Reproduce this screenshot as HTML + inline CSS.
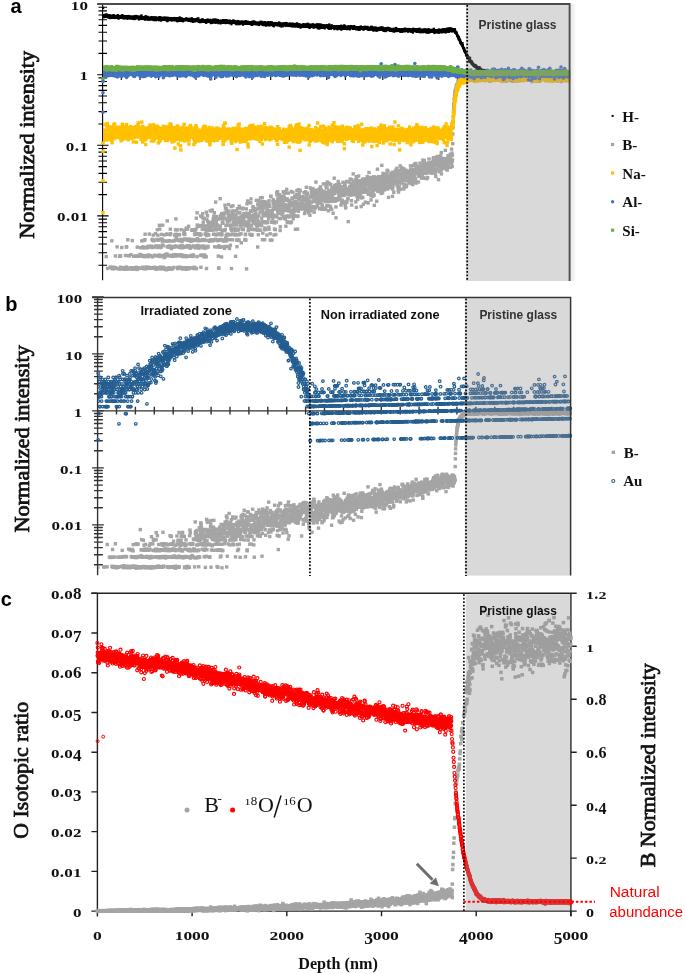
<!DOCTYPE html><html><head><meta charset="utf-8"><style>html,body{margin:0;padding:0;background:#fff}svg{display:block}</style></head><body>
<svg width="685" height="974" viewBox="0 0 685 974" font-family="Liberation Serif" style="will-change:transform">
<defs>
<marker id="mB" markerWidth="3.4" markerHeight="3.4" refX="1.7" refY="1.7" markerUnits="userSpaceOnUse" overflow="visible"><rect width="3.4" height="3.4" fill="#a5a5a5"/></marker>
<marker id="mNa" markerWidth="3.4" markerHeight="3.4" refX="1.7" refY="1.7" markerUnits="userSpaceOnUse" overflow="visible"><rect width="3.4" height="3.4" fill="#ffc000"/></marker>
<marker id="mAl" markerWidth="3.6" markerHeight="3.6" refX="1.8" refY="1.8" markerUnits="userSpaceOnUse" overflow="visible"><circle cx="1.8" cy="1.8" r="1.8" fill="#4472c4"/></marker>
<marker id="mSi" markerWidth="3.4" markerHeight="3.4" refX="1.7" refY="1.7" markerUnits="userSpaceOnUse" overflow="visible"><rect width="3.4" height="3.4" fill="#70ad47"/></marker>
<marker id="mH" markerWidth="2.2" markerHeight="2.2" refX="1.1" refY="1.1" markerUnits="userSpaceOnUse" overflow="visible"><rect width="2.2" height="2.2" fill="#000"/></marker>
<marker id="mAu" markerWidth="3.8" markerHeight="3.8" refX="1.9" refY="1.9" markerUnits="userSpaceOnUse" overflow="visible"><circle cx="1.9" cy="1.9" r="1.2999999999999998" fill="none" stroke="#255e91" stroke-width="1.2"/></marker>
<marker id="mR" markerWidth="4.2" markerHeight="4.2" refX="2.1" refY="2.1" markerUnits="userSpaceOnUse" overflow="visible"><circle cx="2.1" cy="2.1" r="1.5250000000000001" fill="none" stroke="#ff0000" stroke-width="1.15"/></marker>
<marker id="mBc" markerWidth="3.5" markerHeight="3.5" refX="1.75" refY="1.75" markerUnits="userSpaceOnUse" overflow="visible"><rect width="3.5" height="3.5" fill="#a5a5a5"/></marker>
<clipPath id="cA"><rect x="103" y="0" width="470" height="281"/></clipPath>
<clipPath id="cB"><rect x="98" y="298" width="474" height="280"/></clipPath>
<linearGradient id="sh" x1="0" x2="1" y1="0" y2="0"><stop offset="0" stop-color="#e6e6e6"/><stop offset="1" stop-color="#fff"/></linearGradient>
</defs>
<g stroke="#000" stroke-width="1.1" fill="none">
<line x1="102.6" y1="4" x2="102.6" y2="280.3"/>
<path d="M97.2 4.1H108.6 M97.2 74.7H108.6 M98.5 53.4H107 M98.5 41.0H107 M98.5 32.2H107 M98.5 25.4H107 M98.5 19.8H107 M98.5 15.0H107 M98.5 10.9H107 M98.5 7.3H107 M97.2 145.3H108.6 M98.5 124.0H107 M98.5 111.6H107 M98.5 102.8H107 M98.5 96.0H107 M98.5 90.4H107 M98.5 85.6H107 M98.5 81.5H107 M98.5 77.9H107 M97.2 215.9H108.6 M98.5 194.6H107 M98.5 182.2H107 M98.5 173.4H107 M98.5 166.6H107 M98.5 161.0H107 M98.5 156.2H107 M98.5 152.1H107 M98.5 148.5H107 M98.5 265.2H107 M98.5 252.8H107 M98.5 244.0H107 M98.5 237.2H107 M98.5 231.6H107 M98.5 226.8H107 M98.5 222.7H107 M98.5 219.1H107"/>
<line x1="102.6" y1="74.7" x2="569.6" y2="74.7"/>
<path d="M121.3 74.7V79.9 M140.0 74.7V79.9 M158.6 74.7V79.9 M177.3 74.7V79.9 M196.0 74.7V79.9 M214.7 74.7V79.9 M233.4 74.7V79.9 M252.0 74.7V79.9 M270.7 74.7V79.9 M289.4 74.7V79.9 M308.1 74.7V79.9 M326.8 74.7V79.9 M345.4 74.7V79.9 M364.1 74.7V79.9 M382.8 74.7V79.9 M401.5 74.7V79.9 M420.2 74.7V79.9 M438.8 74.7V79.9 M457.5 74.7V79.9 M476.2 74.7V79.9 M494.9 74.7V79.9 M513.6 74.7V79.9 M532.2 74.7V79.9 M550.9 74.7V79.9 M569.6 74.7V79.9"/>
</g>
<path fill="none" stroke="none" marker-start="url(#mB)" marker-mid="url(#mB)" marker-end="url(#mB)" clip-path="url(#cA)" d="M102.6 289.8l.2-.7.1-.9.2 0 .1.5.2.1.1 2.1.2-1.2.1-.5.2.2.2-.5.1-.2.2.3.1 1 .2-.3.1.3.2-1.3.1.4.2-.5.2.7.1.7.2-.5.1.5.2-33.4.1 33.8.2-1.6.1.8.2.5.2-.3.1-.4.2.1.1.1.2-21.1.1 20.4.2.7.2-1.3.1 1.6.2 1.2.1-1.2.2-.8.1.1.2-.2.1-.1.2-.6.2 1.4.1-1 .2.6.1.2.2-1.1.1-21.2.2 23.1.1-22.8.2 21.3.2 1.3.1-.3.2-.3.1 0 .2-.8.1-.1.2-47.8.1 50.2.2-22.4.2 20.5.1.1.2-21.9.1 21.3.2 0 .1-19.8.2 19.7.1 1.4.2-1.6.2-20.8.1 21.5.2-.1.1.1.2.4.1.8.2-1.4.1.2.2 0 .2.5.1-22 .2-11.5.1 34.2.2-1.5.1-20.4.2.2.1 21.1.2-1.2.2.7.1.5.2.4.1-.1.2-43 .1 43.4.2-.7.1 0 .2.5.2-.5.1.3.2-.6.1-.9.2-.2.1-19.5.2 20.8.2-.5.1.6.2-20.6.1 20.8.2-33.5.1 33.8.2-.8.1.1.2-33.2.2 11 .1-11.4.2 32.5.1 1.3.2-.4.1-20.8.2 21.1.1.5.2.2.2-42.7.1 41.5.2-.1.1 0 .2-20 .1 19.6.2.6.1.9.2-.4.2-.1.1-21.5.2 22.6.1-.3.2-22.5.1 21.3.2-20.4.1-.5.2-.6.2 21.8.1-21.1.2.9.1 20.9.2-1 .1-21 .2-12.6.1 34.6.2.8.2-22.4.1 21.2.2-42.6.1 20.2.2 0 .1-20.6.2 42.7.1-.2.2.3.2-.8.1-19.6.2 19.8.1-49.1.2 49.8.1.8.2-1.2.1.9.2 0 .2-34.3.1 33.7.2-33.8.1 34.2.2-.4.1-1.1.2-20.2.2 21.8.1-21.3.2-.1.1 19.9.2.6.1-.6.2-20.6.1-13.2.2 35.8.2-.1.1-22.4.2-.1.1 22.2.2-21.7.1.1.2 20.5.1-48.4.2 28.2.2-.3.1.2.2 20.7.1.1.2-.6.1-20.4.2 21.2.1-33.4.2 31.8.2-19.5.1 20.4.2-21.2.1 22.2.2-1.1.1-21 .2.7.1 21.8.2-.7.2-33.7.1 34 .2-33.7.1 32.8.2-20.4.1 21.4.2-22 .1-.8.2 22.8.2-21.2.1 19.7.2-19.2.1-22.3.2 41.5.1.9.2.3.1-.4.2-.4.2-32.8.1 12 .2 21.5.1-.6.2.1.1.6.2-21.6.1-12.6.2 33.1.2-20.5.1 21.7.2-.5.1-34.9.2.4.1 33.7.2-40.9.2 40.5.1-32.8.2 33.8.1-33.5.2-.3.1 35.2.2-1.8.1-47.9.2 47.5.2.8.1-33.1.2-8.6.1 20.8.2-1.1.1 22.2.2-42.6.1 9.4.2 32.2.2 1.2.1-21 .2-13.1.1-15.1.2 27.9.1-20.4.2 8.8.1 32.4.2-20.4.2-29 .1-5.5.2 33.5.1.1.2-.3.1 22 .2-33.6.1 11.6.2 22.6.2-21.4.1-12.2.2-9.1.1 20 .2-.1.1-11.3.2-8.2.1 42.1.2-34.3.2 32.8.1-41.4.2 20.6.1-21.2.2 10.2.1-1.6.2 33.6.1-42.1.2 43 .2-22.1.1-33.3.2 33.9.1-.1.2 20.6.1 1.5.2-21.7.1 21.4.2-43 .2 42.6.1-20.9.2-12.8.1 12.6.2-22.1.1 42.6.2.7.2-21.3.1.2.2-20.9.1-7.6.2 49 .1-31.9.2-9.4.1-8.1.2 49.1.2-47.9.1-5.5.2 55.2.1-1.5.2-20.8.1-21 .2-6.4.1 27.1.2 22 .2-22.4.1 22.2.2-34.3.1 12.6.2 21.5.1-33.4.2 32.4.1-54.6.2 35 .2-22.8.1 23 .2 20.1.1-21.3.2-20.8.1 21.9.2-.1.1-29.2.2 29.1.2-38.9.1 10.2.2 49.9.1-42.3.2-12.3.1 5.1.2 48.5.1-33 .2.1.2 32.4.1-42.3.2 21.6.1 21.5.2-63.8.1 29.8.2.4.1-26.4.2 17.6.2-7.3.1 17.1.2 12.3.1-1.6.2 21.4.1-20 .2-21.1.2-1.3.1 22.1.2-33.9.1 4.8.2 28.6.1-12.1.2-16.5.1 1.9.2 27.4.2-23.5.1-19.8.2 42 .1 1.4.2-22.9.1 44.5.2-1.2.1-33.5.2-14.9.2 27.2.1-10.2.2-2.4.1.5.2-20.8.1 34.1.2 21.2.1-21.3.2-12.5.2-.7.1.9.2 12 .1-27.4.2 13.3.1.9.2 14.4.1-14.5.2-1.2.2-19.8.1-.1.2 12.4.1-25.7.2 33.5.1 1.1.2-14.2.1 48.2.2-20.3.2-.2.1 19.8.2-41.8.1.1.2 20.7.1 21.1.2-48.3.1 5.4.2 22.7.2-22.2.1 21.8.2-12.5.1-21.1.2 11.6.1-17.1.2 26.5.1-22 .2 56.5.2-43.6.1 22.4.2-20.4.1-7.5.2 14.1.1-8.2.2 21.1.2-11.8.1-9 .2 21.6.1-13.1.2 33.5.1-42.4.2 0 .1 9 .2 33.4.2-34 .1.9.2-.8.1 12.1.2-26.6.1 49 .2-42.8.1-12 .2 5.3.2 49.4.1-35.1.2 34.5.1-43.3.2-16.1.1 4.7.2 55 .1-70.6.2 19.5.2 16.5.1-20.5.2 1.3.1 20.3.2 32.8.1-48.9.2-10 .1 37.7.2-20.9.2 21.9.1-13 .2-.4.1 0 .2-15.1.1.3.2 6.5.1-.4.2 21.5.2-.6.1-32.7.2 5.4.1-5.5.2 12 .1-5.9.2 26.6.1-27.1.2 5.8.2 8.8.1-7.1.2-1 .1 8.7.2-25.7.1 59.3.2-32.8.1-16.8.2 28.6.2.3.1-26.7.2 13.6.1 13.8.2-23 .1.2.2 1.5.2 8.9.1 11.3.2 20.7.1-48.7.2 49.3.1-33.6.2-22.2.1.7.2-3.6.2 8.7.1-5.4.2 13.1.1-12.4.2 4.6.1 28.6.2-11.9.1 32.8.2-32.7.2 12.3.1 1 .2-22.1.1-19 .2 28.6.1 12.2.2-39.8.1 27.1.2-9.9.2-.5.1 22.5.2-27.9.1-11.4.2 38.8.1-28.7.2 29.1.1-.4.2-27.4.2-14.1.1 42.5.2-12.5.1-10.4.2.4.1 21.8.2-21.2.1 42.6.2-50.2.2 7.6.1 1 .2-.9.1 1 .2 41.7.1-33.5.2-15 .1-.1.2 14.6.2 12.1.1-12.4.2.9.1-26 .2 9.7.1-.5.2 6.8.1-16.6.2.6.2 25 .1-8.6.2-6.3.1 16 .2 12.1.1-13.5.2-8.9.2 22.2.1-21.5.2 20.4.1 23.1.2-49.9.1-5.8.2-.4.1-3.4.2 9 .2 8 .1-1.5.2.7.1-6.6.2-11.2.1 5.2.2 34.3.1-50.5.2 50.1.2-21.6.1-13 .2 22.9.1-43.8.2 12.3.1 13.6.2-11.9.1 19.6.2-.9.2-5.7.1-14.2.2 14.7.1 7.7.2 40.6.1-47.8.2 7.2.1-1.6.2-12.6.2.1.1.1.2-7.8.1 8.3.2.2.1.3.2 20.5.1 34.6.2-74.1.2 51.3.1-32.8.2 5.7.1 6.2.2-29.7.1 8.8.2 29.5.1-8.5.2-6 .2-11.3.1-3.3.2 13.7.1-25.8.2 33.8.1-29.7.2 71.6.1-67.3.2 25.5.2 8.4.1-10.1.2-16.6.1-10.6.2 38.1.1-17.3.2 49.6.2-34.2.1-29.1.2 8.2.1 6.3.2-13.8.1 21.5.2-14.1.1 13.1.2-17.3.2 27 .1-44.6.2 56.3.1-32.9.2-5 .1-11.4.2 10 .1 5 .2-18.6.2 31.8.1-25.8.2 4.1.1 20.6.2-16 .1 10.2.2-5.5.1-.1.2-12.3.2 6.9.1-7.2.2 4.4.1 3.4.2 10.4.1.7.2-11.5.1-4.1.2-14.8.2 14 .1 1.8.2-1.3.1 14.6.2-17.2.1 2.2.2 1.5.1-15.7.2 29 .2-9.7.1-3.9.2-1 .1-15 .2 20 .1-5.2.2 15 .1.9.2-19.2.2-2.7.1 3.4.2 12 .1-8.9.2-9 .1 24 .2-.7.2-26.9.1 8.2.2 4.7.1 21.1.2-30.4.1 12.1.2 5.8.1-8.9.2 13.9.2-37.2.1 32.8.2-5 .1-.9.2-7.2.1-2.7.2 6.7.1-.8.2-8.4.2 30.4.1-18 .2-4 .1 15.7.2-21.8.1 20.9.2-5.5.1.3.2 21.5.2-37.1.1 49.1.2 0 .1-22.2.2-27.3.1 15.4.2-4.6.1 17.7.2-17.9.2 18 .1-18.1.2-30.4.1 27.3.2 13.5.1.8.2-24.9.1 1.1.2 30.3.2-13.2.1 1.2.2 22.1.1-43.2.2 4.8.1 16 .2-3.8.1-8.3.2 18 .2-17.1.1-1 .2-3.4.1 21.5.2-26.9.1 4.5.2 23 .1-10.9.2-14.9.2 31.6.1-16.2.2 9.2.1 8.6.2-1.2.1-28.7.2-13.3.2 7.6.1 16.9.2-21.2.1 30 .2 7.9.1-20.8.2 9.9.1 5.5.2-32.2.2 1.9.1 14.6.2 9.8.1-16 .2 15.1.1-14.4.2 2.3.1 17.4.2-4.8.2-21.6.1 21.3.2-18.8.1 31 .2-42.1.1 14.6.2-8.1.1 4.5.2.9.2-1.3.1 33.4.2-8.8.1-18.7.2 4.6.1-.3.2-6.7.1 26.6.2-27 .2 10.6.1 6 .2-19 .1-9.2.2 9.5.1 52.4.2-49.8.1 11.6.2-5.2.2-12 .1 20.9.2-22.8.1 28.6.2-22.5.1-11.5.2 23.5.1-14 .2 9.5.2-6.9.1 4.4.2-11.3.1 10.8.2 7 .1-10.6.2-2.1.1 2.3.2 11 .2 5.3.1.1.2-4 .1-11.1.2 36.6.1-41.5.2.9.2 9.3.1-3.2.2-11 .1 13.8.2 15.5.1-10.9.2 17.5.1-11.9.2-12.5.2 17.4.1-31 .2 9.3.1 11.9.2-17.1.1 9.2.2 7.8.1-.4.2 10.8.2-5.4.1 5.6.2-34.2.1 12.5.2 2.6.1 12.9.2-21.5.1 8.7.2 4.3.2-7.6.1 4.2.2-5.3.1-8.8.2 10.7.1 14.9.2-7.9.1 16.9.2-18 .2-3.6.1-1.9.2-3.7.1 13.3.2-9.7.1-10.3.2 9.7.1-.3.2-2.4.2 13.6.1-21.2.2 21.2.1-11 .2 4.1.1-2.6.2-6.5.1.2.2 9.6.2 1.5.1-2.3.2 17 .1-23.1.2 23.5.1-24.2.2 18.6.1.3.2-8.8.2 14.3.1-16.2.2.9.1-15.9.2 4.4.1 55.6.2-44.3.2-20.7.1 18.2.2-5.5.1-.1.2-15.5.1 12.5.2 12.4.1-3.7.2 8.3.2-28.1.1 19.7.2 7.2.1-2.8.2-8.2.1 10.8.2.4.1-15.8.2 5.6.2 6.4.1 8.6.2-9 .1-9.5.2 4 .1-8.9.2 5 .1-13 .2-4 .2 19.2.1 17.1.2-9.9.1-14 .2 23.7.1-.4.2-13.7.1-2.4.2.4.2 10.1.1-13.2.2 13.7.1-22.5.2 0 .1 12.7.2-9.5.1 12.7.2-7.9.2 7.9.1-14.4.2 7.3.1 3.7.2-5 .1 7.9.2-12.6.1 11.4.2-11.9.2 20.4.1-18.8.2 7.2.1-2.4.2-1.9.1 10.5.2-24 .1 8.7.2 15.9.2-9.5.1 9.5.2 1.5.1-7.7.2 11.5.1-4.4.2 21.2.2-42.9.1.9.2 16.4.1 13.3.2-34.2.1 8.1.2 7.1.1-11.8.2 18.4.2 2.8.1 4.9.2-21.8.1.4.2 13.9.1-10.3.2 18 .1-23.4.2-8.9.2 3.9.1 5.2.2 18.3.1-20.5.2 17.8.1-14.4.2 10.1.1 7.3.2-19.3.2-.3.1-8.4.2 13.6.1 28.5.2-17.8.1 11.3.2-31.6.1 13.1.2-6.6.2 13.7.1-6 .2-13.1.1 2.2.2-.7.1 11.2.2 14.1.1-27.8.2 38 .2-11.7.1-5.9.2.6.1-19.1.2 3.4.1 22.6.2-16.6.1.5.2 9.1.2-18.4.1 7.2.2 10.4.1-19.6.2 32.9.1-27.1.2 3.5.2 4.2.1 6.8.2-19.2.1 10.2.2-7.2.1 4 .2-4.3.1 10.4.2 2.5.2 8.3.1 2 .2-28.4.1 3.7.2 11.5.1-4.1.2-5.7.1 6.9.2-2.3.2 23 .1 6.3.2-23.9.1-1 .2-19 .1.4.2 17.9.1-3.5.2 11.3.2-5.8.1-3.6.2-1.1.1 28.3.2-29.4.1 10.7.2.6.1-6 .2 2.2.2-16.5.1 6.6.2-8.7.1 4.5.2 5.1.1 5.9.2 6.8.1 13.1.2-27.7.2 15.6.1 6.2.2-13 .1-9.4.2.6.1.2.2 22.1.1-20.5.2-3.4.2 28.8.1-32.2.2-.9.1 15.5.2 5.1.1-15.4.2-13.8.1 23.2.2-21 .2 9.9.1-2.2.2 6.7.1-17.8.2 20.9.1-13.7.2 9.4.2-1.9.1 7.1.2-14.8.1 5.3.2 8.8.1-1.7.2 7.5.1-23.8.2 6.4.2 6.7.1-10.9.2 14 .1 19.6.2-3.7.1-28.4.2 11.9.1 8.3.2-20.3.2 8.1.1 1.7.2-10.8.1 13 .2-6.2.1 8 .2 1.7.1 1 .2-12.3.2-5.2.1 3 .2-4.2.1 16.5.2-11.2.1-9.5.2 8.4.1 9.9.2 6.5.2-19.3.1-5.6.2 5.4.1 8.2.2 13 .1-10.1.2-2 .1-13.1.2 23.5.2 2.2.1-14 .2-12.1.1 17.3.2 16.1.1-21.2.2-4.9.1 7.7.2 2.1.2-20.6.1 26.8.2-15.6.1-1.7.2 23.2.1-.1.2-12.4.1-3.2.2 16 .2-11.4.1 5 .2.8.1-23.6.2 7.3.1 5.3.2 11.1.2-6.9.1-8.2.2 2.2.1 4 .2-6.5.1 1.3.2 19.8.1-11.3.2 0 .2-7.7.1 19.2.2-6.5.1 0 .2-3.4.1-21.3.2 30.5.1-16.5.2-1.5.2 6.9.1-12.2.2 12.4.1-13.1.2 6.4.1-2.1.2-10 .1 24 .2 2.4.2-13.7.1 3.8.2 5.2.1-11.4.2 7.8.1.6.2-7.4.1-1 .2 5.4.2-11.8.1 19.7.2-14.4.1 5.5.2 22.3.1-27.5.2-4.1.1-.7.2-.8.2 14 .1.4.2-7.9.1 0 .2-8.1.1-3.9.2 12.9.1 12.8.2-9.5.2 22.2.1-23.1.2-1.3.1 11.3.2-5.6.1-20.7.2 21.5.1-16.7.2 4.2.2 1 .1-4.8.2 9.1.1 3.5.2-1 .1-15.1.2 5.2.2-6.3.1 9 .2-.6.1 6.3.2 0 .1-6.4.2 5.2.1-1.5.2 6.7.2-9.8.1 7.3.2-8.5.1 3.8.2 2.8.1-4 .2-3.4.1 8.4.2-8.6.2 2.8.1-3 .2 3 .1 9 .2-1.5.1-2.7.2-4.3.1-1.2.2-6.5.2 0 .1 8.3.2 12.6.1-13.5.2-7.2.1 7.3.2 7.6.1 3.2.2-6.1.2-13 .1 14.9.2-1.9.1-6.7.2-10.8.1 21.4.2-12.9.1 6.4.2-6.9.2 3.6.1.1.2 9.2.1-15 .2 9.1.1 6.5.2 1.9.1-7.4.2-1.4.2 2.4.1 8.6.2-11.3.1 7.5.2-2.4.1 3 .2-3.9.1.2.2-5.2.2 14.4.1-7.7.2-19.6.1 19.9.2-10.7.1 5.5.2-.3.2.2.1-6.2.2-1.3.1-4.9.2 1.9.1 18.9.2-20.7.1 5.4.2-4.9.2 2.8.1 3 .2 10.1.1-18 .2 18.8.1-10 .2-1.9.1-5 .2 3.5.2-1.4.1 9 .2-1.5.1 12.1.2-12 .1-1.4.2-4.4.1 14.4.2-9.4.2-1.7.1-1.4.2 10.7.1-13.6.2 2.6.1-13.9.2 17.7.1-9.5.2.1.2 16.4.1-5.3.2-2.8.1 2 .2-4.1.1 9 .2-13.4.1 11.7.2-.8.2-10.7.1 3.4.2-4.8.1 8.7.2-5.1.1-3.3.2 7.6.1-3.1.2 5.3.2-12 .1 19.7.2-18.2.1 10.9.2-12.9.1 8.1.2 11.5.2-21.3.1 16.1.2-12.6.1 5.8.2-1.3.1-4.6.2 2 .1 5.2.2 11.6.2-12.5.1-1.3.2 9.2.1 2 .2-5.9.1-8.1.2 2.5.1 2.3.2-6.1.2-7.3.1 11.5.2 13.9.1-17.1.2 15.9.1-12.9.2-2.4.1-1.1.2 7.5.2.4.1-3.3.2.5.1-2.4.2-1.9.1.2.2 16.5.1-7.6.2-2.8.2-12 .1 12.8.2-4.5.1-11.2.2 22 .1-18.4.2.5.1 9.5.2-15.4.2 23.3.1-21.6.2 9.2.1.2.2 12.6.1-11.6.2 16.6.1-9.6.2-10.1.2 1.2.1 5.5.2-5.7.1-8.8.2 18.2.1-4.3.2-6.5.1 3.6.2 5.6.2-5.2.1 11.6.2 2.6.1-24.3.2 12.7.1-.4.2 2.9.2.1.1-3.3.2 12.6.1-20.2.2 6.8.1-8.4.2 10.5.1-3.6.2 6.9.2-7.6.1-2.1.2 21.7.1-25.3.2 4.2.1.3.2.7.1-3.8.2 9.3.2-20.4.1 12.1.2 1.1.1 2.2.2-8.2.1 15.4.2.3.1-13.9.2.5.2 10.9.1-7.1.2 15.4.1 10.9.2-17.9.1-15.1.2 6.1.1-3.1.2 12.4.2-10.7.1-.2.2-1.2.1 11.9.2-11.7.1 2.2.2-4 .1 5.1.2-10.1.2 11.5.1 5.9.2-15 .1 4.5.2 9.2.1-3 .2 2.6.1-3.7.2-8.7.2 7.4.1-4.2.2 11.5.1-4.8.2-4.2.1 2.2.2 2 .1-1.7.2 12 .2-13 .1 3.8.2-7.5.1 14.7.2-15.9.1 2.7.2 3.1.2 8.4.1-1 .2-7.7.1-5.3.2 15.2.1-20.2.2 7.1.1 1.1.2 0 .2-3.9.1 15.9.2-10.2.1 3.2.2-6.9.1 2.7.2.1.1-6.6.2-1.4.2 3.7.1 18.4.2-18.4.1 15.5.2 5.3.1-13.7.2 7.9.1-10.1.2-2.4.2 11.8.1-19.9.2 20.8.1-12.5.2 2.7.1-2.8.2 0 .1-.5.2 9.9.2-10 .1 9.1.2 23.4.1-31.9.2 2.5.1-2 .2 2.2.1 2 .2-12.3.2 6.7.1 1.7.2-3.4.1 6.2.2-4.5.1-2.2.2-7.5.1 15.8.2-1.7.2 1.5.1-7.8.2 2.4.1-5.6.2 10.5.1 6.5.2-21 .1 25.3.2-15.8.2-2 .1 5.7.2-7.3.1.3.2 3.6.1-.2.2 5.5.2-20.9.1 17.4.2-9.2.1 4.8.2 1.1.1-5.8.2 11.7.1.3.2-6.6.2 5.3.1-7 .2-.4.1-4.4.2 11.6.1-1.8.2-.6.1 1.1.2 10.5.2-22.1.1 13.3.2-15.3.1 29.5.2-25.1.1-5.5.2 12.4.1 7.2.2-12 .2 8.1.1-11.8.2 18.9.1-7.7.2-4.5.1 6.8.2-13.3.1.3.2-5 .2 20.6.1-3.6.2-5.4.1 4 .2-9.1.1 1.9.2 10.9.1-12.5.2 4.5.2-2.5.1 5.8.2 2.6.1-12.6.2 7.6.1-.4.2 9 .1 9.7.2-8.7.2-9.6.1-1.5.2-3.2.1 8.8.2-4.2.1 3.3.2-7.5.2-4.8.1 18.3.2-8.7.1-1.6.2 17.1.1-20.3.2 1.6.1-4.6.2 3.1.2 6.2.1-.3.2-11 .1 12.4.2-8.1.1 3.2.2 5.6.1-1.2.2 11.3.2-10.3.1-3.3.2-3.9.1 3.4.2-5.2.1-.5.2-2.3.1.8.2.6.2-.4.1-2 .2 13 .1-15.5.2 7.3.1-3.8.2 22.5.1.2.2-10.5.2 2 .1-3.4.2-8.6.1-1.8.2 4.6.1-12.6.2 16 .1-7.6.2.9.2 11.4.1-4.9.2-10.8.1 8.7.2-7.9.1 10.7.2-9.2.1 3 .2 13 .2 4.1.1-15.3.2 8.8.1-9.7.2 4.7.1-5.9.2-4.7.1 1.1.2 11.9.2-5.9.1 7.5.2-8 .1 11.8.2-5.1.1-11.9.2 7.7.2 0 .1-10 .2 7.1.1 6 .2 5 .1 10.3.2-26.1.1-2.2.2 9.2.2.2.1-3.7.2.4.1 2.8.2-3.2.1-2 .2 4.5.1 2.2.2-6.7.2 8.8.1-3.3.2 15 .1-17.5.2-5.3.1 3.8.2 3.6.1-16.6.2 19.2.2-10.6.1 13.1.2.6.1-1.7.2.6.1-7.2.2-6.1.1-.4.2 8.8.2-3.6.1 6.4.2-6.8.1 9.8.2-6.1.1-2.3.2-4.9.1-1.3.2 9.2.2-5.7.1 3.9.2 3.6.1-8.5.2 14.2.1-10.4.2 2 .1 3.2.2-22.9.2 17.9.1 7.5.2-4.8.1-5.5.2 12.3.1-15.2.2 12.3.1-16.4.2 9.6.2-6.9.1-.3.2 8.9.1-6.4.2-3 .1 9.8.2 3.4.2 1.3.1-6.3.2 2.5.1-8.4.2-3.6.1 7.2.2-4.1.1 2.2.2-4.8.2 12.2.1-4.8.2.1.1-.1.2 4 .1-10.4.2 3.9.1-4.9.2 8.5.2-12.7.1.4.2 15.9.1 2.4.2-12.4.1-5 .2 5.4.1 4.3.2 16.1.2-20.3.1 7.6.2-.5.1-3.5.2.7.1.4.2.1.1-4.7.2-.8.2-.1.1 11.1.2-11 .1 3.6.2 7.7.1-12.3.2-1.3.1 8.3.2-6.4.2 4.2.1 7 .2-2.9.1-9.8.2 5.3.1-7.5.2 10.6.1 13.4.2-7.2.2-2.8.1-9.6.2-4 .1 10.6.2-10.8.1 5.6.2 14.2.1-8.8.2-1.2.2-6.4.1 7.2.2-2.4.1-4.9.2-.2.1 3.2.2 1.8.2-9.4.1 7.6.2 3.8.1-10.4.2 8 .1-10.3.2 8.6.1-5.5.2 5.1.2.3.1-10.1.2 13.8.1 3.4.2-10.7.1 9.8.2-8.9.1 6.6.2 4.8.2 2.8.1-18.8.2 21 .1-21.3.2-.1.1 4.4.2 6.4.1-5.7.2 10.4.2-12.2.1-.9.2 7 .1 2 .2-16.2.1 23.5.2-10 .1-6 .2 5.6.2-1.2.1 5.1.2-14.8.1 1.2.2 5.4.1 3.6.2-3.8.1 8.5.2-14.7.2.2.1 11.3.2.4.1-3.1.2-4.7.1 6.8.2.1.1-.8.2.8.2 9.6.1-20 .2 6 .1 11.3.2.8.1-6.5.2 3.8.1-6.6.2-5.9.2 2 .1 3.9.2-7.1.1 2.4.2 4.4.1-1.1.2-6 .2 16.3.1-6 .2 4.8.1-9.6.2-3.3.1 3.8.2 3.7.1-.5.2-8.3.2 6.3.1-3.1.2 2.3.1-1.5.2 4.5.1-.9.2-1.1.1 3 .2 2.3.2-11.4.1 3.2.2-3.2.1.9.2 8.6.1-3.8.2.7.1 1.7.2-2.1.2-11.7.1 3.4.2 6.5.1 5.1.2 2.6.1-9.4.2 2.3.1-3.1.2 1 .2-5 .1 10.1.2-7.8.1 6.7.2-5 .1 8.5.2 2.8.1-7.9.2-.5.2-6.9.1 1.4.2-5.4.1 11.6.2 2.1.1-6.7.2 2.7.1 2.8.2-5.8.2-7.9.1 6.5.2 2.1.1-1.5.2-1.7.1 12.2.2-3.4.2-6.4.1-8.4.2 19.6.1-13.7.2-2.6.1 1.1.2 2.8.1-2.5.2 0 .2 4.9.1-6.1.2 4.6.1-1.2.2-3.6.1.4.2 6.3.1.8.2 7.7.2-7.4.1-8.5.2 8.9.1-3.1.2 4.5.1-1.8.2-7.1.1 4.5.2-3.7.2 3.4.1-8.6.2 9 .1-4.6.2-1.1.1 8.3.2 1.5.1-4.1.2 3 .2 3 .1-11 .2 8 .1-2.3.2-6.1.1 3.3.2 5.4.1 1.1.2-11.9.2-4.4.1 4.4.2 4.3.1 9 .2-13 .1 2.9.2 3.9.1-10.6.2 11.8.2-11.3.1-1.2.2 10.4.1-3.3.2-1.9.1 12.6.2-14.5.1 0 .2 2.4.2 3.4.1-2.4.2 5.7.1-7.8.2 8.4.1-3.1.2-4.4.2-2.4.1 15.2.2-11 .1-2.7.2-.6.1 1.6.2 11.6.1-12.4.2 3.7.2-3.8.1 2.6.2-1.9.1 1.5.2-4 .1-.2.2-4.1.1 12.9.2-6.2.2-1.2.1 5.5.2 2.7.1-8.2.2 4.5.1 3.6.2-9.8.1-.1.2 7.5.2-5.9.1 7.3.2-3.4.1-4.5.2 6.1.1-4.6.2 2.9.1-5.2.2 10.2.2-9.2.1.3.2-2.2.1 10.1.2-2 .1-.3.2 2.7.1-13.4.2-1.4.2.8.1 7.2.2 2 .1-7.1.2 11.4.1-9 .2 8.3.1-1.2.2 1.5.2-1.6.1 3.5.2-8.7.1-7.2.2 2.6.1 16.3.2-16.8.1 3.6.2 2.5.2-.3.1-2.1.2-.7.1-3 .2-2.8.1 7.8.2-3.4.2-4.8.1 3.9.2 9 .1-7.3.2 4.3.1-4.1.2 17.3.1-18.1.2-2.9.2 13.1.1-10.2.2 3.9.1-5.6.2 4.9.1-1.3.2-3.7.1 3.5.2 0 .2-2.3.1-5.1.2 11 .1-4.5.2.9.1 7 .2-17.6.1 21.3.2-13.4.2-2.2.1 3.4.2 6.7.1-2.6.2 2.3.1-5.5.2 1.7.1 3.9.2-6.8.2 6.6.1-2.4.2-.4.1-3 .2 6.3.1-4.5.2-5.4.1 3.1.2.4.2-1.4.1 5.1.2-4.1.1-2.2.2.1.1-9.3.2 9.1.1 8.4.2-6.8.2 5.1.1.1.2.1.1.3.2-6.4.1.5.2 8.9.1-10.9.2 11.3.2-3.3.1-2.8.2-5.8.1 4 .2-.5.1-5.9.2 3.5.2-3 .1 3.5.2 1.7.1-5.2.2 10.8.1-8.9.2 1.1.1 2.8.2-3.1.2 2 .1-3.6.2-3 .1 1.3.2 4.8.1 6.9.2-10.3.1 5.8.2.5.2-1.3.1 1.2.2-14.1.1 12.3.2-8.3.1 8 .2 5.2.1-11.2.2 4.9.2-16.3.1-9.7.2-6.5.1-5.5.2-5.3.1-4.8.2-2.4.1-2.6.2-3.1.2-.2.1-4 .2.1.1-2.8.2.2.1-3.2.2 1.4.1-4.7.2 1.9.2-.9.1-.4.2-.4.1-1.7.2.9.1-3.7.2.8.1 1.9.2-3.1.2-1 .1-.1.2.6.1-.9.2 2.6.1-1.8.2.7.1-1.3.2-2.7.2-1 .1-.5.2 2.3.1-1.5.2.7.1-1 .2 0 .2 1.1.1-2.6.2 1.8.1.1.2-.6.1.4.2 1.1.1-2 .2-.8.2-.5.1 1.2.2-2.5.1 2.7.2-.2.1 2.1.2-4.9.1.5.2-.3.2 3.5.1-2.9.2 2.9.1-3.6.2 1.6.1.3.2-.6.1.3.2-2.3.2.5.1 3.2.2-2.9.1 4 .2-5.3.1 2.9.2-.3.1-.3.2-2.9.2 1.9.1.9.2-.8.1 1.1.2-1.6.1 1.9.2-.3.1-.1.2-1.8.2 1.2.1.5.2 1.5.1-3 .2 1.6.1-.8.2.6.1-.7.2.1.2 2.3.1.1.2-1.8.1 1.7.2-2.9.1.8.2-1.3.2.5.1.1.2 1.5.1-1.1.2-.8.1-.1.2.9.1.4.2.7.2-.4.1.2.2-2 .1-.1.2 1.7.1.5.2-1.7.1-.6.2.8.2 2.2.1.5.2-3.9.1.8.2 1.7.1-.5.2.1.1-.2.2 1.2.2-2.3.1 1.9.2.6.1-2.8.2 1.3.1-1.3.2 1 .1-.7.2-.9.2 1.7.1-1 .2 2 .1-1.2.2 3.4.1-2.7.2.8.1 1.1.2-2.9.2.8.1-.5.2 2.2.1-2 .2-2.3.1 1.8.2 2.4.1-2.4.2.6.2 1 .1.2.2-1.2.1 2.8.2-3.9.1.4.2.3.1-.3.2-.6.2 3.2.1-1.9.2-.5.1-.2.2 1.4.1-.4.2-1 .2.1.1-1.4.2 4.3.1-2.2.2.4.1-.7.2.3.1.9.2-1.1.2 1.9.1-.3.2-.1.1-1.5.2-.7.1-.5.2 3.1.1-1.3.2-1.7.2 1.4.1-1.7.2-.1.1 2.4.2-.1.1-.6.2 1 .1-.9.2.3.2-2.5.1 2.2.2.7.1-.7.2-.3.1 2.9.2-1.3.1.4.2-1.5.2-.8.1 1.7.2.8.1-2.7.2 1.4.1-.5.2-.7.1-.5.2 1.7.2.6.1.2.2-.3.1-1.3.2-3.1.1 2.7.2 1.3.1-.5.2.2.2 1.3.1-1.7.2-.4.1.2.2 1.1.1-.9.2.8.1-.4.2 1.8.2-3.1.1 1.3.2 2.8.1-2.9.2-1.1.1-2.8.2 4.7.2-3 .1 3.1.2-2.4.1.3.2 1.1.1 1.1.2-.1.1-2.5.2-.5.2 2.1.1-.1.2.6.1-.9.2.7.1-1.9.2.2.1.5.2 1.8.2.5.1-1.1.2-2.3.1.7.2 1.1.1-1.2.2.4.1 1.7.2-2.9.2.5.1 2.8.2-1.1.1-1.4.2-1 .1.5.2 2.7.1-.5.2-2.2.2 2.4.1-1.2.2.8.1-1.2.2 2.4.1-.1.2-.4.1-3.6.2.1.2.1.1 3 .2.4.1-1.6.2.8.1 1 .2-2 .1 1.9.2-2.6.2 1 .1.8.2 1.2.1-1.6.2 0 .1-.8.2.6.1.2.2 1.6.2-.9.1-.8.2-.5.1.9.2 1.5.1-.5.2-.7.2-1.3.1 1.1.2.9.1-1.2.2.1.1-1.9.2 1.7.1.7.2-.7.2-.6.1 2.9.2-1.8.1.8.2-.5.1-.3.2-2.2.1.8.2.5.2 1.7.1-1.7.2-.3.1 2.6.2.2.1-3.7.2.3.1 1.2.2-1.2.2.2.1-1.8.2 6.2.1-3.7.2-1 .1 1 .2 1.2.1.8.2-3.2.2-.9.1 4.9.2-1.1.1-2.1.2-.2.1 1.7.2 1 .1-3.1.2-.3.2 4 .1-2.4.2-.5.1.7.2-1.8.1 1.3.2-.3.1.4.2 2 .2-4.5.1 3.5.2-.7.1-1.6.2.7.1 1.1.2 2.4.1-2.7.2-1.3.2 1.6.1 1.6.2-3.3.1-1.2.2 1.4.1-.1.2 3.5.2-1.4.1 2.1.2-4.1.1.6.2 3.8.1-3.9.2-.5.1 2.3.2-.7.2-2.2.1 3.6.2-2.3.1-.7.2.9.1.8.2-.7.1-.3.2-.4.2-1.1.1 3.9.2-1.8.1.1.2-2.1.1 3.4.2-3.6.1 3.2.2-.1.2.7.1-1.4.2.3.1-.7.2.4.1-1.1.2.3.1 3.6.2-4.5.2 1.4.1.1.2.6.1-1.8.2 1.6.1-1.8.2 2.8.1-3.4.2.4.2 3.1.1-2.5.2 1.6.1.9.2-.9.1-.8.2 1 .1-1.5.2-.8.2 3.2.1.7.2-2.3.1-.4.2.2.1-.8.2.2.2 3.1.1-2.4.2 1 .1-.8.2 1.5.1-2.3.2.8.1.6.2 1 .2-3.8.1.9.2.3.1 1.7.2.2.1-2.9.2 2.4.1-1.6.2-1.5.2 4.5.1-.4.2-2.1.1 2.5.2-1.6.1.2.2-1.7.1 2.7.2-1.8.2-.6.1 2.2.2-.2.1-2.4.2.2.1 2.9.2-.1.1-3.9.2 1.9.2.9.1-.8.2.2.1-.7.2-1.4.1.2.2 2.6.1-.2.2-.2.2-2.5.1.7.2 3.7.1-1.8.2.1.1-2.1.2 0 .1 2.1.2.6.2-1.4.1-.5.2.4.1 1.7.2-1.1.1-1 .2.2.1-.3.2 1.8.2-.5.1-.7.2 3.8.1-3.3.2-1 .1.1.2 1.1.2-.3.1-1.1.2 1 .1 1.7.2-2.4.1 2.6.2-1 .1-3.6.2 2.2.2-.7.1.3.2-.2.1.8.2-.8.1.8.2 1.2.1-1.5.2.3.2-1 .1-.3.2-.3.1 2.8.2-1.5.1-1.7.2 2.8.1.2.2-.3.2.1.1.3.2-2.9.1 2.6.2-.8.1 1.4.2-3.9.1 3.9.2.3.2-2.7.1 1.9.2-.9.1-1.8.2 3.4.1-3.6.2 2.8.1 2.7.2-3.5.2.8.1 1 .2-4.7.1 3.6.2 1.7.1-2.2.2-1.3.1.2.2 1.3.2.3.1-.2.2 1.1.1-2 .2.1.1-1.3.2 3 .1-3.3.2.6.2.3.1 1.4.2-1.1.1 1.2.2-1.6.1 1.3.2.9.2-.7.1.9.2-2.1.1 1.2.2.8.1-4.1.2 3 .1-1.6.2 2.4.2-1.3.1 1.2.2-1.5.1.4.2-2.4.1 5.6.2-2.9.1-1.9.2 4.3.2-3.4.1 1 .2-.4.1 1.3.2-.2.1 1.7.2-1.7.1-.2.2.6.2-2.9.1 1.8.2-1.4.1 1.1.2 1.7.1-1.1.2 0 .1.4.2-1.7.2.3.1 1.2.2-1 .1 1.7.2-.5.1-2.2.2.3.1.2.2-.8.2 1.9.1.3.2-.6.1-.9.2-.5.1 1.7.2.1.1-1.5.2.7.2.4.1 1.2.2-.7.1-.4.2-.1.1.3.2-1.3.1 1.1.2.5.2.1.1-.8.2-.3.1 0 .2 0 .1 1.3.2-2.1.2 2.8.1 1.3.2-3.5.1.1.2 1.7.1-.3.2-1.7.1-.1.2 1.9.2.1.1-1.5.2-.9.1-1 .2 2.5.1-.4.2 1.6.1-.8.2 2.8.2-.7.1-3.8.2 1 .1 1.3.2-2.2.1 1.5.2.5.1.3.2-.8.2-2.1.1 2.5.2-3 .1 1.6.2-.6.1 1.4.2 1.6.1-2.8.2 2.5.2-2.6.1.2.2 1.3.1.8.2-.1.1-1.6.2 1.8.1 2.5.2-1.8.2-3 .1.7.2 1.6.1-.6.2 0 .1-3.4.2 4.4.1-.3.2-1.1.2-.6.1 1.1.2-1.6.1 1 .2.8.1 0 .2-.5.1-.1.2-.6.2-1.1.1 1.8.2-1.2.1-.1.2 1.7.1 2 .2-2.8.2-.2.1-1.2.2 4.1.1-3.3.2 1 .1-.7.2-1 .1 1 .2-.3.2.3.1 1.8.2-1.7.1.8.2-.9.1 2.6.2-3.1.1.6.2.5.2.3.1-1.7.2.8.1-.5.2.3.1 1.2.2-1 .1-.6.2 1.6"/>
<path fill="none" stroke="none" marker-start="url(#mNa)" marker-mid="url(#mNa)" marker-end="url(#mNa)" clip-path="url(#cA)" d="M102.6 129.7l.2 3.4.1-.1.2 3 .1-2 .2-.2.1-9.2.2 15.5.1-8 .2 3 .2-4.4.1.7.2.8.1 5.5.2-.2.1-3.3.2 5.1.1-8.8.2 3.4.2-3.6.1 6.4.2-4.6.1 3.5.2 2.7.1-13.9.2 15.6.1-6.8.2-2.4.2-5.8.1 5.9.2-7.3.1 8.8.2-1 .1 7.3.2-7.9.2 5.2.1.3.2 3.3.1-8.4.2 3.7.1-8.4.2 1.5.1 3.1.2.9.2-4.4.1 3 .2 4.1.1-4.3.2 1.1.1-2.7.2 8.4.1 1.5.2-5.8.2-1.2.1 6.6.2-4.4.1-4.2.2-2.5.1 2.8.2 10.2.1-10.2.2 12.8.2-10.7.1-.7.2 5.6.1-5.7.2 2.3.1-5.3.2 10.4.1-9.2.2 3.5.2-3.3.1-4.8.2 9.1.1-2.4.2-.4.1-1.3.2-6 .1 14.2.2-7.7.2 3.8.1 3.2.2-1 .1-3.4.2-.7.1 1.1.2 2.2.1-1.2.2-3.8.2 3.3.1-.3.2 1.2.1-1.8.2 4.3.1-4.3.2 2.5.1-3.1.2-2.2.2-1.4.1 2.9.2 2.6.1 2.7.2-5 .1-1.6.2 0 .2 6.7.1-4.4.2-2.2.1 4.5.2-7.6.1 5.3.2-.5.1-.4.2-3.7.2 7.9.1 2.5.2-11.1.1 5.4.2 1.9.1 6 .2-9.9.1-2 .2 3.5.2 7.5.1-7.2.2.7.1 5.6.2-14.4.1-.1.2 11.3.1-.5.2-7.9.2 7 .1-1.8.2.7.1-3.8.2 1.3.1-1.5.2 3.4.1-1.1.2 7.1.2-3.9.1-8.1.2 7.3.1 3.8.2-4.2.1 2.9.2-4.1.1 2.7.2-6 .2 6.3.1-8 .2 9.9.1-10.3.2-2.3.1 9.8.2-2.6.1 1.1.2 1.1.2-1.6.1-3.2.2 4 .1.5.2.6.1 5.5.2-10 .1 2.9.2 1.8.2-3.7.1-2.7.2 2.3.1 6 .2-4.9.1 3.3.2-5 .2 4.4.1-4.2.2-.6.1 3.5.2-.2.1 5.3.2-11.5.1 7.9.2 4.1.2-.9.1-6.5.2-1.1.1.7.2 3 .1-.5.2.6.1 1 .2-6.2.2-.2.1-.4.2-.4.1 4.6.2 1.5.1 8.2.2-7.4.1-1.9.2 5.2.2-7.9.1 3.9.2 2.4.1-.7.2-1.4.1-2.8.2-3.3.1 4 .2-1.6.2 4.8.1-3.1.2 2.6.1-8 .2 9.5.1-6.7.2-2.6.1 15.3.2-11.9.2 6.5.1-1.5.2-7 .1 4.7.2-.7.1-5.4.2 2.1.1-3.9.2 4.3.2-6.5.1 6.8.2-.5.1.5.2-.1.1 7.3.2-5.5.1 2.2.2 1.9.2.5.1-.8.2-4.6.1-2 .2 1.2.1 1.2.2 1.7.2-.3.1 4.3.2-4.4.1 7 .2-2.8.1-5.6.2 5 .1-13.8.2 15.7.2-3.6.1 0 .2-7.7.1 15.5.2-10.2.1.4.2 4.7.1-4.9.2-2.4.2 5.6.1-6.2.2 6.5.1-2.2.2 3.6.1-8.6.2 9.1.1-3.5.2 6.1.2-9.6.1 9.2.2-4.2.1.3.2 8.8.1-9.6.2.4.1-5.6.2-1.2.2 1.5.1 8.2.2-4.8.1 2.9.2-2.4.1-.6.2.3.1-2.3.2 6 .2-3.8.1.2.2-6 .1 6.3.2-3.6.1.6.2 5.7.1-7.9.2 3.3.2 3.1.1 1.9.2-6.1.1 3 .2-.1.1-5.2.2-3.7.1.8.2 9.3.2-1.8.1-5.3.2 2.5.1.9.2.2.1 1.2.2 8.2.2-11 .1 3.4.2-3.3.1.5.2-.9.1 2.4.2-1.2.1 3.3.2-.5.2-4.1.1 10.4.2-11.4.1 5.6.2 6.7.1-10.6.2 7.5.1.4.2-4 .2-8 .1 12 .2-4.9.1-2.3.2 6.7.1-7.4.2 6.6.1-5.9.2 3.9.2-5.9.1 2.5.2-1.9.1.8.2 3.3.1-1.3.2 1.3.1 4 .2-5.1.2-6.4.1 5.8.2 1.3.1 3.5.2 0 .1-.3.2-4.3.1 10.7.2-15.2.2 10.1.1-3.2.2.3.1-3.3.2 1.6.1 8.4.2-6.5.1-6.9.2 8.4.2-1.5.1 5.4.2-7.6.1-.2.2 1.1.1-.6.2-.5.2-3.7.1 0 .2 2 .1 1 .2-3.3.1.1.2 3.3.1 3.7.2-3.4.2 3.2.1 1.1.2-.8.1-4.3.2 0 .1-5.3.2 4.3.1 4.2.2-5.7.2 9 .1.3.2-6.6.1 4.7.2-8.6.1 1.4.2 2.5.1 1.4.2-.7.2-2.5.1 10.4.2-6.2.1 0 .2 1.5.1-1.9.2-1.5.1-1.2.2-3.9.2 11.5.1-8.9.2-2.7.1 3.1.2-2.9.1 13.2.2-6 .1 3.9.2.2.2-3.3.1 0 .2-4.7.1 2.3.2-1.9.1 2.4.2-2.7.1 7.2.2-1.9.2-3.2.1-5.7.2 8.7.1.7.2-3.5.1-4.4.2 6.2.1 2.3.2-10.9.2 9.1.1-8.7.2 7 .1 6.1.2-6.1.1 1.4.2-2.9.2 1.2.1 8.6.2-3.7.1-6.1.2-.2.1 1.5.2 8 .1-7.3.2 3.3.2-5.4.1-3.4.2 9.6.1-5.2.2-2.6.1.4.2.1.1.2.2-3.4.2 20.4.1-13.4.2 2.2.1-4.8.2 2.5.1-.6.2 3.7.1-1.4.2-1.6.2-3.7.1-2 .2 1.4.1.6.2.4.1-2.6.2 10.7.1-5.1.2-8.4.2 3.4.1-.9.2 5.8.1 3 .2 6.7.1-8.3.2-3.3.1 5.2.2.8.2-3.8.1 1.4.2-2.6.1-1.3.2-2.9.1 5.4.2-1.4.1-1.2.2 1.2.2 12.6.1-16.2.2 1.9.1 18.4.2-17.3.1 6 .2-9.4.1-.7.2 5.4.2 2.4.1-5.2.2 4.7.1 1.1.2.5.1-4.3.2.2.2-5.8.1 6.1.2.9.1 4.1.2-9.7.1 1.5.2-.5.1 6.9.2-12.5.2 5.3.1 11.4.2-5.1.1-7.2.2 4.6.1 3.3.2-1.1.1-2.8.2-2.1.2 6 .1-3.1.2 3 .1-1.5.2-3.2.1 7 .2-7.1.1 3.4.2-3.8.2 1.4.1 0 .2-1.5.1 3.2.2 3.9.1 2 .2-1.5.1-5.8.2 5.9.2-3.8.1 5 .2 3.9.1-5 .2-7.6.1 6.4.2-5.9.1 5 .2-4.3.2-5.8.1 3.3.2 2.6.1 1 .2-8.2.1 3.8.2 1.7.1 1.9.2 1.5.2-3.7.1-2.6.2 6.6.1-2.3.2 4.5.1-5.2.2 4.3.1-5.6.2 4.2.2-.6.1 1.3.2-5 .1 2.9.2-2.6.1 2.5.2 2.8.2 8.6.1-10.7.2 2.5.1-2.2.2 3.7.1-2.4.2 2.1.1-2.5.2 7.4.2-3.7.1-11.1.2 7.2.1-.8.2-8.3.1 4.9.2 1.5.1-1 .2 3.1.2-6.9.1 9.2.2.1.1-1.6.2-2.4.1 1.2.2-1.7.1 5.8.2-2.3.2 5.4.1-8.5.2 6.5.1-7.3.2 1.5.1-3.2.2 5.7.1-2.1.2 2.5.2 3.1.1-5.6.2 1.6.1 1.9.2-3.5.1-1.8.2 3.3.1.5.2 1 .2.2.1-5.4.2 4 .1 2.9.2-6.1.1 2.9.2-3.5.1 2.8.2 5.7.2-5.6.1-4.1.2 4.7.1-.5.2 3.3.1-9 .2 1.6.1 3.1.2-5.4.2 9.8.1-11.5.2 4.4.1-2.4.2 3 .1 5.2.2-.7.2 1.2.1-1.2.2-9.5.1 8.4.2-7.7.1 4.8.2.4.1-.5.2 3.7.2-4.7.1 9.2.2-4.1.1 2.1.2-1.5.1.5.2-3.4.1 7.3.2-10.9.2 5.4.1-1.6.2-.8.1 1.9.2-3.8.1 5.8.2-.3.1-2.5.2 2.3.2-6.4.1-2.7.2 4.4.1 1.2.2 9.9.1-9.8.2 11.6.1-7.8.2 4.6.2-7.2.1 2 .2-3.1.1-2.4.2-.5.1.8.2 8 .1-4.2.2-1.6.2.7.1-2.1.2 1.9.1 0 .2 2.5.1.9.2-9.2.1 6.7.2 4.2.2-8.7.1 10 .2-5.7.1 3.4.2-1.8.1-3 .2 2.6.2 2 .1-2.4.2 5.3.1-5.2.2-5.3.1 1 .2 2.3.1-.2.2 3 .2-1 .1 4.9.2-3.2.1 2.4.2-8.1.1 1.2.2 4 .1-2.1.2 1.9.2-1.3.1-3.2.2 8.4.1-2 .2-9.7.1 3.3.2 2.3.1 2.4.2-2.7.2-4.6.1 7.9.2-3.8.1 5.1.2-3.2.1 2.5.2-.6.1.2.2-5 .2 5.5.1-3 .2-5.2.1 3.1.2.2.1 2.9.2.8.1-6.5.2 6.6.2-2.8.1-3.6.2 6.8.1-5.7.2-1.6.1 7 .2.5.1-5.6.2 6.2.2-.2.1-5.4.2 9 .1-7.4.2 1 .1-9.3.2 10.8.1-4.5.2 3.8.2-7.7.1 10.3.2 1.1.1 1.5.2-17.4.1 12.8.2-.9.2-12.1.1 8.2.2 2.4.1 5.4.2-8.1.1 3.7.2-.9.1 1.5.2-2.7.2 4.6.1.3.2-8.4.1 8.9.2-6.7.1 1.7.2 5 .1-3.6.2 1.7.2.7.1-.6.2-4.1.1-1.5.2 5.9.1.3.2-1.5.1-1.9.2 3.7.2-3.2.1-4.8.2 6 .1.8.2.9.1-5.9.2.5.1 3.9.2-2.8.2 1.3.1 3.6.2-1.9.1 5.1.2-5.5.1 5.1.2-2.3.1 5.3.2-9 .2-.4.1 5 .2-6.5.1.2.2 2.5.1.5.2-6.4.1 6 .2-2 .2 1 .1.7.2-1.3.1 4.5.2-2.1.1-2.4.2 1 .1 3.4.2-.9.2 1.8.1-5.1.2 1 .1 6.7.2-7.3.1 6.2.2-3 .2-4.6.1-3.4.2 7.2.1-4.7.2-.1.1-3.6.2 21.3.1-14.7.2-.3.2 1.3.1-.5.2-.6.1 1.5.2-2.8.1-8.2.2 11.8.1-1.1.2-1.4.2 5.6.1-10.7.2-5.3.1 15.6.2-3.8.1-7.4.2 4.5.1 3.6.2-6.5.2 6.3.1 5.6.2-2.6.1-5.1.2 1.3.1-4.6.2 3.9.1-1.7.2-2.3.2-1.3.1 11.7.2-6.6.1-3.9.2 2.1.1 6.8.2.5.1-8 .2 2.9.2 2.5.1-4.4.2-3 .1.7.2 3.6.1-2.8.2-1.9.1 3.8.2 4.2.2-.9.1-3.3.2 7.7.1-9.7.2 2.6.1-4.6.2 7.6.1-3.2.2-5.6.2 3.1.1 9.4.2-3.9.1-2.2.2 2.7.1-8.8.2 2.8.2-1.8.1 1.8.2 1.6.1 3.2.2 1.7.1-.1.2 6.1.1-11.3.2 14.2.2-10.6.1-4.8.2 1.9.1 2.5.2-4.6.1 4.8.2 2.7.1-8.3.2-4.2.2 8.4.1-4 .2 4.4.1-2.3.2 2.7.1 3 .2-1.1.1-4.2.2-2.9.2-4.7.1 1.1.2 4.9.1 3.2.2-2.8.1.3.2-3.6.1-.2.2-.3.2 8.4.1-9.3.2 9.5.1-5.7.2 5.1.1-1 .2 1.8.1 1.5.2-7 .2-.7.1 1.9.2-1.2.1 5.1.2-2.8.1.4.2 1.5.1-3.2.2 5.6.2-10.5.1 7.4.2 1 .1-4.6.2.3.1 5.7.2-4.4.1-5.7.2 2 .2 8.5.1-6.8.2 7.8.1.3.2-5.7.1 2.7.2-4.9.2 1.5.1-1 .2 4.6.1-6.7.2 4.1.1.6.2 1.7.1-9.5.2 1.2.2 3.3.1 2.3.2 1.3.1.2.2 6.6.1-4.9.2-.3.1-3.8.2 4.5.2-.3.1-.1.2-2.8.1 2.7.2 3.2.1-8.3.2-4.9.1 10.7.2-.3.2-3.5.1-.8.2 11.5.1-11.5.2-2.7.1 2.6.2 3.5.1-4 .2.8.2 2.5.1-2.6.2 2 .1-.6.2-3.7.1 4.1.2-4.4.1 7.5.2-6.7.2 2.5.1-5.7.2 4.9.1-2.8.2 9.8.1-5.8.2 2.3.1-8.1.2 1.8.2 3.8.1-4.2.2 8.9.1-5.5.2 2 .1.5.2-1.6.2 3.3.1-5.2.2 3.7.1 3 .2-3.5.1-.3.2-1.7.1 1.4.2 2.2.2-3.2.1-5.2.2 6.6.1-1.1.2 2.2.1-1.5.2 5.4.1-9.8.2.8.2 5.7.1-5.9.2 4.8.1-1.2.2-6.9.1 9.3.2 2.5.1-4.1.2-5.7.2 7.7.1-6.5.2 3.3.1 1.9.2-4.2.1-3.3.2 5.5.1.4.2-2.9.2.3.1 5.4.2-3 .1-1.3.2-.5.1 2.7.2-.2.1-1 .2-4.3.2 3.6.1-.9.2 2.5.1 3.8.2-.7.1-1.1.2-1.9.1-1.5.2 2.3.2-2.8.1.4.2-1.7.1 2.7.2 0 .1 6.7.2-4.5.1-3.3.2 4.1.2-4.4.1 5.2.2-.8.1 7.4.2-14 .1 3.6.2-.2.2 1.5.1 1.4.2-5.9.1.9.2 3.6.1 2.3.2-7.3.1-1.5.2 9.4.2-1 .1.8.2-7.1.1 2.7.2 1.4.1.8.2-2 .1.3.2 3.7.2-5 .1-.4.2.4.1-.3.2 2.2.1-1.2.2-.8.1 6.5.2-3.9.2-2.2.1 5.6.2-6.3.1 1.9.2-.3.1-1.7.2.6.1 1.7.2-5.3.2 3.6.1 2.2.2.1.1.1.2 7.1.1-5.8.2-2.8.1.1.2.4.2 1.5.1-2.5.2 6.2.1-9 .2 6 .1-.5.2-5.6.1 6.1.2-.3.2-4.1.1 10.1.2-5.5.1-3.5.2-.5.1-1 .2 3.5.1-.7.2-5 .2 1.2.1 1.1.2 1.1.1.2.2-1.1.1 4.5.2 1.1.2 9.6.1-20.4.2 7 .1 2.4.2-2.2.1 1.2.2-.5.1-5.5.2-3.6.2 10.8.1-3.9.2 3.2.1-2.4.2.4.1 5.3.2-8.8.1 4.1.2-3.7.2 4 .1 1.3.2.6.1-1.7.2-5.2.1 5.6.2 2.2.1.3.2 3.9.2-5.4.1-5.4.2 1.7.1 2.1.2 3.3.1-7.5.2 7 .1-.8.2-5.2.2 5 .1-4.7.2 2.6.1-1 .2 1.8.1-4.8.2 5.8.1-9.2.2 6 .2-.5.1 7.3.2-3.5.1-3.5.2-1.4.1 3.2.2-2.3.1 9.8.2-17.1.2 9.7.1-8.6.2 11.9.1-6.3.2 8.2.1-7.3.2 5.6.1-3.1.2 3.4.2-4 .1-10.2.2 7.7.1-2.9.2 8.6.1-1.4.2-1.8.2 16.1.1-15.5.2-2.6.1 8.6.2-5.8.1-1.5.2-4.3.1 2.8.2 2.2.2-.6.1-1.1.2 1.5.1-3.7.2 3.9.1-5.3.2 2.3.1.4.2 5.5.2-1.3.1-1.4.2-4.2.1 2.6.2 4.1.1 1.6.2-9.4.1 3.6.2 1.8.2.9.1-1.2.2 2.3.1-7.3.2 10.3.1-9.2.2 4.1.1 1.6.2 2.2.2-.9.1-.1.2 1.4.1-4.9.2 3.1.1 2.7.2-7.9.1-2.2.2 1.4.2 8.2.1-.5.2-5.5.1 2 .2.8.1 2 .2-10 .1 4.5.2 1 .2 2 .1-.8.2-1.4.1 2.1.2-9.8.1 19.4.2-7.7.1.2.2-5.3.2 3.7.1 5.6.2-.8.1-6 .2-4.5.1 4.8.2-1.6.2 4 .1-7.3.2 3.7.1 1.6.2-2.6.1 5.3.2-7.6.1-.3.2 3 .2 4.1.1-3.9.2-1 .1 4.8.2-2 .1-2.6.2 2.3.1-1.3.2 3 .2-1.6.1-3.3.2 1.1.1.2.2 2.7.1.1.2-4.2.1 2.2.2 1.7.2 2.7.1-2.9.2 5.9.1-6.7.2 2.5.1-3.7.2-2.3.1 3.8.2 1.3.2-.5.1-.6.2-1.7.1-1.7.2 1.8.1 2.7.2 1.7.1-14.7.2 13.5.2 1.6.1.6.2-3 .1 1 .2-3.9.1 1.3.2 2.1.1-5.6.2 1 .2 3.4.1-5.2.2 4.7.1-5.3.2 5.8.1-.5.2-2.1.2-1.3.1 1.5.2-6 .1 6.4.2 1.8.1 3.7.2-5.9.1 1.2.2 5.4.2 1.2.1-7.7.2 5.3.1.4.2-2.3.1-5.1.2.1.1 5.3.2 6 .2-8.7.1 6.1.2 1.1.1-10.8.2 2.2.1 7.3.2-1.9.1-1.4.2-2 .2 2.2.1 3.4.2 3.1.1-12.6.2-2.2.1 6.7.2 4.5.1-6.7.2 1.5.2-3.4.1 3.3.2-3.2.1 0 .2-1.6.1 3.2.2 8.3.1-6.6.2.8.2 7.1.1-9.9.2-1.3.1 5.3.2-6.1.1 5.4.2 2.9.1-7.8.2 2 .2 7.6.1-9.5.2 1.3.1 3.2.2-1.9.1-1.9.2 8.5.1-7.5.2 3.1.2-2.5.1.6.2-4 .1 8 .2-4.7.1 5.9.2-8.5.2 2.4.1 3.3.2-1.2.1-2.7.2 1.8.1-4 .2 4.7.1-9.4.2 9.8.2 4.1.1-1.6.2-.2.1-4.4.2 3.2.1-3.1.2 1.1.1-.1.2-11.3.2 14.9.1-1.6.2 1.3.1-6.2.2 5.7.1-.8.2-9.4.1 1.7.2 6.3.2-2.5.1 2.2.2-2.1.1 7.4.2-11.8.1 1.9.2 1.3.1-1.4.2 2.8.2 1.9.1-4.6.2 5.9.1 3.3.2-.7.1 3.1.2-3 .1-4 .2 6.3.2-3.8.1 4.1.2-7.2.1-6.6.2 3.3.1 4.6.2 1.3.1-2.6.2 4.2.2-7.5.1 1.6.2 5.8.1-3.2.2.2.1 4.5.2-1.1.1-6.5.2 3.4.2-6.6.1 5.9.2 1.4.1-7.4.2 11.4.1 1.6.2-5.2.2 1.4.1 2 .2-5.8.1 4.3.2-2.3.1-6.7.2 2.2.1 1.2.2 5.7.2-3.4.1 3.1.2-5.1.1-2.8.2 18.7.1-4.8.2-8.1.1-2 .2 4.8.2-8 .1 3.1.2-4.2.1 6.6.2-.8.1-2.2.2-.9.1-3 .2 2.4.2 7.1.1-5.4.2 5.5.1-7.3.2 2.7.1-1.3.2.7.1 3.5.2-9.7.2 9.6.1-.1.2-2.4.1.2.2-1 .1 3.2.2-2.2.1-3.2.2 3.5.2 2.8.1-2 .2-1.2.1.6.2-2.4.1.1.2-4.9.1 5.8.2 4.1.2-4.8.1-1.8.2 6.3.1-2.6.2 0 .1 1.1.2.8.1-2.6.2-2.7.2 8.9.1-5.8.2-2.9.1 3.3.2 3.5.1-9 .2 9.4.2-5 .1 7.4.2-4.6.1-2.7.2 4.7.1.1.2-5.6.1 2 .2-2.6.2 5 .1-8.1.2 4.3.1-6.7.2 9.3.1-9.7.2 4.1.1 4.5.2-2.1.2-.3.1-1.8.2 1.7.1-4.4.2 7.1.1 1.7.2-.2.1-2.7.2 4.3.2-2.6.1 1.7.2-2 .1-1.2.2-2.7.1-6.4.2 11.2.1-2.6.2 7.2.2-13.6.1 9.7.2-6.2.1 3.3.2-3 .1 4.2.2-1.3.1 3.1.2-2.5.2 1.1.1 2.8.2-2.6.1-2.3.2 4.8.1-4.7.2 1.8.1-2.5.2-1.2.2-8 .1 12.7.2-6.3.1 6.4.2 3.7.1-10.7.2 7.5.2-3.3.1 1.9.2-5.7.1 4.2.2.5.1 4.3.2 2.5.1-6.3.2-2.3.2 8.8.1-7.9.2.1.1.6.2 1.2.1.9.2-4.4.1 1.6.2 6.8.2-1 .1-3.9.2-.6.1-1.8.2 4.4.1-5.3.2 2.2.1-2 .2-.6.2 2.3.1-.1.2-2 .1 1.7.2.5.1-1.9.2-.6.1 1.8.2 2.9.2 1.3.1-3.1.2-1.6.1.9.2 6.6.1-3.4.2-6.4.1 3.1.2-1.7.2.6.1-4.5.2 5.9.1-4.8.2 2.6.1 7.3.2-1.8.1-6.4.2-.6.2.4.1-3.3.2 3.1.1 2.4.2-2.6.1 15.6.2-12.2.1-1.7.2 7.9.2-3.6.1-2.2.2 6.1.1-1.8.2-6.9.1 3.5.2-2.6.2-3.5.1 11.5.2-1.4.1-9.5.2 6.1.1-7.4.2 9.4.1-3.9.2-.8.2 5.3.1-4.3.2-.9.1 4 .2-4.2.1 4.1.2-3 .1 2.8.2-.7.2.6.1-6.2.2 10 .1-7.1.2 6.6.1 4.9.2-11.9.1.1.2 4.9.2-5.5.1 2.9.2-6.8.1 3.7.2 2.5.1-1.2.2-6.1.1 8.2.2-5.1.2 10.1.1-7.4.2 8.5.1-5.5.2-.7.1-3.3.2 1.3.1 2 .2-8.4.2 10.2.1-7.5.2 3.2.1-8.6.2 11.1.1 1 .2-1.6.1.1.2-2.4.2 1.8.1 3.7.2-5.7.1 3.2.2.8.1-3.3.2 1.6.1-.1.2-2.4.2 10.1.1-9.9.2 7.4.1-2.2.2-10.8.1 8 .2 2.7.2-.8.1-6 .2 4.1.1-5.1.2.6.1 2.8.2 1.4.1 5 .2-4.4.2 2.5.1-7.9.2.2.1 2.3.2 7.8.1-10.8.2-.8.1 5.2.2 4.4.2-9.8.1 4.8.2-3.9.1 9.8.2-2.6.1-1.5.2-1.1.1-.6.2 1.3.2-2.8.1-.8.2-.8.1 3.9.2-2.8.1 5.8.2-10.4.1 9.4.2-.2.2 2.4.1-5.1.2-4.4.1 2 .2 7.2.1-5 .2-.4.1-.6.2 1.8.2-.5.1-4.7.2 3.4.1 5.6.2 1.5.1-5.5.2-1.3.1 6.5.2-5.3.2-3.6.1 3.7.2 2.9.1 3 .2-7.1.1 3.6.2-3.1.1 5.2.2 5.9.2-9 .1-4.4.2 2.4.1-.1.2-11.4.1 15.6.2-3.1.2-.7.1-.5.2 1.4.1.7.2-5.4.1 5 .2 0 .1-.3.2-5.3.2 4.7.1-4 .2 5.7.1 3.4.2-1.6.1-4.2.2-.7.1-.1.2 3.2.2-3.6.1.5.2-6.9.1 5.8.2.2.1.9.2 6.1.1-9 .2.1.2 20 .1-18.8.2 2.9.1 1.2.2-.6.1-2.8.2 6 .1 2 .2-8.7.2 2.5.1 4.3.2-4.1.1-2.7.2 2 .1 4.4.2-6.4.1 4.4.2.4.2-3.6.1 4.2.2.4.1 1.2.2-.3.1-8.4.2 8.3.1-1.1.2 1.4.2-6.4.1 6.1.2-1.8.1-5.4.2 8.5.1-7.2.2-.8.1 5 .2-3.5.2 3.3.1-2.1.2 1.9.1 1.8.2-2.9.1 3.1.2-.1.2-5.8.1 5.9.2-.9.1-1.6.2 3.4.1 1.9.2-3.2.1-7.7.2 6.6.2-2 .1-.4.2 2.1.1-2.3.2 6.8.1-4.7.2-.9.1 2.6.2.1.2 1.3.1-1.9.2-2.3.1.6.2-8 .1 2.4.2 8.7.1-4.7.2 7.4.2 0 .1-10.7.2 5.5.1 9 .2-12.8.1 4.1.2-2.2.1 0 .2-.2.2 1 .1 2.7.2-5.5.1 4.6.2-4.2.1 4.2.2-.7.1-3.8.2 3.2.2-3 .1-.4.2 7 .1-10.4.2 8.3.1.5.2-4.5.1 5.8.2-.6.2-7.7.1 6.4.2-.2.1-4.2.2 4.5.1.6.2-5.1.2-4.4.1 8.3.2-4 .1-3.4.2 4.7.1-7 .2 7.1.1 6.5.2-15.2.2 11.5.1-4.8.2 1.8.1-1.8.2 5.5.1-2.3.2-2.7.1-1.8.2 3 .2 5.6.1-8.3.2 5.7.1-.3.2-8.2.1 10.9.2-4 .1 7.9.2-1.7.2-6.9.1.3.2-3 .1-1.3.2 7.6.1-3.6.2-.6.1.8.2 3 .2.9.1-3.3.2-.6.1 1 .2 6.9.1-14.6.2 3.3.1 5.7.2-1.1.2 3.8.1.3.2 2.3.1-9.8.2 5 .1-3 .2 4.3.1-2.8.2 2.5.2-5.8.1 3.2.2-2.4.1.9.2-.6.1-2.1.2 7.6.1-2.9.2 2.8.2-7.3.1-3.4.2 4.6.1 1.7.2 3.4.1.9.2.6.2 1.1.1-2.9.2-2.1.1-3.1.2 5.1.1-4.2.2-1.1.1 4.9.2-1.3.2 2.3.1-5.6.2 6.7.1-2.9.2-1.8.1-2.1.2-1.1.1-1 .2 9.7.2-9.9.1 7.2.2-3.1.1-1.2.2.4.1 1.3.2 3.6.1-1.2.2-2 .2-4.9.1-1.4.2 12.9.1-10.2.2-2 .1 9.5.2 2.2.1-3.5.2.7.2-2.4.1 2.5.2-8.3.1.6.2 3.6.1.7.2-.3.1 1.9.2-4.2.2-5 .1 9 .2-2.2.1 3.7.2 4.4.1-7 .2 1.7.1-5.2.2 6.4.2-2 .1-.3.2 2.3.1-7.2.2 6 .1-.4.2 4 .1-12 .2 6.1.2 8 .1-9.2.2-.1.1 7.9.2 2.5.1-8.4.2-3 .2.5.1.7.2-1.6.1.1.2 3.5.1-.5.2 1.6.1-1.6.2-4.4.2 6.9.1-1.8.2-2.9.1 1.1.2 2.1.1-.9.2-.7.1 3.2.2 1 .2-4.9.1 1 .2-3.9.1 3.3.2 2.3.1 1.3.2-2.5.1-.9.2-2.2.2 3.2.1-4.6.2 4.3.1-.4.2-3.3.1 4.3.2-1.9.1 2.8.2-3.8.2 3.4.1 3.7.2-4.9.1 2.2.2-5.1.1 1 .2-5.5.1 15 .2-12.3.2 4.3.1-7.7.2 4.2.1 3.3.2 1.1.1-7.3.2 4.4.1 10.5.2-6.3.2-2.3.1-10.3.2 6.5.1 5 .2-1 .1.8.2 1.7.1 8.5.2-8.9.2-9.4.1 15.1.2-9.9.1-1.2.2 7.5.1-3.1.2 1.2.2-5.6.1 3.1.2 1.5.1-6.5.2 3.2.1-.1.2-.2.1-1.5.2-2 .2 5.9.1-.6.2 3.2.1-4.4.2-2.1.1-2.8.2 5.4.1-1.4.2 7.6.2.1.1-3.3.2-9.6.1-2.6.2 3.3.1-1.4.2 2.6.1-2.8.2-1.6.2-.2.1 1 .2-4.1.1.6.2-4.4.1-.1.2-2.3.1-.3.2-2 .2-.2.1-2.4.2-3.6.1-2.8.2-1 .1-1.1.2-1.4.1-1.7.2 1.9.2-1 .1-2.6.2-1.1.1-.4.2-.6.1-.8.2-3.1.1.9.2-2.9.2 2 .1.1.2-3.3.1 1 .2-2 .1-.4.2 3.6.1-1.9.2-.8.2-1.6.1.9.2-1.1.1.7.2-2.3.1 1 .2-.8.2-1.7.1 4.2.2-1.5.1-2.6.2-1.3.1.8.2-.4.1.1.2-1.6.2.7.1 1.1.2.3.1-3.6.2 2.8.1-1.5.2-.1.1 1 .2-.6.2 1.9.1 0 .2-1.6.1-.6.2 3.6.1 0 .2-2.2.1-.9.2 1.6.2.6.1-3 .2 3.4.1-3 .2 1.8.1-2.4.2.8.1-.9.2.7.2 1.4.1-2.9.2.8.1 1.2.2-1.6.1 3.6.2-5.2.1 5.9.2-4.8.2 2.4.1 1 .2-1.7.1-2.8.2 1.5.1.6.2.7.1.7.2.2.2.5.1-3.6.2 2.8.1-4 .2 2.8.1-1.9.2-1 .2 4 .1-1.5.2 1.5.1-3.8.2.5.1 1.7.2-.9.1 1.1.2-1 .2.4.1-1.2.2 3.6.1-2.4.2-1.3.1 2.8.2-.3.1-.5.2 0 .2-.9.1.4.2-3.1.1.9.2.5.1 2.3.2 1.3.1-2 .2-.2.2 2.1.1-2.3.2 1.6.1-.4.2-2.6.1 2.4.2-.2.1-2 .2.2.2-.4.1 3.9.2 1.1.1-2.1.2 1.3.1-4.4.2 4.1.1.9.2-.6.2-3.8.1 3 .2-1.8.1 1.8.2-2.6.1 1 .2-.9.1 1.5.2-.8.2 1.8.1-.5.2-.6.1-.7.2-.4.1.5.2 1.1.1-1 .2.2.2-.5.1 0 .2-.9.1-1.8.2 3.6.1 0 .2-2.3.2 4.3.1-4.6.2 3.2.1-1.1.2.1.1 1.2.2-.3.1-1.4.2-1.6.2-.2.1 2.1.2 2.1.1-1.1.2-1.3.1.5.2.5.1 1.6.2-3.7.2 2.2.1-.7.2-1.5.1-.4.2 3.4.1-1.4.2-.8.1.5.2 1.3.2-1.4.1 2.3.2-2.8.1-.8.2 1 .1-1.2.2.9.1 2.3.2.8.2-1.6.1-.7.2-1.7.1-.1.2 2.1.1-.3.2-1.2.1.2.2 3 .2-.8.1-1.4.2.2.1 1.6.2-1.4.1-.1.2-2.7.1-.2.2-.4.2-.5.1 3.4.2.5.1-1.8.2 2 .1 0 .2-.8.1-2.1.2 4.4.2-.1.1-3 .2 3.8.1-2.8.2-1.3.1.6.2-2.2.2 2.3.1-1.9.2 4.1.1-1.2.2-2.6.1 3 .2-3.5.1 2.8.2.5.2-.6.1-1.8.2 1.5.1-.1.2.4.1 2.1.2.3.1-.1.2-3.3.2-.2.1 1.1.2.7.1-3.8.2 2.2.1 3.6.2-4.6.1.8.2 0 .2 1.8.1-.8.2-.4.1-1.8.2 3.2.1-.9.2-1 .1 1 .2 1.2.2-3.4.1-.1.2.8.1.2.2-3.3.1 3.7.2 2.6.1-2.2.2 2 .2-5.8.1 4.1.2 2.3.1.3.2-3.1.1-.5.2 1.8.1-2.4.2 1.3.2-2 .1 2.6.2-.1.1 2.4.2-1.9.1-1.5.2.9.1-1.8.2 2 .2-.4.1.9.2.8.1-4.4.2 3.5.1.6.2-2.9.2 4.7.1-4 .2 4.8.1-2.5.2.3.1-1.1.2 1.1.1-3.1.2.4.2-1.7.1 3.7.2-1.9.1 2.2.2-.2.1-2.9.2 3.1.1-.7.2-.1.2.4.1-.7.2 0 .1 1.6.2-3.1.1-.3.2.7.1 2.7.2-2.1.2 3.4.1-7.5.2 3.5.1.4.2 1.1.1 1.6.2-2.3.1-1.2.2 2.8.2 1 .1-6.1.2 4.7.1-.5.2-1.7.1.6.2 1.1.1-.4.2-.4.2-1.4.1 2.2.2-1.4.1 1.1.2-1 .1 1.2.2.8.1-.7.2.6.2-3.1.1 2.8.2-.3.1-1.3.2.7.1-4 .2 4.3.1-.7.2-2.8.2 4.2.1-1.8.2 1.4.1-.8.2 1.1.1-.6.2-.5.2 1.1.1.5.2-4.6.1 3.4.2-.9.1-.8.2 3.7.1-.6.2-3 .2-.1.1 2.9.2-2.1.1.4.2-2.5.1 2.8.2 1.9.1-2.4.2.5.2 2.8.1-1.3.2.8.1-1.2.2.9.1-4.3.2 1.3.1-1.3.2 5.8.2-3 .1-.5.2-.9.1-.4.2-2.7.1 7.6.2-3.5.1.2.2-2.2.2 2 .1.7.2-.7.1 1 .2-2.2.1 1.8.2.8.1-.5.2-.2.2-.8.1-1.3.2 2.3.1-1.4.2-.8.1 2.5.2-3.5.1 1.6.2 2 .2.2.1-2 .2.7.1.7.2-.9.1-1.1.2 1.8.2-.4.1-.1.2 1.6.1-1.3.2-1.1.1.9.2 2.7.1-4 .2.7.2-.8.1 1.7.2-2.4.1 2.6.2.4.1-2.3.2-.1.1-.9.2 2.3.2-1.8.1.7.2.4.1-.4.2 2.2.1 1.2.2-5.6.1 2 .2 1.6.2-2 .1.8.2 1.1.1 1.8.2-.3.1-2.2.2.6.1-.8.2.3.2-1.5.1-.9.2 2.1.1 2.1.2-.4.1-3.9.2 2.5.1-.7.2 1.4.2-2.1.1 3.1.2-1.7.1 1.2.2.4.1-4.2.2 2.6.1 2.6.2-2.3.2 1.6.1-1 .2-1.4.1 1.2.2 1.2.1.3.2.3.1-3.9.2 2.9.2-3.3.1 1.9.2-.1.1 1.2.2-.4.1 1.4.2-2.8.2 2.2.1-.7.2-.6.1-1.8.2 2.6.1-.3.2.7.1-1.3.2-.3.2 1 .1.1.2.3.1 1.8.2-3.7.1 3.9.2-7.4.1 5.8.2-2.6.2 4.2.1-4.3.2 2.9.1-3.1.2-.2.1 2.9.2.1.1-2.4.2 4.7.2-4.1.1 2.8.2-3.8.1.1.2 1.5.1-1.6.2 2.2.1-3.9.2 3.5.2-1.1.1-.6.2 1.7.1-.6.2-.4.1 1.9.2-.8.1.2.2 1.4.2-2.1.1 1.3.2-1.8.1 1.5.2-.1.1-1.6.2-1.5.1.4.2.5.2 2.2.1-1 .2-.2.1 1.1.2.4.1 1 .2-3 .1 1.7.2.3.2-2.5.1 1.6.2-1.6.1 1.1.2.9.1-3.1.2 1.2.2.1.1 1.3.2-1.2.1 1.7.2-1.9.1.5.2 1.7.1-.4.2-.3.2-.3.1 1.6.2.5.1-2.6.2-.5.1-.5.2 4.2.1-3.9.2-.7.2 2.4.1 1.2.2-3.4.1 1.6.2-1.9.1 1.1.2 3.4.1-2.2.2-.6.2.5.1.3.2-.6.1-1.6.2 0 .1 4.8.2-4.1.1 2.9.2-2.9.2 3 .1-.9.2-1.3.1 3.3.2-4.4.1 1 .2-.9.1.1.2.7.2-.9.1.9.2 2.9.1-5 .2.7.1.5.2.7.1 2.2.2-.4.2-.4.1-.4.2 3.3.1-5.3.2 0 .1 1.7.2.3.1-.7.2-.9.2-.7.1 1.6.2-.7.1.4.2-.9.1 3.6.2-1.3.2 2.1.1-3.6.2.9.1-.5.2.4.1-.4.2.2.1-2.7.2 2.5.2 1.4.1-3.9.2 2.4.1 1.4.2 1 .1-2 .2.8.1 1.9.2-.7.2-2.6.1-.2.2 2.4.1-1.2.2-1.1.1.5.2.8.1-.8.2-.1.2 0 .1-1.8.2 4.8.1-.8.2.5.1-2.5.2.4.1.7.2.3.2-3.9.1 3.2.2-2 .1 1.4.2-.9.1 3.5.2-1.7.1-.8.2 2.1.2-2.2.1-1 .2.8.1-.2.2.6.1 1.2.2-1.5.1.1.2 1.6.2-1.1.1 1 .2-1.2.1-2.1.2.2.1-.8.2 4.2.1-1.1.2-1.3.2-.8.1 2 .2-.7.1.7.2-1.8.1-.4.2 4 .2-3.7.1 1.4.2 2 .1-4.7.2 3.7.1-.9.2-.3.1.6.2-2.2.2-1.5.1 6.1.2-3.2.1 1.7.2.3.1-1.2.2.3.1.4.2 1.2.2-1.6.1 1.2.2-2.3.1-.2.2.7.1.5.2.2.1 2.1.2-1.7"/>
<path fill="none" stroke="none" marker-start="url(#mNa)" marker-mid="url(#mNa)" marker-end="url(#mNa)" clip-path="url(#cA)" d="M104.4 133.1l.1 1.8.9 2.4 1.7-3.7 0-6.6.1 7.4.4-.9.7-.8 0 4.8.9-4.4 0-2.1.2 2.8.1-7 1.2 8.6.5-3 .2 5.5.2-3.4.2-1 .2-.6.2-4.6.3 3.7.6 1.3.4 2.3.7-1.8.2.8 0 0 .3-4 .3 2.8.3-1.8 1.1-3.4.2-.9.4 7.8 1 2.1 1.8 0 .6-7.6.2 7.9.6.2.2-7.8.1 4.2.6 4.1.5-5.4.4 3.7.3-6.1.2 1 .1 4.1 1.3-3.5.1 1 .2-.1.1-3.8.8 8.5.1-5.5.6-.6.5-.4.4 1.7.2-3.3.1 6 .1-4 .2 3.8.2-5.6.3-.5.1.3.4 3.9.3-5.2.9 7.3 0-4 .3 4.1 0-4.2.2 4 .3-6.2.9-.2.6 5.7 1.8-3.8.5 5.4.3-5.9.4 4 .6-4.4 2.4-3.1 2.1 10.7 1.1-5.5.4 4 .5-2.7.1-6.3.2 7.1.8 2.3.3.7 2 1.2.1-4.2.2-1.6.5.6.5-4.2.5 6.4 0 0 .1-1.3.7-3.7.6 4.7.7-4 .2 6.1.4-6.3.7.3.1.7.1-2.4 1.1.5.9 2.1 0-7.3.3 14.9 1-5.4.4-.3.1-3.9.1 3.6.5-.7.3.4.5-5.3 0 4.6.7-6 .5 5.7 0-2.3.1.9.8 1 2.4 4 1.1 1.3.5-4 .3-3.7.3 8.6.1-9.7.2 2.8.2 1.2.4-1.8.4 7 .2-3.1.1 2.2.2-4.6.7 3.9.5-3.4.1 0 0 1.5 1 .4.4.6.2-2.7.1-4.3.1 4 1.5-8 .3 8.1.2-1.8.3 5.5 0-11.9 1.4 15.9.5-7.8.1-4.3.7 6.8.5.3.2-.2.2 5.9 1.8-10.1.5 3.8.8-.5 0-2.8.3 3.3.5 3.2.3-7.1.1 4.4.2 1.9.4-1.2.1-7.6.1 6.4.6-2.3 0 5.5 0-4.6.7 7.1.1-10.8 1.8 5.9 1-4.6 0 8.9.4-.7.1-8.4.5 5.7.4-2.7 1.8-5.3.7 2 0 3.8.1 1.4.5-3 .4 2.3.2.1.4-.1 1-5 .7 4.5 1.4 1.4.6-6.9.8 10.3.5-.3.4-4.3.2 6.5 0-9.8.1-.5 0 1.1 0-.3.1 8.6 0-6 .4-.4.2 1.5 0 4.1.3-4.8 0-1.8.1 2.2.6 3.3.7-4.9.7 5.4.7-3.7.9-1.6.4 2.3.4 5 .4-7.5.6 5.5.5-2.8.6-1.3.4-.4.1 2.6.4-.7.5-.8.1 1 1.1-5.2 0 .8 0-1.2.3 2.2.3.4 0-.5 1.6 3.1.1-5 .2 2.3.3 3.8.6 2.7 1.8-5.4.7 3.8.4.6 0-8 .3 4.2.9-4.3.4 2.2.2 2.7 1.1-5.6.6 6 .1-2.3.3-.3.1 2.6.6-4.5.5-3 .1 5.8.2-2.5 1 1.8.4-3.1.6.6.2-.3 1.3-.9 1.2 1.6.1.1 1.4 2.7.2 10.5.2-12.6 0-3.3 1.1 7.3.3-6.1.5 1.2.2 1.8.3 1.3 1.2.1 0 .6.4-1.3 0 4.1.2-.9 0-4.6.4 1.1 1.2-3.8.1 6.7.7-2.8 1.4 7 1.2-8.6.6 7.3.1-8.1 0-2.5.1 2.7.6 4 .2 2.3 0-6.4.2 6.2 0-5 .4.1 1 .7.4 6.5.8-4.9.2.4 0-6.1.5 5.6.5.4 0 4.5 1.5-8.3.5.5.9-.7.6.9.1 4.4 0-4.9 1.5 6.9.2-4.1 0-3.1.7.8.2-2.4.5-.2.3 8.6 1-.9.2-6.2.1 1.8 0 6.8.5-7.7.6 3.1.1 1 .7-2.4 0 .1.4-.5 1.6 1.5.2-5.6.4 5.4 1.6.4.2-5 0 5.9 0-4.6.2-5.6.5 2.3.5 6.7.9 1.6 0-3.3.5-3.4.4 4.3.3 3.6 1.1-3.2.5-4.8 1.1 6.5.2-2.2.1 0 .9.8.1 1.7.1-2.2 0-2.9 0 2.9.2.8.1 3.5.5-8 .1 3.6.2-2.5 2.4 3.8.6-2.7.2-8.4.3 13.4.1-5.4.2-1.4 2.4-1.4.8 1.5.6-.7.8 3.8.8 1 .5-.8 0 1.5.1-4 .7 4.8.1-2.4.3 1.9 1.6.5 2.1-3.2.3 5.3.1-1.4.1-4 .2 7.2.7-.3.3-10.7 0-2.3.2 5.4.1 3.6.4 1.5.2-.9.7-2.2 1.1 3.3.1-.9.3-3.8.5 2.1.6 2.9.6-5.6.1 0 .3-.7.1 7.6.1-2.6 0 .6.1-4 .2 1.1.6 4.1 0-4.9.3 4.8.1-4 .6 0 1 2 .7 1 2.6 3 .1-7 .1 6.7 1-8.1.2-.3.4-4.6.1 10.3.1 2.1.7-8.9.4 2.9.9.2.2-4.3.1 5.4.7.8.9-2.7.1-1.7.5 3.8.3 1.6.1-6.7 0 4.4.2 2.2.1-11.2.2 10.4 0 4.6.3-9.9.7 8.6.9-5.4.4 3 0-2.5.1-3.3 0-1.9.1 13.6.4-12.3.1 3.5.4 5.7.2-3.7.3-.5 0-7.2.1 4.6 1.9-2.4.5-1.5.4 7.2.1 1.5.4-5.3 0 .4 1 3.6.9 1.5.8-6.5.6 7.4.3-.7.1-3.1.9-3.7.2 5.5 1.8.5.4 3.5 1-7.8.2 7.2.3-6.4.4 2.9 0-2.1.1.6.1 4.7.5-7.2.7 5 .1-3.6.9.8.2-2.3.2 3 .1-7.3.5 5.8.4 4.2.2-.5.4-8.2.3 1.6.4 2.4.1 7.6.3-7.6.1 1.4.2-.8.2 1.8.5-4 .1 3.9.1.7 0 1.9 1.3-6.4.6 5.9.1 3.4 1.8-3.8.3-.3.1-10.5.4 12.7.2 1.9.2-2.3 2.1-2.4.1 1.1.5 7.3.3-12.5.1 1.1.6 5 .2-2.8.5-8.1.1 8 0 .4 1.2-4.3.6 4.4.1-.4.3-6.9.4 7.8.7 5.5.2-1.4.4-9.7.1-.6.1 4.6.1.8.2-5.5 1.5 2 .7 7.1.4-3.7.7 2.6.9-3.6.1 3.6.3-5.3.2.1.6-1.5.2-3.2.2 5.1.3-3.2 0 3 .2 2 0 .1.4.8.6-2.7.2 1.1.5 4.1 0-4.4.8.6.3-8.3 0 4.5 0 7.4.2-6.6.3-.7.7 6.9.5-7.4.8 7.5.3-3.7 1.2-1.8 0-4.8.4 11.4 0-10.6.1 1.9.3 6.9.3-6.9.5 5.9.4-1.8.6-.8.1-2.7.1 1.4.1 3.1 1.1-4.2.7 5.4 0-1.3.1 1 .6-1 .9 1.1 0-.6 3.4 1.5.3-1.5.1-.2.2-4.2.4-2.7.3 6 .6 3.1.2-6.4.5-2.3.2 3.6.4 3 .1 1.7.3-4 .1-2.9.3 3.8 0 2.5.7-2.5 0 3.6 1.2-5.1.1 4.7.2 2.6 0-9 .1.5.2 5.1.1 8.4.6-8.9.1-1.8 1.7 4.5.2-4.8.3-5 .1 2.2.6 7.8 0-10.3.7.9.2 7.6.9-2.3.5 3.6.6-7.7.2 1.1.4 1.4.3-3.1 1 3.4 2.2.3 0 3.5.8-3.3.4-1 .3 3 .7 2.1 0-.2.4-2.6 1.5-2.2.2-.4.3-2.8.2 4.7.1-.3.4 5.6.4-4.8.1 1.8.1 1.9 0-10.8 0 4.2.3 1.3 0 1.2.1-4.2.9 6.8.3.1.1-1.4.5.7.1-6.1.2 7.6.2-5.9.4-4.3.2 6.8.1 1 0-3.8.1-3.3 1 1.7.4 3.4.1-8.1.2 12.1 1.1-.1.2-4 .6 4.2.2-4.1.2-3.3.6 6 1.1-.2 0-5.1.6-1.6.5 1.4 0 7.3.4-5 .2 10.6.2-11.8 0 4.3.3-1 0-1.8.1 3.6.1-5.8.8 2.8 1.1-3.8.1-3.4.2 7.6.4-4.1.1-.6.4 6.4.2-2.5 1.5 1.9.4 4.5.3-5.2.3.9.1-5.6.2 6.9.3.1.2-6.5.9 5.8.1-1.1.7-1.9.1 1.1.1 7.9.1-10.4 1.4 1 .3 1.5.6-.9.1-5.6.1 8.4.3.9 1.2 2.8.1-7.8.1-2.4.7 6.5.4-5.7 0 3.5.3-1.4.4 2 .1-2.1.2 3.9 1-5.5.4 11.2.2-5.5.5-4.7.6-1.2.1 2.7.2-1 .1-1.2.3 7.5.8-1.4.3-7 .1 5.6.4-1.8.2 2.5.4-4.8 1.7 9.4.1-6.9.3 6.5.6-8.4.4 6.2.3-5 .5 6.1.3-6.3.2-3 .1 0 1 1.5.1 4.2.2-.8.2-.9 1.8 3.2.3 2 .5-9 1.4 6.9.4 4.4.2-10 .1.2.5 3.3 0-.6.2-2.6 0 1.6.3 5.7.2-2.3.1-5.9.1-3.1.5 2.1.3 4.4.2-3.3.4-.2 0 5.3.2-3.4.1-.3.2 2 .2 4.2 1.1-3.9.4 1.3.3-2.1.1 5 .1-9.4.3.4.6 2 .4 8.7.7-1.7.1-9 1.1 2.2 0 3.4 2-1.6.1 2.8.1-4.7.6-3.9.4 7.7.6 2.1.1-9.4 2.8-1.2.5 4.9.1-4.9.3 7.9.7-5.4.3 6.4.6-3.7.7 1.5.4 1.8.9-3.1.3-2.8.5 6.4.1-8.1.5 9.7.2-6.9.3.3.4 3 .2.1.3.2 1.2-6.9.2 2 0 4.1.5.1.7-1.7 1.5 4.4.3-5 1.2 3.6.4.4"/>
<path fill="none" stroke="none" marker-start="url(#mAl)" marker-mid="url(#mAl)" marker-end="url(#mAl)" clip-path="url(#cA)" d="M102.6 71.7l.2 2 .1 2.8.2-5.2.1 3 .2-.8.1-.2.2-.4.1.1.2 2.1.2-.7.1-2.4.2 3.8.1-4.2.2 2.9.1-.7.2 1.5.1-1.3.2 1.1.2-1.6.1 1.5.2-1 .1 2.7.2-4.2.1 2.8.2-1.1.1-.4.2-1.1.2 1.5.1-2.9.2.2.1 3.1.2-3.4.1 4.5.2-2.6.2.8.1-.3.2.5.1-1 .2-.1.1.3.2 1.8.1.1.2.2.2-1.3.1-.9.2-2.2.1 3.5.2.3.1-1.9.2 1.8.1.7.2-1.8.2 1.5.1-1.1.2-3.1.1 1.9.2.1.1 1.4.2-2.1.1.6.2-.7.2 1.3.1.2.2 1.4.1-.3.2-1 .1.2.2-.2.1 0 .2 2.1.2-6 .1 3.4.2.8.1 1.2.2-3.3.1 2.1.2.8.1-2 .2-2.2.2 2.4.1-1.3.2 2.8.1-2.3.2 4 .1-2.5.2-1.4.1.4.2-.8.2 2.2.1 1.6.2-2.5.1 1.7.2-2.8.1 1.9.2 3 .1-5.6.2 3.9.2 0 .1-4.6.2.6.1.7.2 2.9.1-2 .2.3.2 1.4.1-.9.2.1.1-.8.2 2.2.1-2.9.2 3.7.1-3 .2-.7.2 2.2.1-.3.2-3.7.1 3.3.2-2.3.1.7.2 2.5.1-2.5.2 1.8.2-1.1.1 3.5.2-3.1.1-1.6.2.1.1.3.2 1.6.1-.2.2 1.4.2-1.2.1 0 .2.3.1-.7.2.6.1.8.2-.1.1-1.9.2-1.9.2 1.5.1 1.6.2-4.2.1 3.1.2 1.3.1-1.5.2-.8.1 4.3.2-.6.2-2.4.1 2.3.2 0 .1-3.6.2 5.7.1-5.4.2 1 .1-1.3.2 1.8.2-2.1.1 1.9.2 1.7.1-1.3.2-.7.1 2.7.2-3.7.1 2.8.2-1.9.2.8.1-.3.2.1.1-.2.2-1.1.1.3.2 1.5.2-.8.1-1.6.2.7.1 0 .2 1 .1.3.2-.1.1-1.1.2 1 .2-2.1.1-2.3.2 4.2.1-2.4.2 1.1.1-.4.2 2.8.1-2.8.2 2.2.2-1.1.1-1.1.2-.6.1 3.1.2-.1.1.6.2 1.6.1-2.4.2 0 .2-.6.1.4.2-.7.1-.8.2 4.3.1-5.8.2 3.2.1.3.2-.5.2-1.7.1 1.2.2-.4.1-.9.2 1.5.1-.5.2-.3.1 1.9.2-2.6.2 2.2.1-1.6.2 1.6.1-.5.2.2.1-1.8.2.3.1-.1.2 1.5.2.9.1.5.2-2.4.1.9.2-2.6.1-.9.2 2.1.1.2.2-1.3.2-.3.1 3.4.2-2 .1-1.3.2 6 .1-3.2.2-.7.2 1.4.1-2.1.2 3.5.1-4.7.2.4.1 1.7.2-.9.1 3.2.2-4.5.2 1.3.1 1.5.2.5.1.6.2-1 .1 2.8.2-4 .1 1 .2 1 .2-1.8.1.1.2-.3.1-.3.2-.7.1.9.2-1.5.1 2.9.2-3 .2 5.5.1-.6.2-.9.1-1.9.2-.6.1 2.7.2-1.5.1.5.2-1.9.2 2.7.1-2.8.2 1.3.1-2.7.2 1.6.1 1.7.2-1.4.1 0 .2 1.9.2-1.3.1 1.9.2-5.4.1 4.4.2-.1.1-3 .2.3.1 3.3.2-2.9.2.6.1 1.9.2-1.4.1 1.2.2-2 .1 1.7.2 1.2.1-1.1.2-3.8.2 4.2.1-.8.2-1.5.1 3.4.2-4.6.1 5.4.2-3.8.2 3.3.1-2.4.2-1.9.1 2.1.2.4.1.3.2.7.1-2.9.2 2.1.2.4.1-1.5.2-1 .1-.1.2 2.6.1.1.2-2.5.1-.7.2 3.8.2-4.2.1 2.6.2-1.4.1-1.5.2 2.8.1-.4.2 2.4.1 1.2.2-3.6.2 1.8.1 0 .2-2.3.1-.5.2 3.7.1-3 .2.5.1-.4.2.3.2-.8.1 2.1.2.7.1-2.4.2-1.5.1 2.1.2-2.3.1 1.3.2 2.8.2 1.6.1-2.9.2-2.1.1 2.7.2-4.5.1 2.3.2 3.3.1-1.1.2-3.2.2-.4.1 3.7.2-1.3.1-.8.2 1.5.1-1.5.2-2 .2 4.1.1-2.2.2-.6.1-.4.2 2.3.1-1.6.2 2.2.1-1.4.2 2.1.2-2.2.1-.4.2-2 .1 1.3.2 2.7.1 3.5.2-6.4.1.3.2 2 .2.3.1-1.8.2 1.2.1-2.6.2 2 .1 1.8.2 1.1.1-2.7.2-.1.2 1 .1 1 .2-.9.1-1.9.2 1.7.1.9.2-2.5.1-1 .2 2.8.2-.2.1.9.2-1.3.1-1.1.2.3.1-.9.2.1.1.6.2.1.2 2.4.1-3.5.2 1.8.1-.8.2 3.1.1-1.9.2-.9.1 1.8.2-1.2.2-.8.1 3 .2-1.2.1 1.5.2-.8.1-.6.2-1 .1-1.8.2 2.7.2-.9.1.9.2-1.1.1-1 .2-.5.1 2.6.2.9.2-2.4.1 1.1.2 1.4.1-3.3.2.7.1-1.1.2 3.4.1-1.4.2-1 .2-1.8.1 2.2.2 1.7.1-1.9.2-.2.1 1.6.2-2.8.1 1.9.2.8.2-2 .1-.1.2 1.6.1-.5.2-.2.1.7.2 0 .1-1.7.2.4.2 1.6.1 1 .2.4.1-3.3.2 2.9.1-.5.2-1.2.1.8.2.5.2 1.4.1-4.2.2 2.5.1-1.1.2-.1.1 2 .2-.5.1-2.8.2 1.1.2.8.1-2.4.2 3.3.1-1.4.2.4.1.3.2 2.1.1-2.6.2-.6.2 3.1.1-3.3.2 0 .1-1.3.2 3.7.1-1.2.2.3.1-.5.2-.4.2-1 .1 0 .2 1.8.1-.5.2 2.3.1-3.6.2.4.2-.8.1 3.6.2-3.9.1 3 .2 1 .1-2.3.2 1.2.1-4.2.2 2.6.2-1.9.1 2.7.2-.2.1-1.2.2 2.6.1-.9.2-1.3.1 0 .2-1.4.2 1.9.1 3.4.2-4.2.1 1.7.2-1.5.1 2.1.2-.6.1-1 .2-2.3.2 1.9.1 2.5.2-2.1.1 1.3.2-1.7.1-2 .2 3.4.1-.2.2-1.3.2.3.1 1 .2-1.3.1 1.4.2-.8.1-3.2.2 3.2.1-.6.2-.4.2 1.9.1-1.4.2 1.6.1.8.2-1.4.1-2.5.2 1.2.1 2.4.2-1.7.2-.8.1 1 .2.9.1-.4.2.6.1-2.2.2.9.1 0 .2.3.2-3 .1 2.7.2-1.6.1 4 .2.3.1.2.2-1.3.2-2 .1 2.2.2-1.7.1 1.2.2-2.3.1.5.2 1.6.1 1.9.2-2.7.2 3.4.1.7.2-5.9.1 1.8.2-1.3.1 1.2.2-.6.1.7.2 1.5.2 0 .1-1.1.2-.3.1.1.2.1.1.6.2-.8.1.7.2-2.7.2 3.1.1 1.5.2-2.4.1-2.3.2 4.1.1-2.5.2-4 .1 4.1.2 1.3.2-.4.1 1.3.2-.9.1-.8.2-3.1.1 1.3.2 1.9.1.8.2-2.6.2.7.1 1.6.2-3.6.1 0 .2 2.5.1.7.2-1 .1-2.7.2 3.4.2-2 .1 2.9.2-1.1.1.6.2.5.1-1.7.2 2 .1.6.2-1.2.2 1.3.1-2.9.2 2.3.1-.9.2-1.9.1 1.3.2-.6.2-.1.1 1 .2 1.4.1-2 .2.6.1-2.3.2 2.3.1 1.6.2-.5.2-.5.1-1.5.2-.7.1 1.3.2-1.8.1.1.2 3.3.1-2.8.2 4 .2-4.8.1 2.8.2-2.4.1 2 .2-1.8.1 1.6.2-.3.1-.4.2 1.4.2 1.5.1-3.1.2 2.2.1-1.2.2-.2.1 3.3.2-6.5.1 2.2.2-1.6.2 2.2.1.1.2 6 .1-5.1.2 2.1.1-.7.2-2.6.1 1.4.2 1.7.2-2.2.1.1.2.4.1-3 .2 1 .1 1.8.2.3.1-2.2.2.9.2.3.1-.1.2 1.3.1-.9.2.1.1-2.4.2.6.2 2 .1-2.8.2 2.7.1-1.3.2-.3.1 2.2.2-2 .1-.2.2.2.2 1.1.1 4 .2-7.2.1 3.1.2-.3.1 1.8.2-2 .1-3.1.2 5.6.2-3.6.1 1.5.2-1.9.1.4.2.9.1 2 .2 0 .1-2.2.2 1.7.2-1.3.1.7.2.1.1.6.2-1.8.1.7.2.5.1-.1.2-1.4.2 3.8.1-3.3.2 1.8.1-.8.2 1.5.1-5 .2 6.3.1-3.4.2-1.5.2 2 .1 3.2.2-2.6.1-2.6.2 1.1.1 2.7.2-4.1.1 1.8.2-.1.2 3.6.1-3.6.2 2.4.1-3 .2-.2.1 2.7.2-.6.1-3.5.2 3.6.2 0 .1-1.9.2 1.2.1.1.2-1.1.1-.2.2-.1.2.6.1-1.6.2 1.9.1-2.1.2 2.3.1-.2.2-1.4.1 2.8.2 1.6.2-.9.1-4 .2 3.9.1-1.6.2-.4.1-.8.2.9.1 2.1.2-1.3.2-1.4.1-.4.2.4.1 1.5.2 1.9.1-4.4.2 1.6.1-.6.2-.5.2 1.7.1.2.2-2.9.1.6.2 3.3.1-1.3.2.3.1-1.5.2.1.2 1.3.1-1.4.2-1 .1 1.7.2 1.3.1-2.8.2 3.1.1-.6.2-2.3.2 1.3.1-.1.2 1 .1.1.2-2.9.1-.1.2 3.5.1-1.3.2.4.2-.1.1 1.8.2-4.1.1 3.4.2-2.8.1 2.3.2.9.1-4.1.2 2.7.2-1 .1 0 .2.5.1-1.7.2.2.1 2.4.2.2.2-2.1.1-1.3.2 5.6.1-1.8.2-1.1.1-2 .2.6.1 1.2.2-1.7.2 3.8.1-2.2.2.4.1-2.1.2.1.1.2.2 1.6.1-.8.2 0 .2.9.1-.2.2 1.9.1-2.5.2-1.2.1 1.5.2 2.2.1-3 .2.9.2-.6.1 1.1.2-.2.1-1.6.2.8.1 1.8.2.2.1-.3.2 0 .2-1.8.1-.1.2 2 .1-3.1.2 1.6.1-2.7.2 2.2.1-.5.2-.7.2 2.6.1-1.9.2.5.1.2.2-.7.1 3.2.2-2.8.1 1 .2-2.2.2 1.2.1.2.2 0 .1-.4.2 1.1.1 2.1.2-2.5.1 0 .2-.4.2 4.3.1-1.3.2-1.6.1.2.2-2.1.1.9.2.5.2-.1.1-1.5.2.1.1 1.9.2-.3.1-3.5.2 3.2.1 1.8.2-2.9.2 1.3.1-2.5.2 3.4.1-2.9.2-.2.1 1.4.2 4 .1-4.4.2-1 .2 2.6.1-.4.2 2.1.1-4.3.2-.5.1 1.9.2 1 .1 0 .2 1.1.2-3.8.1 1 .2 1 .1 1.4.2-.5.1-1.3.2-.9.1 2.8.2.1.2 2.6.1-4.3.2 2.7.1-4.2.2 1 .1-.2.2.3.1-.6.2.5.2.7.1-.6.2 1.6.1-1 .2.1.1 2.1.2-1.7.1-.2.2-.3.2.2.1.7.2-2 .1 2.9.2.6.1-.6.2-2.4.1-1.7.2 1.7.2.9.1 1 .2-1.5.1-.2.2 2.7.1-3.2.2 2.5.2-.2.1-3.3.2 2.4.1-1.2.2-.6.1-1.3.2.4.1 2.9.2-1.2.2 1 .1-2 .2 1.1.1.1.2-1.9.1-.2.2 3.1.1-.4.2-1.6.2 1.2.1 1.1.2 1.8.1-4 .2 2.2.1 2.2.2-3 .1 2 .2-5.9.2 5.9.1-2.1.2-2.8.1 3.9.2.4.1.2.2 0 .1-1.8.2-1 .2.4.1.6.2.7.1-1.3.2.7.1 1.3.2-.9.1 2.9.2-.2.2-4.8.1.8.2-1.1.1.2.2 2.6.1-2.3.2-.1.1 1.2.2 1.5.2-1.7.1 0 .2 1.9.1-.6.2-.1.1.8.2-2.9.2 1.8.1-1.3.2 2.5.1-.3.2-2.8.1 3.5.2-3.7.1 3.5.2-1.4.2-1.6.1-.4.2 1.2.1.4.2-1 .1 1.9.2-2.9.1 2 .2.1.2-2.8.1 3.2.2-2.3.1-1.8.2 2.8.1.5.2 1.7.1-2.1.2 2.9.2 0 .1-.5.2.3.1-1.4.2-1.4.1 1.8.2.5.1-1.1.2-.7.2-2 .1 3.4.2-.5.1-2.5.2 2.1.1.9.2-1.2.1 1.3.2 0 .2-3.3.1 1.7.2 1.2.1.6.2.7.1-4.9.2 2.8.1 1.1.2.8.2.6.1-3.8.2.8.1-1 .2 2.8.1-3.2.2 3.7.1-.4.2-.6.2-4 .1 2.2.2 2.2.1-3.3.2 1.8.1.2.2 1.5.2-.9.1 0 .2-1.1.1.7.2-.3.1 1.3.2-1.3.1 1.8.2-4.1.2 4.3.1-2 .2 1.9.1-1.5.2 1.1.1 1 .2-3.1.1 1 .2-.4.2.5.1-2.7.2 2.2.1-.1.2-.8.1.9.2-2 .1 4.3.2-1.4.2 2.1.1-4.1.2-.4.1 2.2.2-2.9.1 2.8.2-1.4.1.5.2.9.2-.3.1 2.7.2-1.8.1-2.9.2 3.4.1-3.5.2 2.2.1-2 .2.6.2 3.2.1-2.8.2-.1.1.1.2.4.1 2.6.2-3.9.1-.1.2 2.7.2-3.2.1 1.8.2 2.2.1-1.7.2-.7.1-.3.2-.3.1.4.2 1.1.2 1.7.1-.5.2-2.2.1-.3.2 2.1.1-3.7.2 2.1.2.1.1-1.1.2.1.1 2 .2-2.9.1 1 .2.4.1 1.1.2-2.1.2 3.6.1-2.1.2.1.1-.1.2-.5.1-.5.2 3.2.1-1.4.2-.5.2 1.7.1-2.6.2 2 .1-.9.2-1.3.1 2.4.2-3.3.1 3.1.2-2.2.2 1.9.1 1.4.2-1.2.1-1.7.2.8.1-.5.2-1.2.1.1.2 1.7.2.8.1-3.4.2 2.5.1.8.2-.6.1-1.6.2 3 .1-3.3.2 2.7.2 1.4.1-5.4.2 3.4.1.1.2-.1.1-1.5.2.7.1-1.6.2 2.2.2.6.1-1.7.2-.4.1.6.2.7.1.1.2-.2.1.2.2-2 .2-2.1.1 4.9.2 1.2.1-4.2.2 1.1.1 1.5.2.9.2-.4.1.9.2-2 .1.7.2 0 .1-1.2.2 2.4.1-.9.2.6.2-2.1.1 2.1.2-3 .1 2.1.2-4.4.1 2.3.2 2.6.1-1.7.2.9.2-2.7.1 4.7.2-1.4.1-.9.2.6.1-.1.2 1.6.1-1.8.2-2.4.2 1.7.1 2.3.2-1.1.1-1.4.2 1.5.1-.7.2.7.1-3.2.2 1 .2 2.3.1-1.3.2.8.1 2.4.2-3.3.1.8.2-1.2.1-.1.2.8.2-2 .1-1 .2 5.1.1-2.1.2 1.8.1-1.5.2 0 .1.8.2.1.2-2.9.1 3.6.2-3.2.1 1.7.2 3.5.1-3.7.2 2.3.1-2.9.2 1.4.2-.8.1.5.2-1.8.1-.1.2 1.8.1-2.8.2 1.1.2 2.1.1-1.8.2-.4.1-.3.2 1.8.1-.7.2.7.1-.5.2 3 .2-3.3.1-2.3.2 3.1.1-.2.2.2.1-2.5.2 4 .1-1.7.2-.1.2-2.2.1 3 .2-.8.1 2.1.2-2.6.1-1.2.2 2 .1-1.5.2 1.9.2-2.2.1 1.4.2-.1.1.3.2-.8.1-.4.2 1.1.1-.7.2 1 .2-.6.1-2.9.2 3.2.1 2.1.2-1.6.1.5.2-.2.1-1.4.2-1.2.2 3.1.1.3.2-.7.1-.2.2 0 .1-.6.2.4.1-.4.2.5.2-1.9.1.5.2 1.7.1-1.3.2-3 .1 3.7.2-3.5.2 6.1.1-1.8.2 0 .1-2 .2-.6.1 1.3.2.3.1-1.1.2 1.3.2.8.1-.1.2-2.4.1-1.6.2 3.1.1-1 .2 1.6.1 1.8.2 0 .2-2 .1 1.2.2.8.1-2.3.2.3.1.8.2-1.2.1-.7.2-.4.2 1.1.1-.9.2 2.1.1-1.7.2 2.6.1-.4.2-3.5.1 3.4.2-2.2.2 2.6.1-1.3.2-.8.1 1.1.2-1.8.1 1.3.2.1.1-.8.2.8.2-2 .1 2.2.2-2.5.1 2.6.2-.2.1.3.2-1.8.1 5.2.2-4.7.2.5.1-1.2.2 3.1.1-2.7.2 2.1.1-2.8.2 1.8.1-1 .2 1.9.2-1.8.1-.8.2 1.9.1-2.4.2.4.1 2.4.2-3.7.2 3.7.1-1.6.2-.8.1 1.7.2.5.1-1.7.2.6.1 1.4.2-.1.2-1.1.1-1 .2-.3.1.5.2 1.8.1-.1.2-.4.1 1.5.2-2.4.2-.1.1 0 .2 3.3.1-5.6.2 3.3.1.2.2-.5.1 3.2.2-1.7.2-.5.1-2.4.2 2 .1-1.2.2.5.1.3.2-1 .1 1.6.2 1.4.2-.9.1-1.1.2-3 .1 4.2.2 0 .1-1.8.2-.4.1 1.6.2-2.1.2 2.3.1-2.6.2.2.1 1.3.2-2.1.1 2.1.2.7.1-2.6.2 3.2.2-2.1.1 1.6.2-.5.1-.9.2-.1.1-1.7.2 1.4.1-.1.2 3.4.2-.9.1-3.3.2 3 .1-.8.2-.8.1 1.2.2.4.2-1.9.1.4.2.6.1-1.6.2 1.7.1-.4.2-.8.1-.3.2 1.6.2.8.1-.7.2-1.7.1 2.3.2-.9.1.6.2.8.1-2.9.2 1.1.2-.6.1-.4.2 4 .1-1.5.2-3.8.1 3.1.2-1.4.1 2.4.2-1.5.2-.3.1.4.2.3.1-.5.2-.3.1.1.2.9.1-2.3.2 1.6.2-.2.1-.5.2 1.7.1-2.8.2 1.3.1-.7.2 2 .1-1.4.2.7.2.4.1-2.7.2 2.8.1-1.6.2.6.1.2.2 1.3.1-.1.2 1.5.2-2.2.1-1 .2 0 .1 1.6.2 1.4.1-1.8.2-1.3.1 1.2.2 0 .2-.4.1-1 .2-2.6.1 2.9.2 2.2.1-1.2.2-3.4.2 3.1.1-2.6.2 5.4.1-2.5.2-2 .1 2.8.2-2.2.1 1.9.2-.8.2-1.7.1 2.6.2-2.8.1 3.8.2-1.8.1-1.5.2-1.1.1 4.8.2-.3.2-3.8.1 4.1.2-2.1.1-.5.2.2.1-.3.2 2.4.1-1.8.2-2.8.2 5.5.1-1.7.2-2.7.1 1 .2-.8.1 1.4.2.4.1-.2.2-1.1.2-.3.1 2.3.2-1.3.1 3.2.2-4.2.1 2.2.2-1 .1-1.2.2 3 .2-1.7.1-1.5.2.8.1 1.9.2-3.1.1 3.6.2-.9.1-1.4.2 2.3.2.5.1-1.6.2-.6.1 2.4.2-.5.1-3.4.2 1 .2 0 .1-.3.2-1.5.1 3.4.2-1.2.1 0 .2 1.9.1-2.8.2.7.2.5.1-1 .2.4.1 1.3.2-1.1.1 1.9.2-3 .1 1.4.2-2.3.2 1.8.1-.8.2 2.9.1-.9.2-.3.1 1.9.2-.6.1-1 .2-2 .2-1.1.1 2 .2-.4.1-.4.2.5.1-1.9.2 4.4.1-3.7.2.6.2 1.8.1-3.1.2 3.6.1 0 .2-1.8.1-1 .2.8.1-1.9.2 4.5.2-1.8.1-1.2.2-.2.1 2.1.2 1.3.1-3.9.2 1 .1-1.7.2 3.4.2-.7.1 3 .2-3.4.1-.4.2-.4.1 2.2.2-3.5.1 3.3.2-.7.2-1 .1-.6.2 2.8.1 1.1.2-3.3.1 1.4.2 1.8.2-3.4.1.5.2-1.4.1 1.6.2.1.1-.5.2-.5.1-1.2.2.4.2.5.1 2.3.2-1.6.1-.5.2 2.1.1-.1.2-1.9.1.2.2 1.8.2-.4.1-1.7.2 1.5.1-.4.2 1.7.1-2.9.2 2.5.1-.6.2-2.1.2 3 .1-.2.2-3.2.1 4.7.2-4.5.1.4.2.8.1 1.6.2-.3.2-1 .1 2.1.2-8.4.1 8.5.2 2 .1-3.8.2-3.9.1 3 .2-.9.2 1.7.1 0 .2-1.9.1.1.2-7.6.1 9 .2-3.5.1 5.2.2-1.4.2 0 .1.4.2-1.9.1 1.4.2 1.6.1 0 .2-.9.1-1 .2-.8.2 3.1.1-1.2.2-1.3.1-2.6.2 1.9.1-1.5.2 4.6.2-1.6.1-1.3.2-2.9.1 7.8.2-2.1.1-3.7.2 1.8.1-1.6.2-.8.2 2.8.1 3.3.2-1.2.1-2.3.2-.6.1.9.2 1.2.1-3.7.2-.6.2 5.5.1-2.3.2 1.9.1-2 .2 1.8.1-3 .2 1.6.1 1.6.2-.8.2-2.2.1 2 .2-2.3.1-1.1.2 2.8.1 1.3.2-.8.1-3.1.2 3.1.2-.2.1-1.7.2-3 .1 5.2.2-.2.1-.6.2-3.3.1.3.2 3.8.2-.3.1-.5.2-1.1.1.9.2-1.3.1.3.2-.8.1 1.6.2-1 .2 2.1.1-.4.2-2.3.1 4 .2-4.4.1 2.3.2 1 .1.3.2-5.2.2 4.7.1.4.2.3.1-5.5.2-5.1.1 8.3.2-.5.2 2.7.1-3.1.2 2.9.1-1 .2-6.7.1 4.4.2.7.1.9.2 1.3.2-1.7.1 1.6.2-3.7.1-2.2.2 4 .1-5.3.2 5.3.1-1 .2 2.2.2 2.2.1-3 .2-.9.1-.2.2 4.2.1-3 .2 1 .1.9.2-.2.2-3 .1 2.8.2-.2.1-.5.2.8.1-2.4.2.7.1-5.7.2 7 .2-2.1.1 1.5.2-2.2.1 1.5.2-.4.1.4.2.3.1-.4.2-.1.2-2.8.1 4.8.2-2.6.1.6.2-.9.1 2.7.2-2.8.1 2.1.2 1 .2.7.1-.7.2-.8.1-2.8.2 3.8.1-.2.2-.5.1-.1.2-1 .2-.9.1 2.4.2.3.1-3.5.2 2.9.1-1 .2 1 .2-.9.1 1.2.2-.1.1-.2.2-3.4.1 3.3.2-1.2.1-1.7.2 2.7.2-3.1.1 3.4.2 1.2.1-3.3.2 2.1.1-.7.2.3.1-3 .2 3 .2-.7.1.9.2-1.1.1 1.6.2-1.2.1.6.2 1 .1-1.8.2 1.3.2-1.2.1.4.2-1.5.1 1.9.2.7.1-1.9.2 1.3.1-.6.2-2.3.2-4.1.1 7.7.2-2.6.1-2 .2 3 .1-1.3.2 3.8.1-2.9.2.1.2-.9.1 1.3.2-1.3.1-.5.2 1.3.1-1.1.2 3.1.1-3.6.2 1.6.2-.9.1-8.6.2 12 .1-5.5.2 5.2.1-4.2.2 2.2.2 3.2.1-6.5.2 1.2.1 3.9.2-1.7.1-1 .2.7.1-1.3.2 1.6.2 2 .1-2.8.2.8.1 1.5.2 1.2.1-3.8.2 1.3.1-5.4.2 4 .2.4.1-.4.2-1.6.1-.3.2 1.8.1 1.3.2 1.6.1-2.6.2.5.2 1.2.1.2.2-1.3.1.1.2-2 .1 1.6.2-.2.1-1.7.2 3 .2-1 .1 3.2.2-3.3.1 1.7.2.1.1 1.1.2-4.4.1 4.3.2-2.3.2-.2.1-.3.2-.1.1.1.2-3 .1 4.2.2-.6.1-5.2.2 5 .2 3.4.1-2.8.2-1.1.1 3.1.2-3.7.1.9.2-.5.1.4.2 1.4.2-.2.1-1.9.2.9.1.3.2-.7.1.5.2-1 .2 0 .1 1.1.2-1.5.1 2.1.2-.9.1-1.1.2.5.1.2.2.4.2.4.1-.4.2-1 .1 3.4.2-.8.1-1.2.2 1.2.1-.9.2-.8.2.5.1 3.7.2-2.4.1.1.2-2.1.1 1.4.2 2.4.1-2.6.2.9.2.3.1-.9.2 1.3.1-1.9.2.4.1-1.7.2 4.8.1-3.4.2-.3.2 1.9.1-2.8.2.7.1-1.1.2 1.2.1-.6.2 1.3.1-.9.2-.7.2.4.1.3.2-.6.1 2.1.2-.4.1-.7.2-2 .1 2.5.2-2.6.2 2.1.1-.2.2-.9.1-.4.2.2.1 4 .2-3.3.1 0 .2 1.7.2-.7.1.9.2-3.3.1.2.2 6.4.1-4.9.2-.4.2.7.1 1.2.2-3.2.1 2.2.2-.5.1 1 .2-.7.1-1 .2-.5.2-2.3.1 5 .2-3.6.1 1.6.2 2.9.1-3 .2 1.5.1-1.2.2 1.4.2-1 .1-.8.2 2.7.1-2.3.2-1.6.1 1.5.2 1.3.1-2.4.2 2.7.2 0 .1 2 .2-4 .1 1.9.2-3.4.1 1.8.2.8.1.4.2-.6.2-.1.1-.7.2.2.1 1.1.2.4.1.1.2.5.1.3.2-4.3.2 1.9.1.5.2-.7.1 2.4.2-.4.1-1.2.2.3.1 1.7.2-2.3.2 0 .1 1.8.2-.7.1 1.4.2-1.5.1.6.2-1.9.1-.5.2 1.3.2-3.8.1 4.4.2.8.1-1.3.2-.4.1 1.9.2-1.6.2 1.5.1 1.7.2-2.1.1.3.2-.6.1-.4.2.1.1-.3.2 1.4.2-3.8.1 1.9.2 1.3.1-7.6.2 6.6.1-.9.2 1.6.1.7.2.8.2-1.4.1-1.7.2 1.4.1.4.2 1.3.1-5.1.2 3.6.1-3.2.2 3.7.2-.4.1.1.2.5.1-.7.2-1.5.1 1.5.2 1.2.1-1.9.2.2.2-1.7.1 3.4.2-2.4.1-.4.2.5.1-.6.2.9.1 2.1.2-.6.2.9.1.1.2-6.9.1 5.4.2 1.5.1 1.1.2-5.3.1 0 .2 2.7.2-1.1.1-1 .2 2 .1-1.7.2-5.2.1 6.3.2.3.1-6.7.2 7.8.2-1 .1-.6.2-.7.1-1.4.2 1.8.1 2 .2-.5.2 2.1.1-3.2.2-2.3.1 3.7.2.3.1-3.1.2-.7.1 2.6.2.8.2-2.7.1 1.2.2-.7.1-.5.2-.2.1 2.1.2-.8.1-.4.2-2.8.2 6.3.1-3.9.2 1.2.1-1.4.2 2.1.1-2.7.2 2.3.1-.4.2 1.6.2-2.9.1.7.2.6.1 3.3.2-5.1.1 2.5.2-1.3.1 1.4.2.5.2-.8.1.2.2.1.1-1.3.2.5.1-2 .2 1.9.1-.9.2.9.2 1.8.1-.6.2.1.1 1.2.2-6.3.1 5.1.2-.8.1-.2.2-2.2.2 3.4.1 1.1.2-.2.1-2 .2 1.3.1.5.2 1.6.2-1.1.1-1.9.2-.1.1.1.2.1.1-1.3.2 2.3.1-2.6.2-.2.2 2 .1-1.6.2.6.1-3.4.2 5.2.1-1.4.2-.2.1 1 .2-.4.2-1.7.1 4.9.2-4.4.1 2.6.2 1.5.1-4.4.2 1.3.1-1.7.2 3.4.2-2.5.1-1.4.2 4.4.1-.7.2-3.3.1 3.7.2-1.8.1 4.6.2-1.8.2-4.1.1.5.2-1.1.1 1.8.2-.1.1 1.2.2-1.2.1-2.8.2 1.2.2 4.1.1-.5.2-2.4.1 0 .2 0 .1.3.2-3.1.1 4.7.2-2.8.2 1.4.1-4.8.2 5 .1 2 .2-6.5.1 6.8.2-1.9.1-2.1.2-1.6.2 5 .1-1.6.2.6.1-1.6.2-1 .1 3.1.2-3.4.2 3.4.1-4.7.2 1.4.1-1 .2 5.1.1-5.6.2 1.1.1 3.3.2-.8.2 3.6.1-.7.2-2.2.1.1.2-4.5.1 1.7.2 1 .1.2.2-2.1.2.8.1.1.2 3.5.1-1.2.2-1.3.1.1.2 1 .1-1.8.2.8.2-2.7.1 4.4.2.5.1-1.1.2.2.1-.2.2 3.1.1-3.4.2-2.7.2.5.1 3.2.2.6.1-.5.2.1.1-1.2.2-3 .1 1.4.2-2 .2 2.6.1-1.8.2 2.6.1-.5.2-3.2.1 4.9.2 0 .1-3.9.2 2.8.2 1.1.1-1.9.2 2.1.1-1.2.2 1.6.1-1.6.2-.7.1 1.3.2.5.2-1 .1-1.3.2-.6.1.8.2-.4.1 1.4.2-.1.2-.4.1.1.2.3.1 2.6.2-.7.1-3.2.2 1.8.1-1.4.2.4.2-.2.1-.7.2-1.4.1-2 .2 4.9.1 1.8.2-3.8.1 2.5.2-1.6.2 1.2.1-2 .2 1.1.1.2.2-4.1.1 4.7.2-.6.1-4.3.2 5.7.2-1.3.1.5.2.3.1-1.5.2-1.2.1 1.2.2 0 .1 4.9.2-.7.2-4.3.1.1.2 1.4.1.4.2-2.3.1-.5.2 5.4.1-1.7.2-4.8.2-.4.1 1.8.2 1.9.1.6.2-1.6.1-2.4.2 3.4.1.7.2-1.1.2-.9.1 1.9.2-1.1.1-2 .2 2.3.1-2.6.2 4.2.1-1 .2-2.7.2 2.3.1 1.9.2-6.3.1 3.7.2 3.3.1-5.9.2 2.6.2-2.4.1 2.6.2-4.4.1 1.5.2 2 .1 1.2.2.5.1.1.2 1.3.2-.8.1 0 .2-3.1.1 1.5.2 6.2.1-1.7.2-2.7.1-.2.2.5.2-2.6.1 4.4.2-4.3.1.5.2 4.2.1-7.9.2 4.5.1-3.8.2 2 .2 1 .1-.5.2 1 .1-1.8.2 1.3.1-2 .2 1.4.1-1.8.2 3.8.2-3.7.1 3.8.2-2.1.1.2.2 2.8.1-2 .2-3.8.1 4.5.2-6.4.2 6 .1-1.3.2-1.9.1 2.8.2-.7.1 4.3.2-4.6.1 4.5.2-1 .2-3.8.1-.4.2 4 .1-2.7.2.6.1-.8.2-1.8.1 1.6.2-1.1.2-1.1.1 2.3.2 3.9.1-.3.2-3.2.1.4.2.7.2 1.6.1-1.9.2-1.5.1.1.2 2.9.1 2.8.2-6.1.1-2.7.2 5.4.2-1.7.1.4.2 2.1.1-2.2.2-2.7.1-1.2.2 3.7.1-2.1.2 2.7.2-3 .1 1.8.2-2.1.1 2.1.2-.2.1 2 .2 1.4.1-2.9.2-1.3.2 5.4.1-3.1.2.5.1 0 .2 1.6.1-.8.2-.7.1.2.2-3.1.2.5.1.9.2.4.1-.1.2.5.1-.5.2-.9.1-2.2.2 4.6.2-.4.1-2.8.2 2.6.1-.2.2-.6.1-3.6.2 1.2.1 1.1.2 4.2.2-4.7.1 1 .2-1.5.1 1.2.2 1.6.1-4.6.2-1.4.2 6.6.1-1.2.2-1.2.1 3 .2 0 .1-5.8.2 3.6.1 2.4.2-3.3.2.6.1 2.5.2-2.4.1-1.7.2.9.1-1.2.2 3.6.1-4.3.2 5.1.2-5 .1 3.2.2-2.8.1 2.1.2 2.6.1.2.2.3.1-2.6.2.3.2.3.1.7.2-1.9.1 2.8.2-1.4.1 1.5.2-1.3.1.4.2-2.7.2.6.1-1.6.2 1.9.1.2.2 1.9.1-4 .2 8.6.1-6.4.2 2.6.2-.4.1-6.8.2 4.3.1 3.3.2-7.4.1 6.1.2-3.2.1.8.2 1.4.2-4 .1 3.9.2-1.6.1-.2.2 2.8.1 5.3.2-6 .1.4.2-1.2.2-1.3.1 1.9.2 2.4.1-2.5.2 1.3.1-2.1.2 5.2.2-7.9.1 4.2.2-.1.1-.5.2-2.6.1 0 .2 1.7.1.6.2-2.5.2.3.1 3.1.2.9.1-3.1.2-.2.1-.1.2 6.1.1-3.8.2-1 .2 2 .1 2.5.2-2.2.1-4.9.2 2.5.1-.6.2.1.1-1.6.2 1.6.2-1.4.1 2.7.2-.5.1-2.8.2-.6.1 2.4.2 2.1.1-.3.2-1 .2-6.2.1 5.3.2-.4.1.7.2-1.6.1 1.5.2-.5.1 6.5.2-3.9.2-1.7.1.3.2-.1.1.5.2-1.1.1.7.2 2 .1-.3.2-1 .2 1.9.1-2.1.2-2.3.1-1.5.2 2.1.1 1.2.2.8.1 1.3.2-3.1.2-.5.1 3 .2.8.1-3.1.2 1.5.1 2 .2-2 .2-.7.1-3.9.2 6.5.1-1.3.2-1 .1-1.1.2-1.5.1 2.2.2 0 .2 2.3.1-4.4.2 5 .1-2.7.2 2.2.1-4.1.2 2.5.1 1.7.2-2.1.2-3 .1 2.1.2 1.7.1-3.7.2-.1.1 3.2.2-2.2.1 3.1.2-3.6.2-1.2.1 2 .2 4.3.1-4.5.2 1.7.1.4.2-2.2.1 3.8.2-1.7.2.5.1-4 .2-.2.1-1.9.2 4.9.1-.1.2 1.8.1 1.5.2-3.3.2 0 .1 1.3.2 2.1.1-4.5.2 2.8.1-1.7.2-.2.1 2.2.2-3 .2-.6.1 3.3.2-1.3.1-.4.2.2.1 1.2.2-1.6.1 2.1.2-.6.2 2 .1-.4.2-.8.1-2 .2.6.1-1.4.2 6.6.2-5.9.1 1.5.2 1.5.1-5.1.2 1 .1.8.2-1.1.1-.5.2 1.4.2 3.4.1-1.1.2-1.3.1 0 .2-3.2.1 4.5.2-.5.1-2.9.2 2.5.2-.8.1-.6.2-.9.1.6.2-.5.1 2.6.2-.1.1-.1.2-1 .2-.4.1 4.6.2-7.4.1 5.8.2-1.6.1-.5.2-1.1.1.5.2-1.8.2-.4.1 2.4.2-2.9.1 4.8.2.5.1-8.7.2 3.6.1 3.5.2-.1.2-.2.1.6.2.6.1.2.2 1.8.1-3.4.2 1.6.1-4.7.2 2.8.2-2.1.1 5 .2 1.8.1-3.4.2-3.5.1 2.2.2.3.1.3.2 1.7.2-.2.1-6.9.2 7.7.1-3.6.2-.1.1 3.8.2-3.2.2-2.1.1 0 .2 2.7.1 1.6.2 1.1.1-3.2.2-.5.1 3.9.2-3.9.2 3.6.1-2.3.2 0 .1-.9.2 1 .1-1.4.2-.4.1 1 .2-1 .2 1.8.1-.4.2-.6.1.1.2-.1.1 3.8.2-3.4.1-1.1.2.6"/>
<path fill="none" stroke="none" marker-start="url(#mH)" marker-mid="url(#mH)" marker-end="url(#mH)" clip-path="url(#cA)" d="M102.6 16.2l.2.2.1-.4.2-.5.1.4.2-.5.1.9.2 1 .1-1.4.2-.1.2.9.1-.1.2-.2.1-.9.2.8.1.6.2-1.7.1.8.2-1.2.2.5.1-.4.2 1.3.1-.9.2 1.3.1-.1.2-.3.1-1.8.2 1.6.2.4.1.1.2-1.3.1.8.2-.4.1.2.2 1.5.2-1.5.1.6.2.8.1-1.2.2.4.1.2.2-.1.1-1 .2 1.1.2 1 .1-2.3.2 1.9.1-.6.2-.6.1 2.1.2-.9.1-1.6.2 1 .2.4.1-.6.2.7.1-.6.2.6.1.7.2-1.7.1.7.2-.5.2.4.1-1 .2.5.1.3.2.9.1.2.2-2 .1.4.2 1.2.2-2.1.1 1.2.2.3.1 1.1.2-.4.1-.8.2-.1.1.1.2 1.5.2-1.6.1.1.2.6.1-.4.2-.1.1-.7.2.9.1-.3.2 1.3.2-.5.1-.5.2.6.1-.8.2 1.1.1-.8.2.4.1-1.5.2 1.4.2-1.7.1-.2.2 1.4.1-.5.2.8.1 1.7.2-2.4.2.1.1.7.2.2.1-.5.2 0 .1.7.2-.1.1-1.2.2.7.2.1.1-.8.2 1 .1-.9.2 1.5.1-.6.2-.1.1-.5.2.4.2-1.5.1.7.2 1.2.1-2 .2 2.4.1-2.1.2 2 .1-1.3.2 1.3.2-.5.1-1.3.2 2.2.1.2.2-1.2.1-.2.2.1.1-.6.2 1.7.2-1.3.1.4.2-.6.1.1.2-.5.1 2 .2-1.1.1.9.2-.7.2-.6.1.3.2-.2.1.5.2-.3.1.1.2-.9.1.5.2 1.9.2-1.8.1-.3.2 1.1.1.9.2-2.3.1 1 .2-.3.1-.9.2 2 .2-.6.1 0 .2-.6.1 1 .2-.8.1.3.2-.8.2 0 .1 2 .2-1.5.1.7.2-.3.1-.3.2 0 .1.9.2-.8.2.2.1.1.2.9.1-.3.2-.3.1-.7.2-.7.1 1.9.2 0 .2-.9.1.6.2.2.1 0 .2.1.1-1.1.2 1.6.1-2.2.2 1.7.2-.3.1.3.2.8.1-.3.2-2.1.1-.4.2 2 .1-1.4.2.8.2.7.1-2 .2-.4.1 1.9.2-.2.1-.2.2.3.1-.8.2-.5.2 1.1.1-.6.2-.6.1 1.8.2-.5.1.4.2-1.1.1.3.2-.3.2.1.1.9.2-.8.1.9.2 0 .1 1.4.2-2.8.1 1.9.2-.8.2.1.1-1.2.2.8.1 1 .2-.7.1.2.2-.3.2 1.1.1-.9.2-1.7.1 1.2.2-1 .1-1 .2 2.1.1 1.5.2-1 .2-1 .1.2.2 1.7.1-.8.2 0 .1-.1.2.1.1.6.2-.2.2-.3.1-1 .2 1.3.1-1 .2 1.5.1-1.9.2.9.1.1.2-1.1.2 2.5.1-.2.2-1.5.1 1 .2-.4.1-2.3.2 2.3.1-.3.2.1.2-.9.1.7.2 0 .1 1.1.2-.6.1-.3.2 1.2.1-1.6.2.1.2-1.1.1 2.7.2-.5.1 0 .2-.2.1-.4.2.1.1-.4.2 0 .2.2.1 1.2.2-.7.1-.5.2-.4.1-.1.2 1.8.1-.8.2-.4.2-.3.1-.6.2.8.1.8.2-1 .1.1.2 0 .2.3.1-1.4.2 1.1.1-.4.2 1.4.1-1.4.2 1.1.1.8.2-1.5.2-.2.1.6.2-.1.1-.8.2 1.2.1 1.2.2-1.8.1.1.2-.7.2 1.1.1-1.2.2.1.1 1.9.2-1.8.1 1.6.2.4.1-1 .2.2.2 1.2.1-1.7.2-.4.1-.6.2 1.2.1 1.1.2-.4.1-1.5.2.1.2.3.1.6.2-.4.1.4.2 0 .1-.4.2.2.1.2.2-.2.2.4.1 1.1.2-1 .1-.4.2-1.4.1 1.7.2-1.9.1.5.2 1.8.2-.1.1-.7.2-1.3.1 1.1.2-.2.1 1 .2 1.3.2-1.6.1-.8.2-.3.1.9.2-.1.1-.7.2 1 .1-1 .2 1.8.2 0 .1 0 .2-1.3.1.8.2-.5.1-.2.2.1.1-.8.2-.1.2 1.8.1-.8.2.4.1.6.2-2.2.1.8.2.8.1.1.2-.6.2 1.2.1-.7.2-1.1.1.2.2 1.4.1-.3.2-1.8.1 2.6.2-.6.2.6.1-1.4.2.1.1-.7.2 3 .1-2.2.2 1.4.1-1.8.2.7.2-1.5.1 1.1.2 1.1.1-1.8.2 1.8.1-.5.2-1.1.1.4.2.1.2.3.1-.4.2-.2.1.4.2-.6.1-.2.2 1 .1.8.2-1.9.2 1.2.1-.5.2-.3.1 1.5.2-1.1.1 1.6.2-1.8.2.9.1-.4.2-.5.1 1.1.2-.6.1.7.2-.6.1-.8.2.8.2.1.1.8.2-1.5.1.7.2-1.3.1 1.9.2-1.4.1-.6.2 1.4.2.9.1-2 .2.3.1.3.2-.3.1 1.2.2-.9.1 0 .2 1.1.2-1.1.1 1 .2-1.1.1-.2.2-.5.1 3 .2-1.8.1.5.2-.2.2.1.1-.1.2 1.5.1-2.3.2-.4.1.4.2-.2.1 1.6.2.1.2-1.4.1-.4.2.9.1 1.4.2-3.4.1 2.7.2-1.3.1 1.7.2-1.7.2.7.1-1 .2.4.1 1.9.2-.4.1-1 .2-.3.1-.8.2 1.2.2.3.1-.1.2 0 .1-.8.2.9.1 0 .2 1.1.2.4.1-1.6.2-.5.1.6.2-.4.1-.1.2.5.1-.8.2 1.4.2-.6.1.3.2-.3.1-.5.2-.1.1.5.2-.2.1.6.2-.2.2-1 .1 1.1.2-1.1.1.6.2.2.1-1.4.2 1.8.1 0 .2-.2.2-.2.1 0 .2-.4.1.5.2-.2.1.5.2-1 .1 1.2.2-.1.2-.2.1-.3.2.8.1-1.7.2 1.7.1-.2.2.1.1 0 .2-.8.2.3.1.8.2-.2.1-.2.2-1.3.1 1.6.2.5.1-.1.2-.6.2-1.4.1 2 .2-.9.1-1.9.2 2.3.1-1.4.2.1.1.6.2 1.5.2-1.3.1.5.2 1.2.1-.1.2-1.4.1-.1.2-.8.2.5.1.9.2 0 .1-.3.2.7.1-1.4.2.6.1.7.2-.2.2.4.1-.5.2-.5.1.5.2-1.1.1-.5.2 1.8.1-.5.2.3.2-1.6.1 1.1.2-.2.1-.2.2-1.1.1 1.5.2 1 .1-.4.2-.8.2.5.1.6.2-2.8.1 2.1.2.6.1.1.2.8.1-.4.2-.7.2 0 .1.4.2-1 .1.4.2.7.1.9.2-1.7.1.1.2.2.2.9.1-1.1.2 1.2.1-1.9.2.6.1 0 .2.8.1.2.2-2 .2.5.1 1 .2-.8.1-.7.2 2.1.1-.5.2 0 .1-.7.2 1.2.2-1 .1 1.1.2-1.6.1 0 .2.9.1-.7.2 1.1.2-.4.1-.9.2.8.1-.3.2 1 .1-1.2.2.1.1 1.3.2.9.2-.2.1-1.5.2.1.1 1 .2-1.3.1-.6.2.8.1.3.2-1 .2-.7.1.2.2 1.7.1-1.1.2.5.1.3.2.3.1-.8.2.7.2-1.1.1.4.2-.5.1 1.8.2-1 .1-.5.2.3.1.1.2.8.2-1.9.1.5.2.5.1 2.3.2-1.2.1-.9.2.7.1 1.1.2-1.8.2-.1.1 1.2.2-.5.1.1.2-.9.1 1.9.2-.1.1-.9.2.1.2-2.2.1 2.1.2-.6.1.5.2.2.1-.8.2-1.1.2 1.7.1-.9.2.3.1-.2.2.2.1-1.5.2 2.8.1-.8.2.7.2.7.1-1.5.2-1.5.1.8.2-.3.1.6.2.5.1-1.7.2 1.9.2-1.5.1 1.5.2-.4.1-.1.2.2.1-.4.2 0 .1-.9.2 1.4.2 1.5.1.1.2-.5.1-.5.2-1.1.1 1.7.2-1.2.1 0 .2-.2.2.3.1-.4.2.3.1-.8.2.6.1 2.1.2-1.9.1-.1.2.6.2.2.1-1.5.2.8.1.9.2-.5.1-.1.2 1.1.1-1.8.2.6.2-.4.1 1.6.2-2.8.1 1.1.2.1.1 1 .2-.1.1.7.2-2.4.2 1.9.1-.9.2-.3.1 1 .2-1.2.1-.9.2 1.4.2-.9.1.7.2.8.1 0 .2 1 .1-1.4.2-1.1.1.7.2-.2.2-.2.1 1.3.2-.8.1-1.1.2 2.2.1-.7.2.4.1-.2.2.4.2-.4.1.9.2-.6.1 0 .2 0 .1-1.5.2 1.1.1-.1.2.4.2-1.3.1 2.4.2-1.2.1-1 .2-.4.1 1.1.2.2.1-.5.2.6.2-.5.1.9.2-1 .1.6.2.8.1 1.3.2-2.9.1.5.2-.3.2 1.3.1-1.6.2.6.1.3.2-.7.1 0 .2.4.1-1.3.2.5.2.9.1.4.2-.2.1-1.3.2 1.1.1 1 .2-.2.1-.5.2-.6.2 1.2.1-1 .2-.4.1.3.2 1.8.1-1 .2.8.2-1.4.1 1.2.2-1.2.1.3.2 2.1.1-1.3.2-1 .1.3.2.4.2.7.1-1.4.2-1 .1 1.2.2.2.1.1.2 1 .1-.8.2.4.2-1.5.1 1.6.2 1 .1-1.1.2-.4.1-.1.2 1.3.1-2.1.2.6.2.5.1.2.2-.9.1.6.2-.5.1.4.2-.2.1-.8.2.9.2.7.1-1.5.2.6.1.8.2-1.4.1 1 .2-1 .1 1.8.2.9.2-.2.1-1.8.2.8.1-.5.2 0 .1 1.1.2-2.2.1 1.9.2-.9.2 1.2.1-1 .2-.7.1.8.2.4.1-.6.2.4.1-.8.2-1.3.2 2.4.1-.1.2-.5.1 0 .2.8.1-1.2.2-.2.2.4.1 1.1.2-2 .1 2 .2-1.4.1-.4.2 1.9.1-1.1.2-.9.2.7.1 1.1.2.2.1-1.3.2.7.1.2.2-1 .1.8.2-.3.2-.4.1 0 .2.5.1-.1.2-.4.1.1.2 1.2.1-.7.2.6.2.2.1-.5.2 1.4.1-2.5.2 1.3.1-.9.2 1.8.1-.1.2-2.9.2.7.1 1.4.2.1.1-.1.2-.6.1.4.2.2.1-.6.2.9.2-2.6.1 2.3.2-1.3.1 1.6.2-1 .1-.5.2 1 .1-1 .2 0 .2-.5.1 1.2.2.5.1.4.2-.9.1.9.2-.8.1-.1.2.6.2.4.1-1.1.2 0 .1.1.2.2.1-.8.2 1.6.2-1.1.1.7.2-1.1.1 1 .2 0 .1-.6.2 1.9.1-1.3.2 1.2.2-.7.1-1.3.2.3.1.6.2-.3.1 0 .2-.2.1-1.3.2 1.3.2-1.6.1 2.1.2-.9.1.1.2.4.1.4.2-1.4.1-.2.2.5.2-.8.1.9.2 2.1.1-2.1.2 1.3.1-1.6.2 1.4.1-.5.2.2.2.5.1 1 .2-1.3.1 0 .2-.9.1 1.2.2-.6.1.9.2-.7.2 1.4.1-3 .2 1.4.1.9.2-.9.1-.4.2.4.1-.8.2 1.2.2 1.8.1-1 .2-1.8.1.2.2.4.1 1.1.2-1.4.2.1.1 1.2.2 0 .1-.9.2-.6.1-.4.2.7.1-1.2.2 2.4.2-1.1.1.9.2 1.1.1-.5.2-1.9.1 1.6.2.3.1-1.5.2-.2.2.7.1-1.2.2 2.5.1-3.1.2 1 .1.7.2 0 .1.4.2 0 .2-.3.1 1.1.2-2.7.1 1.8.2-.6.1.7.2.1.1-.9.2.2.2 1.1.1-.3.2-.8.1 2.2.2.2.1-3 .2 1.4.1 1.8.2-1.4.2-.5.1-.3.2-.2.1.2.2-.2.1 1 .2-.9.1 0 .2-.6.2.9.1-.7.2.6.1 1 .2-.5.1.1.2-.1.1-.3.2-.1.2-.1.1.8.2-1.4.1 1.9.2-1 .1-.7.2.3.2-.2.1.7.2-.7.1 1.5.2-1.5.1-1.2.2 1.2.1-1 .2 1.6.2.9.1-.4.2-1.5.1.4.2 2.1.1-1.2.2-.2.1.8.2 1.1.2-.9.1-.9.2.2.1.2.2-1 .1-.3.2.9.1-.8.2.7.2.1.1 1.8.2-2.5.1.6.2 0 .1.4.2.5.1-1.2.2-.2.2-.7.1.6.2 1.2.1-.4.2-.9.1.6.2.3.1.4.2-.9.2.3.1-1.3.2.6.1 2.2.2-3 .1 1.5.2.4.1-.5.2-.3.2.6.1.1.2-.1.1-1.4.2 1.4.1-.6.2.3.1.6.2.3.2.2.1-1.1.2 1.2.1.2.2 0 .1.2.2-1.2.2-.1.1.8.2-1.7.1 1.3.2-.6.1.1.2-1.1.1.7.2.7.2.8.1 0 .2-.8.1-.1.2-.5.1 1 .2-.5.1.7.2.9.2-1.4.1-1.2.2.5.1-.4.2.2.1 2 .2-.9.1-1.4.2 1.8.2.5.1-1.3.2-.2.1.2.2.5.1.3.2.5.1 0 .2 0 .2.1.1-.5.2-1.8.1 1.2.2.3.1-.5.2 1 .1-1 .2-.4.2 1.9.1-.6.2-.4.1.6.2.1.1-.6.2-2.2.1 1.4.2.2.2-.4.1.9.2.9.1-1.4.2-.5.1 2.5.2-1.9.1-.7.2 1.2.2.2.1-.9.2 1.2.1-1 .2-.4.1.9.2.5.2-1.1.1.8.2-.4.1 2.4.2-2.8.1 1.6.2-1.1.1 0 .2.6.2.2.1.3.2-.8.1-.7.2.1.1.8.2.1.1.6.2-.7.2.5.1.4.2-1.1.1-1.3.2.2.1-.2.2 2.4.1-1.9.2 1.7.2-.5.1.9.2-.6.1-.9.2 0 .1.2.2.1.1-.6.2.4.2 1.3.1-2.6.2 1.6.1-.9.2.8.1.6.2-.7.1.6.2-1.9.2 2.2.1-1.4.2 1 .1-.3.2-2.2.1 1.5.2.7.1 1.1.2-1 .2 0 .1-1.3.2 2.2.1.4.2-1.5.1-.2.2-1.1.1 2 .2 1.5.2-1.6.1.5.2-.6.1-1.2.2 1.9.1-2.1.2.8.2.4.1.5.2-.3.1-.1.2-.9.1-.4.2 1.1.1-.6.2-.5.2.1.1.6.2-1.1.1.4.2-.2.1 1.4.2.2.1 1.3.2-2.8.2.7.1 1.3.2-.9.1-.1.2 1.6.1-1.6.2-.6.1-.2.2 1.4.2-.1.1-1.3.2.3.1 1.2.2.1.1-1 .2 1 .1 0 .2-1.9.2 1.2.1.6.2-.8.1-1.2.2 1.5.1.8.2.7.1-3 .2 3.8.2-3 .1 1.7.2.2.1-.2.2-.6.1-1.1.2 1.5.1-1.1.2-1.4.2 4.3.1-1.7.2.9.1-2.2.2 1.9.1.1.2 0 .2-1.3.1-.9.2.8.1-1.6.2.4.1 1.5.2-.9.1.7.2 0 .2 1.6.1-.4.2-1.1.1 1 .2-1.6.1.4.2 1 .1-1.7.2.7.2-.8.1 1.2.2 1.2.1-1.9.2.8.1-.9.2-.2.1-.1.2 2.2.2.7.1-1.5.2-.9.1 1.1.2-.8.1.9.2-.4.1 0 .2.3.2-1 .1.2.2-1.1.1 1.1.2-.8.1 1 .2-.6.1.8.2.3.2-1.5.1.5.2-.1.1 1.4.2.8.1-.7.2-1 .1 1.5.2-2.4.2 2.4.1-1.7.2-1.7.1 4.4.2-.9.1-2.1.2 1 .1-.3.2.3.2-1.3.1.7.2.9.1-.2.2.8.1-.9.2 1.8.2-2.4.1.8.2-1.8.1.6.2 2 .1-1.8.2 1.2.1-.5.2-.7.2.5.1-.1.2 0 .1 1 .2 0 .1-1 .2-.3.1 1 .2-.3.2.9.1 1.3.2-1.4.1-.7.2-.1.1-.6.2 0 .1-.1.2.5.2 0 .1.9.2-.9.1.2.2-.8.1 2.3.2-.9.1 1 .2-.8.2.6.1-1.4.2.8.1 1.6.2-3.2.1 2 .2.4.1-1 .2.3.2.4.1-1.6.2.9.1-1 .2.1.1.1.2.4.1.2.2.3.2-1.5.1 2.8.2-.7.1-.4.2-.8.1.2.2.5.1-.1.2-1.7.2 2 .1 1.8.2-3.9.1 2.3.2-.5.1-.4.2 1.3.2-2.1.1 1.1.2 1.1.1-1.4.2-.2.1.5.2-.5.1 1.7.2-2 .2 1.4.1-1.7.2 1.6.1-.7.2-2 .1 2.1.2-.8.1.5.2 1.6.2-2.1.1 0 .2 2.1.1-1.1.2 1.2.1-1 .2-1 .1.7.2 1 .2-.2.1-.8.2.1.1-.1.2-.4.1 2.1.2-1.6.1-.9.2.5.2 1 .1-.1.2-.6.1-.4.2.5.1-1.3.2.3.1 1.7.2-1 .2.7.1.7.2-.5.1-.5.2 1.7.1-1.1.2-.9.1.9.2-.2.2-1.1.1.8.2-.2.1-1.5.2 1.5.1-.1.2-.1.1-1 .2 1.1.2.3.1.1.2-1 .1 1.4.2-1.5.1.8.2 1.3.2-1.6.1.1.2 1.3.1-1.1.2 0 .1.5.2.7.1-2.7.2 1.1.2-.1.1-.1.2.2.1 0 .2 1 .1-1 .2.9.1.2.2-.9.2.7.1 1.2.2-1 .1-.8.2.4.1-.6.2.9.1.5.2-1.3.2.5.1 1.1.2-1.4.1.6.2-1 .1.2.2.3.1 2.1.2-2 .2-.1.1 0 .2.3.1.6.2-.3.1 1.5.2-1.5.1 1 .2-.9.2.3.1-1.7.2 1.1.1 0 .2-.1.1-1.5.2 2.4.1-1 .2 0 .2.1.1.1.2.5.1-1.4.2.3.1 1 .2-.1.2-.4.1-.2.2-.2.1.7.2 1 .1-1.8.2 2 .1-.5.2-1 .2 1 .1-1.8.2-.2.1.3.2.7.1.1.2-.1.1.5.2-1.8.2 2.1.1-1.5.2.6.1.2.2-.6.1-.2.2.3.1.9.2.4.2 0 .1-1.2.2.2.1-.1.2 1.1.1-2 .2 2.6.1-1.4.2-.2.2.9.1.6.2-.6.1.6.2-.7.1.9.2 0 .1-1.1.2 1.2.2-1 .1 0 .2-.8.1.5.2.9.1-1.7.2 1.6.1-.3.2 0 .2-2 .1 1.7.2.6.1-1.1.2.7.1-2 .2 2.4.1-1 .2 1.2.2-2.1.1 2 .2-.7.1.8.2-1.4.1.3.2 2.3.2-2.5.1.1.2.4.1-.6.2 1.8.1.4.2-1.9.1-.8.2 2.3.2-.1.1-.2.2.3.1-1.6.2.5.1-.9.2 0 .1 1.9.2-1.3.2 2.3.1-1.7.2-.6.1 1.2.2.8.1-1.1.2-1.3.1 1.3.2.8.2-1.5.1-.2.2 1.4.1-.7.2-1 .1.6.2-.3.1.9.2-.2.2.9.1-.4.2-1.8.1 1.6.2.4.1-.4.2.5.1-1.2.2-.4.2 1.5.1-1.5.2-.9.1 2.5.2-1.3.1.3.2-.9.1.1.2.1.2.7.1.6.2-2.2.1 2.5.2-1.5.1.1.2 1.4.1-.6.2-1.2.2 2.7.1-2.1.2.8.1 0 .2 1 .1-1.5.2 1.2.2-1.4.1 1.5.2-1.5.1.3.2 1.8.1-1.2.2-.2.1 1.7.2-1.5.2-.9.1 1.2.2-1.5.1 1.9.2 0 .1-1.4.2 0 .1.6.2-.1.2-.8.1 1.3.2-2.1.1 1.3.2 0 .1.1.2.5.1-1.2.2 1.4.2-.6.1-.3.2-.6.1.2.2 1.2.1-1.1.2.9.1.8.2 0 .2.4.1-1.5.2-.6.1 1.7.2-.6.1.7.2-.9.1.9.2-.2.2-.1.1-.2.2-.1.1-.1.2 0 .1.6.2-1.2.1 1.8.2-1.4.2.9.1-.9.2-.1.1 1.8.2-1.8.1-.8.2.4.1.4.2 2 .2-1.6.1.6.2-1.6.1 1.1.2.3.1.9.2-2 .2 1.1.1-.3.2-1 .1.8.2-.2.1-1.6.2 2.3.1 0 .2-.8.2-.7.1 2.2.2-.9.1.6.2.3.1-1.5.2 1 .1-.8.2.2.2-.1.1.1.2.9.1-.8.2-.2.1-.1.2.5.1-1 .2.4.2.3.1-.4.2.4.1-.4.2 2.1.1-.5.2-.7.1-.4.2 1.8.2-1.5.1-.3.2.3.1 0 .2.9.1-1.2.2 1.7.1-2.3.2 1.2.2-1.3.1 2.2.2-1.7.1.2.2.8.1.3.2-1.9.1.6.2-.8.2 1.2.1-.2.2-.2.1-.2.2.2.1-.3.2 1.1.1.8.2-2.8.2 1.5.1-.3.2.8.1-1.2.2.7.1-.8.2 1.4.2-.4.1-.2.2.4.1-.5.2-1 .1 1.7.2-.3.1-.3.2.9.2.2.1-1.8.2.2.1 1.9.2-.1.1-1.7.2-.4.1.5.2.1.2-.9.1 1.3.2-1 .1 0 .2 1.7.1-1.3.2.5.1.6.2.2.2-1 .1.4.2-.7.1 2 .2-.8.1-1.4.2.8.1.6.2-.2.2 1.1.1-.3.2-1.6.1.4.2-1 .1 1.3.2-.1.1 2.1.2-2.1.2-1.8.1 1.2.2.6.1-1.1.2.3.1.4.2.6.1-.4.2-.6.2 1.4.1-1.1.2 0 .1-.6.2.4.1 1.2.2-1.8.2 1.2.1.7.2-.9.1.5.2-1.1.1 1.9.2-.1.1-.7.2-1.6.2.6.1 1.6.2.6.1-1.1.2.7.1-1.4.2.3.1.1.2.4.2-1.6.1 2 .2.3.1-1.9.2-.2.1 1.4.2-.8.1-1.4.2 2.5.2-.5.1-.5.2 2.1.1-1.6.2-.7.1.7.2-.9.1.2.2.9.2-.7.1.1.2 1.7.1-.7.2 0 .1-.2.2 0 .1.7.2-1.1.2 1.5.1-2.3.2.6.1-.9.2.8.1.7.2.8.1-1.7.2.5.2-.3.1-.3.2-.3.1 1 .2-1.4.1 1.4.2 0 .1-.6.2-.2.2-.3.1 2.6.2-2.6.1 2.3.2-.7.1-.8.2-.6.2 1.7.1.6.2-2.1.1.5.2 1.1.1-.6.2 1.3.1-2 .2.9.2-1.5.1 2.7.2-2.2.1-1.2.2 1.7.1 0 .2 1.6.1-1.8.2.3.2.5.1.8.2-1.4.1.9.2-.4.1-.6.2.3.1-.1.2-.7.2 1.7.1-2.1.2 2.1.1-.2.2-.8.1-.6.2.5.1.5.2.3.2-.4.1.6.2-1.3.1.7.2-1.5.1 1.9.2-.5.1-.4.2 1.2.2-.3.1-2.8.2 2.3.1-1.2.2 2 .1 1.1.2-2.4.1.5.2-.3.2.5.1.3.2.5.1-1.8.2 2 .1-2 .2 1 .1.7.2-.3.2-1.4.1.2.2.2.1.4.2.9.1-1.9.2 1.4.2.1.1 0 .2-.1.1.9.2-.9.1.3.2-.2.1 1 .2-3 .2 2.6.1-1.2.2 0 .1-.6.2-.7.1 1.2.2-.3.1 1 .2-1.6.2 2.3.1-1 .2-.4.1-.4.2-.1.1-.3.2.5.1.4.2-.2.2-1 .1.9.2-.5.1.8.2 1.4.1-1 .2-.8.1-1.1.2.2.2-.3.1 1.9.2-1.2.1.7.2-.6.1.5.2 1.1.1-1.7.2.2.2-.4.1 1.4.2-1.6.1-.1.2-.2.1 0 .2 1.4.1 1.7.2-2.9.2 1.6.1-.6.2-1.1.1.6.2 0 .1-.4.2 2.1.1-3.1.2 1.8.2 0 .1-.8.2.6.1.6.2-.6.1.1.2.2.2-2.2.1 2.8.2.7.1-1.1.2 0 .1-2 .2 1.1.1-.6.2.1.2 1.3.1-1.5.2.5.1-1.4.2 1.4.1.2.2-.7.1 0 .2 2 .2-2.5.1.1.2.2.1 1.6.2.7.1-1.4.2-.8.1.3.2 1.2.2-1.5.1 1.9.2 0 .1-1 .2.5.1.1.2.7.1-2 .2 1.8.2-1.2.1-.3.2.8.1-.2.2-.6.1-.4.2.5.1 2.3.2.7.2-.7.1.7.2-1 .1.7.2.6.1-.8.2.4.1 1.2.2 0 .2-.3.1 1.5.2-.2.1 1.3.2-.5.1.1.2.7.1.1.2-.1.2.5.1 1.3.2.2.1.9.2-2.1.1 1.4.2.3.2.8.1-.2.2.3.1 1.3.2-.1.1-.8.2 2.3.1.1.2-1 .2 1.5.1-.9.2 1.8.1-.8.2-.1.1.6.2.1.1 1 .2.4.2.2.1-.2.2-2.1.1 3.3.2-1.3.1 2 .2 1.1.1-.4.2-.2.2.5.1.4.2 0 .1.2.2.1.1 2 .2-.6.1 1.1.2-.7.2.6.1.1.2.9.1.6.2-.2.1-.4.2.3.1 2.2.2-1.2.2.3.1 1.8.2 0 .1-.1.2-.5.1 2.6.2-1.3.1.5.2-.3.2-.7.1.4.2 1.7.1.3.2-.1.1-.5.2 0 .2 1.1.1-.7.2 2.1.1.4.2 1.5.1-1.4.2-.9.1-.1.2-1.8.2 2.5.1.5.2 1.1.1-.1.2.2.1-.1.2.5.1.9.2-1.8.2.6.1-.5.2 2.6.1-.1.2-.2.1-1.4.2 1.3.1-.1.2.5.2-.1.1.8.2-.5.1 1.2.2-.3.1-.2.2.3.1-.2.2 1.2.2-.8.1.5.2-.4.1-.8.2 2 .1-1.4.2 1.5.1-.1.2-1.6.2.7.1.4.2-.1.1-.2.2 1.6.1-.6.2.6.1-.6.2.7.2-.7.1.7.2.5.1-.3.2-.3.1-.4.2 1.1.1.3.2-.4.2-.3.1 1.1.2 1.7.1-2.1.2.6.1.1.2-2.2.2 2.2.1-.5.2 1.7.1-1.2.2-.4.1.5.2.4.1-.5.2.4.2-.9.1.9.2.9.1 1 .2-.9.1-.3.2.3.1 0 .2.4.2-.2.1-.5.2.2.1.1.2.1.1 0 .2-.4.1-.5.2.7.2-.6.1 1 .2.1.1-.7.2 1.1.1.1.2-.3.1.8.2.2.2-1.4.1 1.1.2-.2.1 0 .2.3.1-.6.2.1.1-.1.2.1.2.4.1-.6.2.3.1.8.2-.3.1.3.2-1 .1.6.2.2.2.2.1-.3.2.7.1-.4.2 0 .1 0 .2.3.1-.5.2.7.2-.3.1-.1.2-.1.1.2.2.3.1-.1.2-.2.2.2.1-.3.2.5.1-.6.2-.9.1 1.5.2-.5.1-.6.2.4.2-.3.1 1.4.2-.8.1-.9.2 1 .1-.5.2 1.1.1-1.3.2-.6.2 1.1.1-.2.2-.1.1-.7.2 1.1.1.6.2-1.6.1 1.4.2-.8.2 1.3.1-.9.2-.2.1.5.2-.2.1-.5.2.6.1-.6.2-.6.2 1.8.1-1.1.2-.1.1.4.2-.9.1.1.2.4.1 0 .2.3.2.5.1-.8.2.5.1 0 .2-.7.1.6.2-.6.1.9.2-.2.2-.2.1-.6.2.6.1-.4.2.7.1-.4.2-.3.1.8.2-.1.2-.6.1.8.2-.7.1 0 .2.2.1-.4.2.2.2.1.1.8.2-.1.1-.7.2.8.1-.7.2.1.1.3.2-.3.2 1 .1-1 .2-.7.1 1.2.2-.8.1 0 .2-1.2.1 1.8.2-.1.2 0 .1.1.2.3.1-.7.2.4.1-.8.2.2.1.7.2-.3.2-.8.1.7.2-.2.1-.3.2.6.1-.4.2-.5.1.2.2 1.3.2-1.5.1.8.2.2.1 0 .2-.9.1.5.2.2.1.3.2-.7.2-.2.1 1 .2 0 .1-.3.2-.5.1.5.2-.1.1.3.2-1 .2.7.1-.2.2-.4.1.6.2-.1.1-.2.2.4.1-.8.2.6.2.2.1-.1.2.4.1-1 .2-.2.1.8.2.1.2.8.1-.7.2-.7.1.8.2-.8.1-.2.2 1.8.1-1 .2.1.2 0 .1.5.2-.6.1.4.2-1 .1-.2.2 1.3.1 0 .2-.4.2-.2.1 0 .2-.4.1 1 .2-.4.1 0 .2-.1.1.3.2-.2.2.1.1-.9.2.8.1.7.2-1.2.1.2.2.4.1.1.2-.2.2-1 .1 1 .2-.8.1.2.2.6.1-.4.2.5.1 1.1.2-1.1.2 0 .1-.7.2.1.1-.2.2.2.1-.2.2.2.1.2.2-.4.2-.2.1 0 .2.9.1-.2.2.4.1 0 .2-.6.2.5.1-1 .2 1.7.1-.5.2-.6.1-.5.2.7.1-1 .2.5.2.7.1-.3.2-.2.1.6.2-.9.1.6.2-.3.1-.2.2.6.2-.7.1 1.3.2-1.1.1 1.2.2-1.4.1.8.2-.9.1 0 .2.7.2.2.1-.9.2 1.1.1-.9.2.4.1.2.2.1.1-1.1.2 1.5.2-.5.1-.4.2-.3.1-.3.2.2.1.8.2-.4.1-.3.2.3.2.9.1-.8.2-.2.1.9.2-.4.1-.2.2-.3.1-.4.2.2.2.3.1.1.2.3.1.1.2-.2.1 0 .2-.5.1-.6.2.8.2-.2.1.1.2.2.1-.4.2 0 .1.5.2.1.2-.4.1.5.2-.3.1-.3.2.4.1.9.2-1.2.1.8.2.1.2.1.1-1 .2 1.2.1-.8.2-.2.1 0 .2.4.1-.2.2-.1.2.6.1-.9.2-.1.1.8.2 0 .1.1.2-.9.1.9.2-.2.2.5.1-1.3.2.6.1-.2.2-.6.1.4.2.9.1-.8.2-.1.2.7.1.1.2 0 .1-.8.2.3.1.5.2-.7.1-.1.2.7.2.4.1-1.3.2-.6.1.5.2.2.1.4.2.3.1-.3.2-.3.2.4.1-.5.2.4.1-.2.2 1.5.1-.9.2-.7.1-.1.2.3.2-.6.1.4.2 0 .1.8.2-.6.1-.2.2-.2.2 0 .1.5.2 0 .1.6.2-.8.1.8.2-.4.1-.1.2-.9.2.3.1.9.2.3.1-.5.2.2.1-.5.2 0 .1-.1.2.7.2-.3.1-.2.2-.1.1.4.2-.1.1-.5.2 1.2.1-.7.2-.1.2.7.1-.2.2-.5.1.2.2-.7.1.2.2-.7.1 1.5.2-1.4.2 1.2.1-.7.2 0 .1.3.2.2.1.2.2.5.1-.6.2.2.2-.7.1.6.2-.2.1-.3.2.2.1 0 .2.1.1.1.2-.4.2-.1.1.7.2-1.1.1.4.2 1 .1-1.9.2.9.1.6.2-1 .2 1.9.1-2.3.2 1.8.1 0 .2-.3.1-.5.2.3.2-.6.1.8.2-.9.1.4.2.6.1-1 .2.4.1.2.2-.7.2 1.2.1-.4.2-.8.1.6.2-.3.1 0 .2.4.1-.4.2.8.2-.8.1.8.2-.5.1.4.2-.6.1 0 .2-.3.1.8.2.2.2.5.1-.4.2-.4.1-.2.2.2.1-.2.2.7.1-.2.2-.8.2 0 .1 1 .2-.5.1-.2.2.6.1-.7.2 0 .1 0 .2-.7.2 1.2.1-.9.2.3.1-.1.2.7.1-.4.2.1.1-.8.2.7.2-.6.1.8.2 0 .1-.1.2.9.1-.7.2 0 .1-.2.2-.1.2.5.1.1.2-1.1.1 1 .2-.2.1.2.2-.2.2-.8.1.1.2 1.3.1-.7.2-.8.1.8.2-.3.1-.6.2-.2.2.3.1.8.2-.1.1-.1.2.2.1.2.2-1.3.1.9.2-.3.2-.2.1.3.2.2.1 0 .2-.6.1.5.2 1.1.1-1.4.2-.3"/>
<path fill="none" stroke="none" marker-start="url(#mSi)" marker-mid="url(#mSi)" marker-end="url(#mSi)" clip-path="url(#cA)" d="M102.6 68.5l.2.2.1-.1.2-1 .1 1.3.2-1.1.1-.2.2.3.1.3.2.6.2-.1.1-.4.2.6.1-.5.2.5.1-1.5.2-.1.1 1.5.2-1.4.2.7.1.1.2-.2.1 0 .2 1.2.1-2.5.2 2.2.1.9.2-1.5.2 0 .1.5.2.7.1-2 .2.9.1-.2.2.5.2-.3.1.3.2-.7.1.3.2-.4.1 0 .2.3.1 0 .2-.7.2 1.8.1-1.1.2-.8.1 1.6.2-1.2.1.8.2-.3.1.2.2-.1.2-.5.1.4.2 1.3.1-2.8.2 1.5.1.3.2-1 .1-.2.2 2.3.2-1.7.1 1.6.2-1 .1-.3.2.3.1.1.2.4.1-.5.2-.2.2 0 .1.8.2-.4.1-1.2.2.3.1.6.2-.6.1.1.2-.3.2.4.1.5.2.3.1-.6.2 1.3.1-1.4.2 2.2.1-1.5.2-.3.2-.6.1-1.5.2 1.7.1.2.2 1.1.1-2.1.2 2.1.1-1.4.2.7.2-2.2.1 1.8.2-.3.1.6.2-.4.1-.8.2 1.4.2-.2.1 0 .2.2.1.1.2-.7.1-.9.2 0 .1 1.8.2-.5.2-.3.1-.4.2.3.1 0 .2-.2.1-.3.2 1.9.1-1.3.2-.5.2-.5.1.4.2 1 .1 0 .2-.7.1.2.2-.2.1-.5.2 1.5.2-.6.1 1.4.2-2.1.1.4.2.7.1-.8.2-.7.1.3.2.6.2.2.1-.3.2.7.1 0 .2-.4.1-.2.2-.2.1.5.2.3.2-.6.1.3.2-.5.1-.7.2.2.1 1.2.2-.2.1.7.2-1 .2.5.1.3.2-.2.1-1 .2.3.1.2.2-.8.1 1 .2.3.2-.9.1 1.6.2-1.5.1 0 .2 0 .1-.3.2.7.2-.2.1 1.1.2-.7.1-.1.2-.5.1-.7.2.8.1-.5.2 1.2.2-.6.1 1.1.2-.6.1 0 .2-.4.1 0 .2.3.1.2.2-1.1.2.8.1 1.4.2-1.8.1-.1.2-.3.1-.5.2 1.7.1-.7.2.2.2 1 .1.4.2-2.2.1 1.3.2-.3.1-.2.2.1.1-.3.2 1 .2-.6.1-.2.2.6.1-.2.2-.3.1-.1.2.9.1-.8.2-.4.2-.5.1.3.2-.4.1.7.2.1.1-1.5.2 1.4.1.4.2-.3.2-.8.1 1.5.2-1.3.1-.3.2.1.1.7.2.6.1.1.2-.6.2-.9.1.3.2-.1.1.5.2-1.1.1 1.2.2.4.2-.5.1.4.2-.9.1-.4.2.6.1 1.1.2-.1.1-.9.2 1 .2-.9.1 1.1.2-.6.1-.6.2.8.1-1 .2-.1.1-.4.2 1.1.2-.2.1 0 .2-.2.1 1.2.2-1.2.1-.2.2 1.3.1.1.2-.7.2-1.4.1.8.2.8.1-.4.2 1 .1-1.9.2 1.3.1-.8.2 1.2.2-.9.1.7.2-1.1.1-.5.2.2.1.4.2-.3.1 1.4.2.1.2-.7.1-.8.2.6.1-.4.2 1.4.1-.7.2.1.1-.6.2-1 .2.8.1-.3.2 1 .1-.2.2-.6.1.3.2 1.3.1-1.7.2.1.2.4.1-.3.2.2.1.6.2.8.1-2.3.2 1.1.2.1.1-.1.2-.1.1-.1.2.9.1-.9.2.2.1.1.2 0 .2-.2.1.8.2-.7.1.2.2-.2.1-.6.2.1.1-.1.2.8.2-.6.1-.2.2.8.1.2.2-1.5.1 2.3.2-1.1.1-.1.2.7.2-.6.1-.4.2 1.8.1-2.1.2.6.1.6.2-1.2.1.6.2.3.2 1.3.1-2.1.2.5.1.5.2-.4.1-.8.2 1 .1-.2.2.2.2.5.1-.1.2-.4.1 0 .2-1 .1.7.2.2.1-.4.2.3.2-.6.1 1.5.2.4.1-1.6.2.5.1-.4.2 1 .2-.6.1-.2.2-.2.1.2.2-.7.1 1.1.2-.9.1.8.2-.3.2.7.1-.8.2.7.1-1.3.2 1 .1-.5.2.3.1-.1.2.6.2-2 .1 1.6.2-1.2.1 1.7.2-2 .1.6.2-.4.1 2.1.2-1.9.2.9.1-.4.2-.8.1.9.2.7.1-.6.2.8.1-.9.2.2.2-.2.1.5.2 1 .1-1 .2-.1.1-.6.2 0 .1 1.4.2-1.7.2.1.1.6.2-.2.1 1.5.2-2.8.1 1.8.2.2.1-1.2.2.3.2.7.1.8.2-1.7.1-.4.2 1.7.1.3.2-1.2.1-1.2.2 2.4.2-1.1.1.9.2-.8.1-.2.2-.1.1 1.3.2 0 .2-2.4.1.8.2 1.8.1-1.4.2-.6.1.8.2 0 .1 0 .2-.3.2.1.1-.1.2.6.1-.8.2.3.1.1.2 1 .1-.6.2-.3.2.4.1-.1.2.4.1-.3.2.8.1-.3.2-.9.1-.2.2.8.2-.2.1-.4.2-.9.1-.3.2 1.5.1.2.2.1.1-1.4.2 1.5.2-1 .1.6.2 0 .1-.8.2.1.1-.9.2.7.1-.5.2 1.4.2-.2.1.5.2-.3.1-.7.2.7.1-.5.2.6.1-.2.2-.8.2.6.1.1.2-.3.1.8.2.5.1-1.3.2 0 .1-1.2.2 1.3.2-.2.1-1.1.2 1.6.1.2.2-.8.1.2.2-.4.2 1.1.1-1.5.2.8.1 1.5.2-1.2.1.2.2-.4.1-.6.2.7.2.3.1-.9.2.8.1.6.2-.1.1-1.7.2.4.1-.4.2 1.7.2-.3.1.1.2-1 .1-.2.2.8.1 0 .2-.6.1.6.2.3.2-.2.1-.9.2-.6.1 1.2.2.2.1-.2.2-.2.1-.1.2.9.2-.5.1.1.2-.7.1.2.2.5.1-.7.2-.2.1.6.2 1 .2-.7.1.9.2-1.1.1-.1.2-.7.1.5.2 1.4.1-.8.2.3.2 0 .1-.5.2-.1.1.2.2.4.1-.2.2 0 .1-.2.2-.6.2.3.1-.4.2 1.3.1-2 .2 1.2.1 1.7.2-1.8.2-.5.1.7.2.9.1-1 .2.5.1-.3.2-.3.1 2.3.2-2 .2-.4.1 0 .2.6.1 0 .2.2.1-.4.2-1 .1 1.3.2-.6.2 0 .1-.7.2.5.1-.1.2.5.1-.9.2.9.1.1.2-.8.2.3.1-.1.2 1.1.1-2.2.2 1.4.1-.9.2.8.1.9.2-1 .2.5.1-.6.2 1.8.1-.7.2.1.1-1.6.2.2.1 1.4.2-.8.2-.1.1.4.2-1 .1 1.3.2-.5.1.3.2-.7.1.7.2-.7.2 1 .1.1.2-.1.1-.3.2.1.1-2.1.2 2.3.1-.8.2.3.2-.3.1-.7.2.6.1.7.2.5.1-1.3.2-.2.2 1.6.1-1.6.2 2 .1-1.4.2-.6.1 1.2.2.5.1-2 .2 1.9.2-1.2.1 1.2.2-1.2.1-.8.2 1.3.1.3.2.8.1-.3.2-.6.2-.6.1-.2.2.1.1-.3.2.3.1-1.4.2 1.7.1-.1.2 1.7.2-1.2.1-.8.2.7.1-1.2.2.4.1-.8.2 2.1.1-.5.2-1.2.2.8.1.6.2-.3.1 0 .2-.9.1.2.2.5.1.5.2-1.1.2-.2.1 1.4.2-1.3.1 1.3.2-.5.1.4.2.5.1-.7.2.1.2-1.1.1.1.2.9.1.6.2-.1.1.6.2-1.3.2-.1.1.6.2-.7.1 0 .2-.7.1 1.3.2-1.3.1 1 .2-1.2.2 1.6.1-1.4.2 1.2.1-1.5.2.7.1 1.1.2-1.3.1.5.2-.3.2-1.2.1 1.7.2.1.1-1 .2 1.1.1-.9.2-.2.1.7.2-.4.2 1.9.1-2.5.2 1.5.1.1.2-1.9.1.2.2 1.5.1-.7.2.5.2.5.1-.9.2-.5.1-1.1.2 1.9.1-.7.2.8.1-.1.2-1 .2 2 .1-.4.2-.2.1-1.3.2.5.1-.1.2.1.1-.4.2 1 .2-.2.1.1.2-.5.1 1.1.2-.7.1-1.9.2 1.4.1.4.2.6.2-.8.1 0 .2-.2.1.8.2-.7.1-.1.2-.1.2.9.1-.8.2-.7.1 1.5.2-.9.1.7.2 0 .1.6.2-.1.2-1.1.1.3.2-.7.1 1.9.2-.8.1.6.2-1.1.1-1.1.2 2.3.2-1 .1.1.2-.1.1.4.2-.1.1-1.3.2 1.7.1-1.1.2.1.2 1.4.1-.5.2-.8.1-1 .2 1.3.1.2.2-.4.1-.7.2.3.2-.3.1.9.2.4.1.2.2-1.2.1.6.2.2.1-.6.2.2.2 1.5.1-1.3.2.5.1-.9.2.3.1-1.1.2 1.1.1.8.2.5.2-.5.1-.4.2-.4.1-.4.2.3.1.5.2-.9.1 1.1.2-1.3.2-.5.1.5.2-.4.1.2.2 1.6.1-.8.2.2.2.6.1.1.2-1.1.1 1.1.2-.6.1-.2.2.3.1-1.2.2.4.2.4.1.5.2-.7.1.2.2.7.1.3.2-.4.1.3.2-1.1.2.1.1.4.2-.4.1-.2.2 1.5.1-1.3.2-.4.1.9.2.9.2-1.2.1.8.2-1.1.1 0 .2-.2.1.4.2 1.3.1-2 .2 1.8.2-1.7.1.5.2.7.1-.1.2-.2.1-1.3.2 1.3.1-.9.2 2.3.2-1.8.1.3.2-.9.1.5.2-.6.1 1.5.2-.8.1.5.2-.8.2.1.1 1.2.2-1.5.1-.5.2 1.4.1-1 .2.5.1.9.2-1.2.2 1.1.1-1 .2 1.4.1-.1.2-1.1.1.1.2-.4.2.7.1.6.2-1.7.1 1.6.2-1.5.1.3.2-.6.1 2.5.2-1.3.2.1.1-.6.2 1.2.1-2.1.2 1.4.1 1.4.2-1.7.1.3.2.4.2-1 .1.6.2.6.1-.5.2.1.1-.5.2.5.1-.2.2.9.2-.5.1-.6.2-1.4.1 2 .2.1.1-1.1.2-.7.1.5.2 1.4.2-1.3.1.4.2.4.1.7.2-.8.1-.1.2-.3.1 1.4.2-.3.2-.8.1-.8.2.4.1.8.2-.8.1 1 .2-.3.1 0 .2.2.2-.1.1-.9.2.4.1 1.7.2-2.3.1.5.2 1 .1-.8.2-.5.2-.3.1 1.2.2.3.1.3.2-.9.1.6.2-1.3.2.8.1-.6.2.6.1.3.2.3.1-1.4.2 1.5.1-1.1.2-.4.2.5.1-.8.2 1 .1.1.2-.3.1.5.2-.5.1.2.2-1 .2 1 .1-.6.2.3.1.2.2.2.1-1.2.2 0 .1.9.2.5.2-.1.1.3.2.3.1-.5.2-.4.1-.6.2 0 .1.4.2.4.2 0 .1-.1.2-.1.1.5.2-.3.1 0 .2.1.1-.6.2-.3.2 1 .1-.1.2-.4.1-.1.2 1.7.1-1.9.2.3.1.3.2-.9.2.8.1 1.1.2-.5.1-.2.2-.1.1-.3.2.6.2-.7.1-.2.2.3.1.5.2-.3.1.2.2-1.8.1 2.1.2.8.2-.7.1-1.1.2-.3.1.7.2-.8.1 1.1.2-.8.1 1 .2.2.2-2.2.1 1.5.2-.6.1-.5.2.5.1.3.2.8.1-1.6.2 1.6.2.7.1-1 .2 0 .1-.4.2-.7.1 1.1.2-.1.1.2.2 1.2.2-1.2.1-.2.2.8.1-1.9.2.1.1.5.2-.2.1.9.2-.7.2 1.4.1-.2.2-.5.1-.7.2.6.1.2.2-1.2.1.9.2.2.2-.3.1.9.2-.3.1-1.3.2.6.1-.6.2.9.1-.9.2 1.1.2-.3.1.4.2-.7.1-.9.2 2.1.1-1.3.2 1 .2-.6.1.2.2.7.1-.9.2.7.1-1.9.2 1.5.1-.7.2.1.2 0 .1.3.2.8.1-2.3.2 1.3.1-.5.2 1.2.1-1 .2.5.2-.5.1.7.2.2.1-.9.2.3.1-1 .2 1.1.1.4.2-.9.2 1.1.1-2.1.2.1.1.3.2.6.1.4.2-.1.1 0 .2.5.2-.8.1-.5.2 0 .1 2.2.2-2.9.1 1.4.2 1.1.1-.6.2-.9.2.5.1.6.2.2.1-1.3.2 1 .1-.3.2.6.1.1.2-1.1.2-.7.1 1.2.2.9.1-.7.2-.3.1 1.4.2-2.2.1 1.2.2-.9.2.4.1 0 .2.9.1-1.6.2.3.1-.7.2 1.4.2-.7.1.6.2-1 .1.5.2.9.1-.8.2.5.1 0 .2-.6.2-.8.1 1.7.2-.6.1.6.2-2 .1.3.2-.4.1.9.2 1.2.2-.3.1-.4.2.1.1.4.2-.7.1.5.2-.2.1-1.5.2 1.2.2 1.1.1-1.1.2.1.1-.3.2.1.1 1.1.2-.9.1-.5.2-1.4.2 1.7.1-.9.2 0 .1 1.7.2 0 .1-1.7.2 1.8.1-.3.2-.8.2 1 .1-1.5.2.2.1-.1.2.2.1 1.3.2-1.4.1.1.2.1.2.8.1-.4.2.8.1-1 .2-.4.1.5.2.3.1-.6.2.8.2 1 .1-1.6.2.4.1.9.2-1.3.1-.1.2-.2.2 1 .1 0 .2-.4.1.1.2.8.1-.2.2-1.5.1.9.2.1.2.4.1-.6.2-.3.1.1.2-.8.1 1.1.2-.4.1.7.2-1 .2.4.1-.3.2-.1.1 1.2.2-.8.1.6.2-1 .1.8.2-1.2.2.8.1 0 .2.7.1-.3.2-.2.1.6.2-.4.1.2.2.2.2-.6.1-.1.2.4.1-.5.2.5.1.5.2-.2.1-.8.2-.5.2.8.1-.1.2.8.1-1 .2.2.1.6.2-.8.1.2.2 1.2.2-.1.1-.6.2-.2.1-.8.2.9.1-.3.2.1.1-.5.2.4.2-.1.1.3.2.7.1-.7.2-1.3.1.5.2-.4.2.5.1.8.2-.1.1-.6.2.6.1-.7.2-.4.1 0 .2.3.2 1.5.1-1.8.2 1.7.1 0 .2-.9.1 0 .2-.3.1.4.2.4.2-.4.1.6.2.1.1-.5.2 0 .1-.3.2.3.1-.9.2.9.2-.1.1-.7.2 2 .1-2.1.2.1.1.8.2-1.5.1.8.2-.5.2.3.1.6.2.3.1.5.2-.2.1.2.2-.3.1-.7.2 1 .2-1 .1-.1.2 1.4.1-.5.2-.4.1.4.2 0 .1-1.4.2.8.2-.7.1.9.2-.6.1 1.4.2-.6.1-.9.2.6.2-.8.1.8.2.3.1-.2.2-1.4.1 1.1.2.5.1-.1.2.5.2-1.6.1 1.2.2-.8.1.6.2.1.1.2.2-.8.1.5.2-.9.2-.1.1 1.2.2-.4.1-1 .2.5.1.6.2 1 .1-.4.2-.1.2-1.7.1 1.1.2.4.1-.1.2 0 .1-.4.2 1.3.1-.2.2-1 .2-.6.1 2 .2-1.7.1 1.1.2.5.1-1.9.2.9.1-.5.2.6.2-.1.1 1 .2-.9.1-.3.2.7.1-.9.2-.1.1 1.7.2-2 .2.2.1.4.2-.7.1-.7.2 2 .1-1.1.2.1.1.1.2-.4.2 0 .1.8.2 1.4.1-1.1.2 0 .1-1.4.2.9.2-.7.1 1.3.2-.7.1.2.2-.1.1-.3.2-.6.1 1.3.2-1.2.2.1.1.6.2-.3.1.6.2.5.1-.5.2 0 .1-.1.2.5.2-1.7.1 1.4.2-.9.1-.1.2.8.1-.3.2.6.1.4.2-2.3.2 1.5.1 1.3.2-.7.1.4.2-.9.1-1 .2.2.1 1.2.2.2.2-1.1.1.3.2.3.1-1.3.2.9.1 1.3.2.4.1-1.5.2 1.2.2-1.5.1-.2.2-.9.1 2.1.2-.9.1 1.8.2-1.3.1-.1.2-1.3.2 2.1.1-1.2.2.1.1-1.3.2 2.1.1 0 .2-1 .1.4.2.2.2.4.1-.6.2 1.1.1-1.3.2-.2.1 0 .2-1.3.2 1.1.1 1.2.2-.5.1-.7.2.8.1-1.6.2 1.2.1.5.2.1.2-1 .1 1.1.2.7.1-1.5.2.7.1-1.5.2-.2.1 1.6.2-.3.2.1.1-.5.2.2.1.7.2.6.1-1.3.2-.9.1 1.9.2-.5.2.1.1-.3.2 1.4.1-1.5.2.3.1-1.6.2.9.1-.1.2.4.2.3.1-.7.2 1.6.1-1.8.2.4.1.4.2-1 .1 1.2.2.1.2-.6.1 1.4.2-1.2.1.1.2-.8.1-.4.2.6.1.2.2 0 .2.7.1-2 .2.8.1-.4.2 2 .1-1.2.2 0 .1-.4.2 1.3.2-.8.1.4.2-1.5.1 2.1.2-.5.1.1.2.4.2-.9.1 0 .2.6.1-.2.2-.4.1.2.2-.4.1.8.2.2.2-.7.1 1.3.2-2.3.1.9.2 1.3.1-1.4.2-.8.1 2 .2-.6.2-1.1.1 1.2.2-1.1.1-.2.2.7.1-.2.2-.4.1.5.2-.4.2.7.1-.1.2.5.1-.8.2-.5.1 0 .2.7.1 1.1.2-.4.2-1 .1 1.1.2-1.4.1 1.4.2-.9.1.7.2-.1.1-.5.2.4.2-1 .1.7.2.7.1 2 .2-2.2.1-.4.2-.7.1 1.3.2-1.7.2.5.1.8.2-1 .1 1.7.2-.2.1-1.1.2 0 .2-.5.1-.1.2 1.2.1.1.2-.1.1-.1.2-.5.1.6.2-1.2.2.9.1 1 .2-.1.1-1.2.2.1.1 1.1.2.3.1-2.1.2.7.2.4.1.6.2-1.3.1 1 .2-.7.1 1.8.2-1.3.1-.4.2-.1.2.9.1-.2.2-1.2.1.9.2-1 .1.3.2-.3.1 0 .2.4.2-.2.1 1 .2.2.1-.7.2-.6.1 1.3.2-1.9.1.1.2 1.7.2 0 .1.2.2-.8.1-.7.2.5.1.7.2-.9.1.1.2-.5.2.2.1 1.3.2-.3.1-1 .2 0 .1.4.2.7.1-1.1.2.6.2-1.3.1.6.2 1.1.1.3.2-1.3.1.2.2 1.1.2-.8.1-.1.2.7.1-.2.2.6.1-.3.2-.8.1.3.2 0 .2-.9.1.3.2 1.3.1-1.7.2 1.7.1-.5.2-.3.1.5.2-.1.2.5.1-1 .2.1.1 0 .2 1.4.1-.7.2-1.2.1.4.2-.2.2.4.1.2.2 1.3.1-2.7.2 1.9.1-.4.2-.7.1.3.2-.2.2.4.1.6.2-1.7.1 1.9.2-1.1.1 1.2.2-.7.1.5.2-.4.2.3.1-.6.2-.6.1 1 .2 0 .1.9.2-2.7.1 1.2.2.8.2-1.5.1.7.2 1.5.1-.4.2-1.5.1 1.5.2-.2.1-.3.2-.2.2-.1.1-.7.2.2.1.8.2-.4.1 1.1.2-1.4.2-1.3.1 1.3.2.4.1.1.2-.2.1-.6.2 1.5.1-1.4.2.9.2-.7.1-.5.2 1.7.1-2.6.2 1.1.1.8.2-.5.1.7.2-.5.2-.3.1 1.7.2-1.5.1 0 .2-.6.1.2.2 1 .1-.1.2-.4.2-.4.1.9.2-1.6.1.9.2.1.1-.4.2.6.1-.5.2-.1.2 1.7.1-.7.2.3.1-.7.2.6.1-.2.2.3.1.8.2-1.7.2.3.1-.2.2-2.2.1 1.3.2.9.1.4.2-.7.1 1.1.2.1.2-1.1.1 1.2.2.2.1-.9.2-.9.1 1.6.2-1.1.1-.1.2.3.2-.4.1 1 .2-.2.1.3.2-.4.1-.9.2.4.2.7.1-.8.2 2.1.1-2 .2-.2.1 1.1.2-.3.1-.5.2-.1.2.4.1.3.2-.1.1-.7.2.5.1.3.2-.1.1-2.5.2 1.5.2 0 .1.4.2.3.1.4.2-.2.1-.4.2.1.1 1.1.2-1.6.2.6.1.9.2-.8.1-1.6.2 1.6.1-.5.2.2.1.7.2-.4.2-.4.1.7.2-.3.1-.2.2.1.1 0 .2-.4.1-.1.2.3.2-.6.1-.2.2 1.7.1-1 .2.1.1-.1.2.1.1 0 .2.1.2-.6.1 1.1.2-1 .1 1.1.2-1.9.1.5.2 1.4.1-.8.2-.3.2.7.1-.9.2.7.1-1.5.2 1.1.1-.1.2.8.2.2.1-1.1.2 1.6.1-1.5.2-.9.1-.2.2 2.5.1-1 .2-.4.2-.1.1-.2.2 1.6.1-.9.2 1.2.1-1.3.2-1.4.1 2.1.2-.8.2.1.1 1.1.2-1.1.1.9.2-.8.1-.5.2.9.1-.8.2 1.2.2-.1.1-.6.2.3.1 0 .2-.6.1.8.2-.7.1.5.2-1 .2.7.1.2.2-.8.1.3.2-.1.1.8.2-.9.1.7.2.7.2-.7.1-1.3.2 1.1.1.6.2-.9.1.9.2-.3.1-.1.2-.4.2-.2.1.2.2.2.1.3.2-.1.1-.5.2.3.2.2.1-1.3.2.5.1 0 .2.4.1-.1.2.1.1-.4.2 1 .2-.3.1-1.2.2 1 .1-.7.2 1.8.1-1.4.2.1.1.3.2-.2.2.1.1 1 .2-.8.1.4.2.2.1-1.4.2 1.7.1-.6.2.2.2-1.2.1 1.1.2-.3.1-.6.2 1.8.1-1.1.2-.5.1.3.2.4.2.2.1-.4.2.4.1.2.2-1.8.1.5.2-.3.1.7.2.9.2-.5.1-1.2.2.5.1.9.2-1 .1.3.2.2.1-1.4.2 1.7.2-.3.1.2.2-1 .1.1.2.1.1.6.2-.1.1 0 .2 1.1.2-.3.1-1.3.2 0 .1 1.5.2-1.3.1 1.1.2.2.2-1.4.1.1.2.3.1-.6.2-.1.1.4.2.8.1-.9.2.2.2-.2.1-.6.2 1.9.1-2.5.2 1.1.1.8.2-1.3.1 1.3.2.4.2-1.3.1.7.2-.9.1 1.1.2-.3.1.1.2.7.1-.6.2.6.2-.5.1-1.2.2 1 .1.1.2-1.2.1 1.8.2-.8.1.2.2-.9.2.7.1.1.2-.4.1.3.2-1.5.1 2.3.2-1.6.1-.7.2.8.2.1.1.9.2-1 .1.8.2-.8.1 2.1.2-1.1.1.9.2-1.9.2 1 .1-1 .2 1 .1.1.2-1.5.1.3.2 0 .1-.3.2.5.2-.1.1-.3.2 1 .1.3.2-1.2.1.4.2.4.2-.1.1-.3.2.9.1.1.2-.1.1-.6.2 1.4.1-.2.2-1.4.2.2.1.9.2-1.3.1.8.2-.3.1-.4.2.3.1-.9.2.7.2-1 .1 2.8.2-.5.1-.1.2-.6.1.4.2.2.1-.2.2 0 .2-1.2.1.9.2-.6.1-.4.2 0 .1 1 .2.4.1-1.5.2 2 .2-.2.1-1.2.2 0 .1.3.2.7.1-.9.2-.5.1 1 .2-1.6.2 1.5.1.6.2-.5.1.3.2-.2.1.2.2-.4.1-.6.2.4.2.1.1.9.2.2.1-.8.2-.7.1 0 .2.4.1 1 .2-.6.2-.3.1-.4.2 1.1.1-.3.2-.2.1.1.2 1.1.2-1.2.1 1.2.2-.2.1-.8.2.6.1-.6.2-.5.1.4.2-.4.2 1 .1-.3.2.4.1.2.2-2.5.1 2.2.2-1.3.1 1.3.2-.7.2.7.1.9.2-2 .1 1.3.2-.2.1-1.1.2 1.7.1-.4.2-.3.2-.1.1 2.6.2-2.4.1-.8.2.6.1.3.2.1.1.2.2-.6.2 1.1.1-.7.2-.5.1.4.2.3.1.8.2-.2.1-.5.2.3.2.1.1 1.2.2-1.6.1.7.2.2.1-1.1.2.8.1 0 .2-.4.2.7.1.4.2.1.1-.9.2.3.1 1.5.2-2.3.1.9.2.5.2-.5.1.4.2-.3.1.4.2.4.1-.9.2.3.2-.2.1-.2.2.3.1-.7.2 1.3.1.6.2.1.1-.3.2-1.4.2 1.6.1-1.4.2.5.1 1.2.2-1.8.1 1.3.2-.4.1-.2.2-.5.2.9.1-.5.2 1 .1.1.2-1.6.1.6.2.1.1-.5.2.1.2.8.1-.2.2-.9.1.8.2.7.1-1.1.2.2.1 1.7.2-.2.2-1.9.1.2.2 1.2.1-1 .2.7.1-.1.2.6.1-1.9.2.2.2.7.1 1.5.2-.8.1-.9.2 1.4.1.2.2-.6.1 0 .2.5.2.5.1-.6.2.2.1-.3.2-.2.1-.4.2.8.2-.4.1.1.2.7.1-.2.2.2.1-1.6.2 1.4.1-.7.2-.2.2 0 .1 1.4.2-.3.1-1 .2-.2.1.7.2-.3.1 1.4.2-2 .2-.3.1 1.1.2.1.1.1.2.4.1.9.2-1.6.1-.1.2-.8.2 1.3.1.4.2-.7.1 1 .2-.8.1 1 .2-.8.1-.9.2.3.2-.6.1-.1.2 1.3.1.4.2.7.1-1.3.2-.1.1-.6.2 1.4.2-.4.1-.6.2.8.1-.1.2-1.5.1 1.7.2-.4.1-.4.2 0 .2 1.4.1-.1.2.2.1-1.9.2.3.1 1 .2-1.3.1.3.2-.7.2 2.4.1-.5.2-.4.1-.2.2-.4.1 0 .2.7.2-.9.1 1.3.2-1.1.1-.3.2 1.4.1-.9.2.5.1-.7.2-1.2.2 1.9.1-1.3.2 1.6.1-1.7.2-.2.1 1.4.2.1.1-.2.2-.9.2 1.4.1-1.6.2.7.1-.2.2.3.1.8.2-1 .1.8.2.1.2-1.6.1.3.2.6.1-.2.2.6.1-1.5.2 1.8.1 0 .2-.6.2-.8.1.9.2-.3.1.7.2-.5.1.6.2-.8.1 1.2.2-2.4.2.8.1 1 .2-1.3.1 1.5.2-1.3.1.9.2-.7.1.3.2.4.2-.2.1-.1.2 1.6.1-1.4.2-.6.1 1.2.2-.1.1.3.2.4.2-1.8.1 1.3.2 0 .1-.7.2.2.1-2.2.2 1.6.2 1.6.1-2.4.2.9.1.5.2.2.1.7.2-2.2.1 1.1.2.6.2-1.5.1.9.2 1.2.1-.3.2-.5.1-2.1.2 1.6.1.4.2-.5.2.2.1 2 .2-2.1.1-.5.2.8.1-.4.2 0 .1.1.2.6.2-.3.1-1 .2.7.1.4.2-.6.1 1 .2-.2.1-1.1.2.8.2 1.1.1-.3.2-1 .1.6.2-1 .1-.5.2 1.3.1-.2.2.1.2-.3.1.2.2-.5.1.6.2.2.1-.5.2.5.1-1.7.2.7.2 1.4.1.2.2-.9.1-.3.2-.7.1 1 .2.3.1-1.5.2 1.4.2-.1.1 0 .2-1 .1 1.1.2-1.4.1 2 .2-.9.2-.9.1 1.7.2-.1.1-1.2.2 1.8.1-2.1.2.9.1.6.2-2.3.2 2.2.1-.7.2 0 .1-.7.2.9.1-.9.2.1.1.3.2-.5.2 1.8.1-1.9.2.4.1.3.2.2.1.5.2 0 .1-.7.2 0 .2.2.1.5.2 0 .1-.8.2-1 .1 2.7.2-.8.1-.4.2 0 .2-.5.1-.4.2.5.1.1.2-.3.1-.5.2.7.1.6.2-.7.2.3.1-1.3.2 1.2.1 0 .2-.7.1-.3.2 1.4.1-.8.2.8.2-.6.1.7.2-.6.1-.8.2.9.1-.1.2.6.1-.7.2 0 .2.9.1.2.2-.3.1.2.2-.4.1.2.2.1.2-.3.1-.3.2.1.1 1.5.2-1.6.1-.2.2 0 .1.2.2.2.2-.9.1-.6.2 1.5.1-1.2.2 1.2.1-.1.2.6.1.4.2-.9.2-.6.1-.4.2.3.1.5.2-1.3.1 1.3.2 0 .1.4.2-.6.2.3.1-.6.2.2.1-.9.2 1.3.1.9.2-.9.1.1.2-.8.2 1.5.1-1.4.2 1 .1-.4.2-.7.1 1.3.2-.7.1.1.2.2.2-.3.1-.2.2.5.1-.6.2.3.1-.4.2-.6.1.6.2.1.2.3.1.8.2-1.9.1 1.2.2-1.5.1.7.2.4.2-1.2.1.3.2 1.3.1 0 .2-.2.1-.4.2 1.9.1-1.5.2-.5.2 1.7.1-.7.2-.6.1 1 .2-.7.1.3.2-.2.1-.9.2 1.3.2-.5.1-.8.2.2.1 1.1.2-.8.1.2.2.4.1-.3.2-1.1.2 1.4.1.2.2 0 .1.5.2-.9.1.3.2.5.1-1.2.2 1.3.2 0 .1-.6.2.7.1-.6.2-1.2.1 1.3.2-.5.1.1.2-.2.2.8.1-.5.2-.9.1.8.2.2.1-1 .2.2.1.1.2-.2.2.6.1.5.2.5.1-.4.2-.1.1 0 .2.2.1-1.1.2.7.2-.3.1-.3.2-.2.1 0 .2.1.1-.6.2 1.1.2-.3.1.1.2.1.1.3.2-.9.1.3.2-.9.1-.4.2.1.2 2.3.1-2.2.2 1.5.1.7.2-1.3.1 1.4.2.1.1-.6.2.9.2-1.1.1-.9.2.8.1-.6.2-.5.1 0 .2 2.3.1-1.8.2.3.2-.4.1.5.2-.2.1-.2.2-.5.1-.1.2.4.1.7.2 1.2.2-.7.1.5.2-.9.1-.3.2-.9.1.9.2-1.4.1 1.2.2 1.3.2-.9.1.5.2-.9.1-.7.2.6.1.1.2 1 .1.5.2-1.8.2.3.1.1.2-.1.1-.6.2.9.1.2.2 0 .1-1.1.2.7.2-1 .1 1.7.2-1.2.1.4.2-.1.1-.1.2-.3.2-.4.1 2.2.2-.9.1 0 .2 1.2.1-1.4.2.4.1-.4.2.8.2-.5.1-.1.2-.3.1.3.2.6.1-2.1.2 1.2.1-.2.2.1.2-1.1.1 1.8.2-1 .1.4.2-.2.1-.8.2.8.1-.9.2.6.2.4.1.2.2.1.1-.2.2 1.5.1-1.1.2-1.1.1.4.2 0 .2.3.1-.3.2-.1.1 1.6.2-1 .1-.3.2.1.1 0 .2 1 .2-.6.1.5.2-2.8.1 2.2.2.5.1.6.2-1.3.1-1.1.2 1.5.2-.8.1-.7.2.7.1 1.1.2.1.1-.3.2-1.2.1 2.4.2-2.4.2.7.1-.9.2 1.8.1-.6.2.3.1-.5.2-.1.2.1.1-1.3.2 1.9.1-.1.2-.8.1.2.2.2.1.8.2-.7.2-.2.1-.4.2-.7.1.6.2.5.1-.2.2.2.1.4.2-.2.2-.1.1.3.2-.3.1-.2.2.3.1-1.4.2 1.9.1-1.6.2 1.4.2-.6.1.8.2-.7.1-.7.2 1.3.1-.5.2-.1.1 0 .2.6.2-.1.1-.4.2-1.2.1.8.2.3.1 1.1.2-.9.1-.3.2.8.2-.8.1 0 .2.1.1-1 .2 1.6.1-.4.2-.4.1-.6.2.9.2.7.1-1.3.2-.3.1 1 .2-1.3.1-.4.2 1.1.1-.1.2.3.2-.2.1.6.2-.4.1-.3.2.1.1.7.2.3.2-.1.1-.1.2-2.6.1 1.5.2.4.1.4.2-1.2.1 2 .2-.8.2-.6.1.5.2-.3.1-.3.2.9.1-.7.2-.6.1.5.2.4.2-.7.1 1.6.2-1.6.1 1.9.2-.6.1-1.2.2.7.1.7.2-.9"/>
<g fill="#70ad47"><rect x="101.3" y="77.2" width="3.4" height="3.4"/></g>
<g fill="#4472c4"><circle cx="103" cy="81.4" r="1.8"/><circle cx="103" cy="92.8" r="1.8"/><circle cx="103" cy="112.2" r="1.8"/></g>
<g fill="#ffc000"><rect x="101.3" y="141.3" width="3.4" height="3.4"/><rect x="101.3" y="149.5" width="3.4" height="3.4"/><rect x="101.3" y="179" width="3.4" height="3.4"/><rect x="101.3" y="211" width="3.4" height="3.4"/></g>
<rect x="102" y="6.8" width="2.2" height="2.2" fill="#000"/>
<rect x="466" y="5" width="103.2" height="276" fill="rgb(146,146,146)" fill-opacity="0.35"/>
<rect x="570.4" y="4" width="6" height="277" fill="url(#sh)"/>
<line x1="467.2" y1="5" x2="467.2" y2="281" stroke="#000" stroke-width="1.7" stroke-dasharray="1.7 1.8"/>
<path d="M97.5 4H569.6V281" fill="none" stroke="#4a4d50" stroke-width="1.9"/>
<g stroke="#333" stroke-width="1.4" fill="none">
<line x1="97.6" y1="297.5" x2="97.6" y2="575.2"/>
<path d="M92.1 296.9H103.8 M92.1 353.9H103.8 M94 336.7H102.8 M94 326.7H102.8 M94 319.6H102.8 M94 314.1H102.8 M94 309.5H102.8 M94 305.7H102.8 M94 302.4H102.8 M94 299.5H102.8 M92.1 410.9H103.8 M94 393.7H102.8 M94 383.7H102.8 M94 376.6H102.8 M94 371.1H102.8 M94 366.5H102.8 M94 362.7H102.8 M94 359.4H102.8 M94 356.5H102.8 M92.1 467.9H103.8 M94 450.7H102.8 M94 440.7H102.8 M94 433.6H102.8 M94 428.1H102.8 M94 423.5H102.8 M94 419.7H102.8 M94 416.4H102.8 M94 413.5H102.8 M92.1 524.9H103.8 M94 507.7H102.8 M94 497.7H102.8 M94 490.6H102.8 M94 485.1H102.8 M94 480.5H102.8 M94 476.7H102.8 M94 473.4H102.8 M94 470.5H102.8 M94 564.7H102.8 M94 554.7H102.8 M94 547.6H102.8 M94 542.1H102.8 M94 537.5H102.8 M94 533.7H102.8 M94 530.4H102.8 M94 527.5H102.8"/>
<line x1="97.6" y1="410.9" x2="570.4" y2="410.9"/>
<path d="M116.5 406.7V414.5 M135.4 406.7V414.5 M154.3 406.7V414.5 M173.2 406.7V414.5 M192.2 406.7V414.5 M211.1 406.7V414.5 M230.0 406.7V414.5 M248.9 406.7V414.5 M267.8 406.7V414.5 M286.7 406.7V414.5 M305.6 406.7V414.5 M324.5 406.7V414.5 M343.5 406.7V414.5 M362.4 406.7V414.5 M381.3 406.7V414.5 M400.2 406.7V414.5 M419.1 406.7V414.5 M438.0 406.7V414.5 M456.9 406.7V414.5 M475.8 406.7V414.5 M494.8 406.7V414.5 M513.7 406.7V414.5 M532.6 406.7V414.5 M551.5 406.7V414.5 M570.4 406.7V414.5"/>
</g>
<path fill="none" stroke="none" marker-start="url(#mB)" marker-mid="url(#mB)" marker-end="url(#mB)" clip-path="url(#cB)" d="M97.6 583.2l.2-16 .1 17.3.2 0 .1-.1.2-.4.1-.1.2.3.2-.6.1 1.5.2-.7.1-.2.2.2.1-1 .2.9.2.6.1-.6.2-.5.1-.3.2.7.2-.4.1.3.2.2.1.9.2-1.3.1.9.2-.9.2.1.1.2.2-.7.1.7.2-.6.1 1 .2-.3.2-1.3.1.8.2 1.1.1-1 .2.5.1-17.7.2 18.2.2-18.2.1 17.4.2-17.1.1 17.8.2-.5.2-.8.1.1.2 1 .1-.3.2-.8.1.3.2.7.2-.7.1.5.2 0 .1.3.2-.7.1.1.2-.2.2-17 .1-22.3.2 40.2.1-.1.2-.6.1.5.2-.4.2.9.1-.7.2 0 .1.2.2 0 .2.1.1.5.2-1.8.1-26.1.2 26.7.1-.6.2 1.1.2-.6.1-.6.2.6.1.6.2-26.9.1-.3.2 26.5.2-1.1.1 2 .2-.3.1-.7.2.9.1-18.1.2 17.1.2.9.1-.4.2-34.5.1 35.4.2-27.7.1 10.2.2 17.3.2-18.2.1.8.2-.2.1 16.8.2-.1.2-16.7.1-10.1.2 9.5.1 17.8.2-.4.1.4.2-.4.2.2.1-40.3.2 40.3.1.1.2.7.1.2.2-1.9.2.5.1-15.8.2 15.5.1 1.5.2-17.9.1 16.7.2-.5.2.2.1.7.2-17 .1-9.9.2 27.5.2-.1.1.3.2-18.1.1.3.2 17.6.1-1.2.2 1.9.2-1.3.1-27 .2 27.4.1.9.2-1.4.1 0 .2.7.2-1 .1.7.2-.5.1-26.6.2 27.1.1 0 .2-.4.2.4.1-18.1.2 17.8.1-26.8.2-6.9.2 34.7.1-1.6.2-.1.1-26.6.2 27.3.1-16.5.2 16.3.2.5.1-.5.2-16.5.1-1.7.2 18.3.1.4.2-.6.2.7.1.2.2-17.6.1 17.3.2-.8.1-27.2.2 27.1.2-26.8.1 26.5.2.3.1-16.9.2 17 .2-26.9.1 9.7.2 1.3.1 16.8.2-1.5.1 1.3.2-16.9.2 16.9.1-17.2.2-.4.1 17.3.2.9.1-18.3.2-.3.2-17.2.1 34.6.2-.1.1.5.2.2.1-.1.2-16.6.2 16.9.1-.1.2-17.5.1-17 .2 33.8.1.2.2-16.4.2 17 .1.6.2-18.5.1-10 .2 10 .2-16.6.1 34.7.2-27.4.1-7.8.2 34.4.1-.3.2-16.3.2-.6.1-.7.2-15.1.1-6.3.2 39.6.1-27.5.2 27.8.2-.8.1 1.2.2-.9.1-17 .2 17.7.1-.6.2-17.6.2-9.3.1.3.2-.6.1 27.6.2-17.2.2-1 .1-9.6.2-12.8.1 24.3.2-.6.1-10.1.2 27 .2-27.1.1-13 .2 12.2.1 26.9.2-26.4.1 27.1.2-.9.2 1.6.1-40.9.2 40 .1-17.3.2.1.1.2.2 16.7.2.7.1-17.5.2 18.2.1-1.5.2.6.2-16.2.1-11.6.2 28.1.1-54.9.2 27.3.1 10.2.2-10.6.2 11.1.1-17.8.2 6.1.1 10.9.2-27.1.1 45.2.2-27.8.2-7.2.1 34.4.2 0 .1-27.2.2 27.3.1.4.2-17.4.2-17.4.1-9.8.2 16.7.1 9.6.2.6.1-16.8.2-5.2.2 4.1.1 35.2.2.4.1-17.6.2-17.3.2 34.2.1-16.3.2 16.3.1-39.7.2 40 .1-34.6.2 7.5.2-8.3.1 17.7.2 0 .1-9.6.2-.7.1 10.6.2 17.9.2-17.1.1-17.7.2 7 .1-7.2.2 34 .1-26.8.2-7.1.2 6.9.1 28 .2-.9.1.1.2-17.1.2-10.2.1-11.3.2 39.7.1-27.2.2-8.7.1 18.3.2-17.6.2-6.4.1 24.4.2-.3.1-.6.2-10.3.1-.3.2 1.1.2 26.4.1-47.3.2 30.5.1-9.9.2 27.2.1-.7.2-17 .2 1.1.1-1 .2-23 .1 23.5.2-10.2.2-17.8.1 10.9.2 33.3.1-43.3.2 44.1.1-17 .2-.4.2 17.2.1-33.6.2 33.6.1 0 .2.3.1-17 .2-17.7.2 7.2.1 28.1.2-28.3.1-7.7.2-9.3.1-7.2.2 18.1.2-1.1.1 17.3.2 17.3.1-16.9.2 16.5.2-48.1.1 21 .2 28 .1-18.2.2 17.4.1-17.8.2-8.5.2-.6.1-12.5.2 5.1.1 34.4.2.5.1-27.4.2-6.3.2 15.7.1-9.4.2-7.1.1 17.2.2 17.2.1-17.5.2.4.2-.1.1-9.5.2-8 .1 6.9.2 10.5.1-16.8.2 6.7.2-13.2.1.8.2 39.9.1-17.4.2 16.7.2-34.1.1 17.4.2-16.7.1-18.1.2 11.9.1 1.1.2 20.9.2.3.1-9.8.2 0 .1 27.8.2-35.1.1 7.1.2-12.8.2.9.1 12.7.2-8.4.1 35.2.2-26.2.1-.5.2-13.1.2 12.2.1-6 .2-6 .1 40.1.2-40.2.2 6 .1-.9.2 7.9.1-12.9.2 22.3.1-9.5.2 26.9.2-27 .1-8.1.2 18.3.1 16.7.2-39.5.1 22.7.2-16.7.2 16.5.1.1.2-17.4.1 17.3.2 17.5.1-34.4.2.4.2 6.2.1-21.1.2 48.7.1-17 .2 15.8.2-47 .1 7.7.2 6.4.1 6.9.2-20.6.1 20.5.2 27.3.2-40.1.1 22.6.2 17.8.1-35.7.2 8.4.1 9.5.2-23 .2 22.9.1-22.1.2 39.8.1-34.4.2-8.9.1 8.3.2-.3.2 7.3.1-.5.2 11.4.1-17.5.2 17.1.1-17.4.2 7.6.2 10.9.1 15.9.2-17.8.1-15.6.2-5.3.2 4.4.1 18 .2-17.9.1 34.2.2-16.6.1-9.8.2-21.6.2 48.6.1-40.4.2 22.7.1-.3.2-9.8.1-12.7.2-3.2.2-.7.1 42.9.2-16.3.1-9.4.2 9.8.1-11.1.2-23.6.2 34.5.1-9.8.2-.1.1-8.2.2 1.7.2 33.5.1-38.7.2-1.7.1 40.3.2-27.3.1-16.3.2 0 .2 9.3.1-13.6.2-.2.1 14.2.2-5.5.1-8.2.2 21.3.2-13 .1 6.2.2-18.5.1 51.8.2-27.5.1-20.6.2 49.2.2-41.3.1 39.6.2-47 .1 21.1.2-14 .2-7.3.1 20.6.2 10.7.1-.7.2-9.7.1-8.1.2-5 .2 1.4.1 39.3.2-.8.1-27.2.2-11.8.1-5.2.2 16.6.2 10.3.1 18 .2-18 .1-.2.2-9.3.1 10.5.2-1.3.2-17 .1 17.7.2.2.1-.8.2-16.8.2 34 .1-33.9.2.5.1 34 .2-40.4.1 5.9.2.3.2 17.1.1-18 .2-13.6.1 21.1.2-26.7.1 20.8.2-18.4.2 25.6.1 25.6.2-40.1.1.4.2 6.2.1-6 .2 40.4.2-34.3.1-5.8.2-.3.1 11.4.2 1.3.1-12.8.2 6.4.2 6.4.1 26.9.2-39.9.1 12.9.2-6.5.2-11.3.1.6.2 9.4.1.6.2-.3.1 1.4.2-.4.2 16.6.1 16.9.2-33.5.1 7.6.2-35.9.1 11.2.2 6.1.2-7.6.1 52.7.2-34 .1-14.3.2-.6.1 22.2.2-25.1.2 12.4.1-14.5.2 20 .1-10.5.2-3.3.2-.7.1 9 .2 12.6.1-6.9.2 6.1.1-16.5.2-.4.2 26.8.1-22.4.2 5.7.1 7.3.2-29.5.1 8 .2 21.3.2-16.3.1-4.4.2-.9.1-5.9.2 10.1.1-7.4.2-8.7.2-.7.1 2.2.2 7.7.1 11.2.2-16.6.2 6 .1 2.9.2 8.4.1-6 .2 5.1.1 5.5.2-5.8.2.8.1-12.1.2-2.7.1 3 .2 12.4.1-1.5.2-7.4.2 13.9.1-17.6.2 24.5.1-13.1.2 6.5.1-13.1.2 3.5.2-.7.1-4.1.2 13.2.1 18.4.2-23.1.1.5.2-15.3.2 26.9.1.1.2-20.1.1 8.5.2-25.5.2 30.4.1-9.1.2-18.8.1 13.7.2-3.3.1 12.3.2-.4.2-12.3.1.7.2-10.4.1 10.3.2-.7.1-1.8.2-8 .2 22.1.1-7.9.2.6.1 20.5.2-36.2.1 35.7.2-21 .2-5.5.1 0 .2-3.6.1 18.2.2-20.4.2 42.7.1-36.9.2-9.7.1 29.4.2-12.5.1-4.7.2 12.3.2-11.8.1 12.5.2-6.6.1-6.5.2-2.5.1 9.4.2-6.9.2 3.5.1 14.1.2-14.1.1-9.1.2-6.8.1 15.9.2-3.5.2-3.2.1 2.8.2.2.1-2.4.2 14.2.2-4.4.1-.6.2-2.8.1-7 .2 10.2.1.2.2-10.2.2 3.3.1 3.7.2-1.5.1-6 .2 20.8.1-6.4.2 23 .2-16.3.1-6.2.2-8.1.1 4.1.2 27.1.1-23 .2-8.5.2 14.1.1.2.2-13.3.1 3.5.2 3.9.2-14.2.1 3 .2 17.2.1-22.9.2 9.4.1 13.5.2-16.6.2 1.7.1 21.7.2-26.7.1 19.7.2-10.4.1 16.5.2-31.6.2 12.2.1-4.1.2-3.2.1 15 .2 23.5.1-17.2.2-11.9.2 1 .1-6.5.2 17.3.1-16.9.2-6.1.1 2.7.2.1.2 8.8.1-10.2.2-3.8.1 12.1.2-3.7.2-8.8.1 19 .2-15.9.1 2.3.2 9.8.1-17.7.2 10.4.2.3.1 7.5.2-18.1.1 2.4.2 8.6.1.3.2-17.5.2 12.1.1 38.7.2-45.8.1-3.5.2 18.5.1 20.1.2-20.3.2-2.9.1-8.9.2 9.3.1 10.5.2-19.6.2 8.5.1-5.7.2-.2.1 2 .2-15.4.1 19.5.2-.1.2-2.7.1-4.7.2 14.7.1 4.7.2-11.6.1-10.8.2.1.2 7.1.1 9.9.2-3.9.1-8.5.2 2.4.1-10 .2 10.2.2 6.4.1-11.8.2 11.7.1-5.7.2 1.7.2 4.2.1-19.4.2 27.1.1-4.5.2-7.2.1 12.5.2-16.9.2 12.1.1-3 .2 2.3.1-9.6.2-4.7.1 5.3.2 3.3.2-15.4.1 6.4.2 11.9.1-3.3.2 6 .1 17.7.2-26.9.2 9.7.1-22.5.2 19.5.1-4.7.2.3.1-2.5.2-4 .2-3.4.1 22.2.2-8.8.1-11.2.2 26 .2-23.6.1 5.9.2-5.2.1 4.7.2 3.8.1 13.1.2-13.5.2-14.5.1 3.5.2-3.6.1 23 .2-19.3.1 4.4.2-4.3.2 5.4.1 26.9.2-24.1.1.7.2-10.7.1 16.1.2-15.8.2-6.5.1 19.4.2 3.2.1-24.1.2 5.4.2 9.8.1-9.4.2-.2.1-3.1.2 11.1.1 7.7.2-14.1.2 2.9.1-11.3.2 12.2.1 57.3.2-54.1.1-3.9.2 1.9.2-4.4.1-13 .2 17 .1 4.9.2-16.8.1 24.6.2-9.8.2-3.7.1-5.7.2 36 .1-24.1.2-11.6.2 8.4.1-1.8.2 8.3.1-18.3.2 8.1.1-1.5.2-7.5.2 33.1.1.9.2-38.9.1 17.8.2-8.2.1-2.2.2 17.3.2 3.5.1-28 .2 12.3.1-7.5.2 12.5.1-11 .2 17.6.2-10.9.1-4.3.2 23.4.1-8.3.2-3.7.2-2.7.1-9.3.2 12.7.1-18.5.2 22 .1-9.1.2-1.7.2 4.6.1 14 .2-16.7.1-11.3.2 11.7.1 2.4.2 6.2.2-7.4.1 2.9.2-22.8.1 20.8.2-10.6.1 5.8.2 5.3.2-5.7.1-5.5.2 1 .1 24.6.2-5.1.1-24.3.2 41.7.2-32.3.1 7.8.2-15.2.1 5.2.2 2.2.2 2.3.1-10.7.2 13.5.1-5.6.2 7.7.1-2.8.2-16.9.2 2.9.1 8.9.2-6 .1 6.9.2-6.2.1 10.2.2 6.7.2-10.4.1 1.7.2-6.8.1 9.3.2-10.8.1 14 .2-7.8.2-1.7.1 12.5.2-25.9.1 20.3.2-2.6.2-14.6.1 14.4.2 7.8.1.8.2-15.6.1-7.8.2 23.4.2-18.8.1-5 .2 14.5.1-4.3.2-5.5.1 12.7.2-14.6.2 7.9.1 6.5.2-5.8.1 32.6.2-31.5.1 8.8.2-7.4.2-17 .1 4.7.2 3.6.1-6.3.2 9.3.2 4 .1-.2.2 2.8.1-9.7.2 3.5.1-10.4.2.8.2 2.4.1 4.9.2 4.8.1-2 .2 8.4.1-9.3.2-6.7.2 21.6.1-12.9.2-8.3.1 8.6.2-11.8.1 7.3.2-6.3.2 10.4.1-.7.2-13.7.1 14.6.2 2.7.1-9.5.2 8.2.2 1.5.1-4.7.2 4.2.1-4.3.2 11.8.2-30.3.1 20.8.2-3.7.1 2 .2 8.7.1-17 .2 10 .2 13.6.1-15.1.2-3.6.1-7.2.2 10.6.1 9.3.2-9.2.2 10.6.1-10.6.2-4.4.1 8.9.2-7.5.1-6 .2.5.2 1.7.1 1.1.2-.1.1 8 .2-4.8.2 10.9.1-3.9.2-8.7.1 12.6.2-7.1.1-4.7.2 5.1.2-8 .1 1.9.2 6.5.1-2.7.2 5.2.1-20.6.2 13 .2 5.5.1-6.3.2-4.7.1 12.2.2-11.8.1 12.2.2-10 .2 7.7.1-.2.2-11.2.1 9.4.2-1.6.2 3.5.1-12.1.2 24.6.1-9.2.2 4.4.1-15.9.2 2.1.2.1.1-7.7.2 40.4.1-44.1.2 12.4.1 17.9.2-24.6.2 24.8.1-20.6.2 8.1.1-6.8.2-13.2.1 23.1.2 3.1.2-19.8.1 6 .2.3.1-12.8.2 17.8.1 5.8.2-2.1.2-8.3.1 3.9.2-.2.1 7.3.2-15.8.2 8.8.1 4.5.2-12.4.1 3.5.2-1.8.1 4.7.2 13.9.2-3.8.1-9.9.2 4.2.1-8.8.2 1.3.1-3.5.2 5.7.2-6.9.1 10.9.2-11.7.1 11.8.2-8.2.1 8.7.2 2.3.2-19.4.1 23.6.2-20.2.1 6.3.2 3.6.2 11.1.1-14.5.2-3.2.1 10.2.2 10 .1-17.9.2 4.3.2-6.4.1-7.5.2 10.5.1-5.9.2 7.1.1 2.1.2 20.2.2-16.8.1-20.3.2 3.5.1 5.1.2 25.2.1-13 .2-7.6.2 1.9.1-7.9.2 11.8.1-9.5.2 10.2.2-16 .1 13.6.2-9 .1-1.2.2 9.6.1-3 .2-10 .2 13.2.1-6.3.2 8.4.1-3.5.2-3.4.1-2.9.2 2.7.2-4.2.1 7.9.2-3.3.1-4.6.2 9.3.1-.5.2-6.7.2-2.6.1 4.4.2-8.8.1 2 .2 3.3.2 2.7.1 7.7.2.1.1-7.3.2 7.1.1-7.8.2 9.4.2-5.1.1-6.5.2-3.2.1 10.2.2-4.5.1-2.8.2 12.7.2-7 .1-4.5.2 9.8.1-10.6.2-1.3.1 10.4.2-6 .2 9 .1-7.9.2 8.4.1-9.5.2.9.1.6.2 5.1.2-13.8.1 12.5.2-2.7.1-3.2.2-2.2.2 5.1.1-4.6.2.5.1-.2.2-7.1.1.8.2 12.6.2-4.1.1-.2.2.8.1-5.8.2 1.9.1-6.2.2 31.7.2-27.1.1.8.2 2.6.1.3.2-1.2.1.9.2-3.4.2 10.7.1-15.7.2 7 .1 13.3.2-21.6.2 17.2.1-15.6.2 1.4.1 14.8.2-13.3.1 4.3.2-1.2.2.8.1 10 .2-10.7.1-4.8.2-3 .1 16 .2-9 .2 3.1.1-2.2.2-7.8.1 15.2.2-4.2.1 1.2.2.1.2-4.9.1 4.8.2-8.5.1 3.6.2-.2.2 11 .1.2.2-10.3.1 4.4.2-8.1.1 6.8.2 9.9.2 3.5.1-19.2.2 4.5.1-7.1.2 23.6.1-21.7.2-3.3.2 12.6.1-10.7.2 14.5.1-5.3.2-4.8.1-5.6.2.5.2 4.3.1 5.7.2-1.2.1-7.7.2 6.6.1 3.9.2 15.5.2-26.5.1.7.2 7.6.1 2 .2-13 .2 17.4.1-18.5.2 21.1.1-3.7.2-12 .1-7.8.2-.1.2 18.3.1-3.7.2-1.1.1-11 .2 13.2.1-1.9.2-1 .2 3.7.1-3.6.2-7.1.1 8.3.2 1.7.1 5.6.2-11.1.2-.5.1 3.3.2-1.3.1-4.3.2 1.1.2 14.7.1-9.3.2 3.3.1-8 .2 7.8.1 3.1.2-13 .2 6.7.1-6.7.2 21.5.1-18.7.2-4.6.1-2.8.2 2.7.2 12.9.1-8.3.2 10 .1-9.5.2 6.4.1-.8.2-3.5.2-4.4.1-1.8.2 11.1.1-8.2.2-3.7.2.3.1 8.5.2-3.3.1-.6.2 4.3.1-.3.2 8.9.2-1 .1-11.7.2-2.8.1-3 .2 1.8.1-.4.2 11.8.2-13.3.1 5 .2-7.5.1 7.6.2.1.1 11.4.2-3.2.2-8.1.1 5.4.2-12.5.1 3.3.2-5.3.2 10 .1.3.2.8.1-2.9.2 9.1.1-11.7.2.6.2 7.5.1-5.2.2-7.6.1-3.4.2 19.4.1-11.3.2-7.5.2 7.5.1 2.7.2 5.9.1-6.8.2-5.9.1 2.2.2 7 .2-4.2.1-.9.2 2 .1-.5.2-1.2.1 5 .2-1.6.2-.2.1-9.8.2 9.2.1 1.8.2-3.6.2 3.4.1-6.8.2 1.6.1 3.9.2-7.3.1 8.7.2-2.2.2 16.9.1-19 .2 6.4.1-4.1.2-8.4.1 2.4.2 15.2.2-8.8.1-.4.2 9 .1-3.2.2-19.1.1 19.3.2 1 .2-11.9.1 8.7.2-13.7.1 17.2.2-18.9.2 4.8.1 4 .2 5.8.1-8.4.2 10 .1-12.6.2 7.5.2-8.8.1 4.1.2 4.7.1 5.5.2-7.3.1 4.8.2-12.9.2 4.2.1-3.8.2 8.9.1 1.5.2-11.5.1 4.4.2-6.7.2 7 .1 6.4.2-4.9.1 4.5.2 2.3.2-2.6.1-2.9.2-.5.1 16.7.2-13.3.1-3.2.2-5.5.2 2.3.1-.3.2 4.5.1 5.5.2 11.5.1-17.2.2 4.9.2-7.4.1-2.1.2 1.5.1 6 .2 7.6.1-14.4.2 3.9.2-.8.1 17.6.2-10.1.1-4.9.2-2.1.1 2.6.2-2.4.2 14.3.1-9.7.2 2.6.1-7.2.2 6.6.2-6.7.1-2 .2-9.9.1 15.8.2.7.1-5.6.2 5.5.2-5 .1-1.9.2 15.1.1-12.1.2-5.4.1 3.4.2.5.2 6.2.1-3.4.2-4.7.1 1.2.2 7.6.1-7.9.2-5 .2 6.1.1-2.1.2-1.5.1 15.7.2-12.5.2 0 .1-2.9.2-4.5.1-1.6.2 12.8.1 7.6.2-13.5.2 5 .1 3.5.2-11.8.1 5.9.2 3.8.1 4.3.2-16.2.2 22.1.1-22.3.2 5.4.1-2.2.2 8.2.1-12 .2 15.5.2-3.7.1-5.8.2 2.4.1-3.5.2 11.1.2-6.4.1-.9.2 2.8.1-3.7.2-7.8.1 7.1.2-5.4.2 9.3.1-11.1.2 14.2.1 10.5.2-11.1.1-10 .2 12 .2-9.2.1 6.8.2-7 .1-1 .2-5.7.1 5.7.2 2.4.2 11.3.1-16 .2 5.5.1-.4.2 4 .2-13.6.1 15.2.2-10 .1 2 .2 5 .1-4.1.2-2.4.2 3.7.1-3.3.2-2.2.1.2.2 5 .1 13.9.2-15.8.2-.7.1 1.8.2 5 .1-.2.2-3.9.1-6.7.2 5.4.2-3.1.1 3.7.2-3.9.1-2.2.2 5.4.1-8.5.2 9.6.2-8.9.1 7.3.2-.1.1 3.2.2-1.1.2 14.4.1-17 .2 7.2.1 3.5.2-7.5.1-7.1.2 3.4.2 4.8.1-3.9.2-8.1.1 15.1.2-1.5.1-8.9.2 9.5.2-12.4.1 1.3.2 9.4.1-9.2.2 9.2.1-.3.2-4.1.2-.3.1 0 .2 5 .1 1.4.2-4.7.2-6.9.1.9.2 6.2.1-3.7.2-3.5.1 3.7.2 5.8.2-5.5.1 1.6.2-1.6.1 5.8.2-6.2.1 8 .2-12.4.2 8.9.1-5.6.2-11 .1 14.7.2-.4.1-.1.2-2.4.2.4.1-1.2.2 4.3.1-8.3.2 10 .2-4.8.1-2.8.2 4.9.1.5.2-1.6.1 4.9.2-11.4.2 9.2.1 3.6.2-3.1.1 1.1.2 2 .1-6.3.2-2.3.2.7.1-5.5.2 5.2.1 2.5.2 5 .1-3.1.2-12.3.2 8.4.1 4.9.2-3.2.1 3 .2 3.5.1-15.1.2 7.7.2-7.5.1 0 .2 11.7.1-7.5.2 4.8.2-7 .1 5.6.2 3.4.1-14.2.2 19.4.1-1.3.2-7.7.2-.8.1-3.3.2 17 .1-14.2.2 6.9.1-2.9.2 2.5.2-6.9.1 4.9.2-8.2.1 3.6.2 5.1.1-4.5.2-2.4.2 3.5.1-4 .2-4.4.1 10.9.2-11.9.2 12.4.1-8.3.2 11.5.1-8.1.2 1.5.1 8.3.2-5 .2-17.8.1 8.4.2 2.7.1-2.1.2 3.8.1-6.6.2 3.8.2 6.3.1.6.2-8.5.1-3.9.2 15.3.1-2.9.2-5.9.2-3.7.1 4.6.2 8 .1-2.7.2 1.5.2 5.5.1-3 .2-6 .1-6.7.2 4.2.1-3.6.2 3.6.2-2.7.1 6.3.2-6.2.1 13.9.2-12.7.1 3.6.2-5 .2.5.1 3.5.2 6.1.1-10 .2 10.5.1-9.2.2 3 .2-3 .1.7.2 6.6.1-10.9.2 5.8.2-2.2.1 2.7.2-.6.1-6.4.2 3.4.1-2.6.2 9.8.2-10 .1 4.6.2 2.1.1.5.2-2.9.1.7.2-1.1.2 10.5.1-7.9.2-9.1.1.8.2 11.7.1-5.4.2-8.4.2 20 .1-12 .2-2.5.1 7.2.2-8.3.1 7.6.2-9.9.2 8 .1 1.5.2-9.2.1 3.5.2 1.6.2.7.1-6.2.2-.7.1 12.5.2-6.1.1-5.8.2 7.9.2 8.9.1-10.9.2-7.4.1 16.7.2-15 .1 2.4.2-5.8.2 10.8.1-4.4.2 5.3.1-5.8.2 2.9.1-2.5.2-1.3.2 6 .1-9.3.2 6.7.1-1.4.2 1.4.2-.6.1 1.9.2 4.5.1-7.8.2 2.2.1 4.6.2-3.2.2.6.1-9 .2 6.8.1-7 .2-1.1.1 8.4.2-3.2.2 3.4.1-2.5.2 3.5.1-5.1.2 4.3.1-2.4.2-3 .2 1.2.1 3.2.2 2.9.1-3.9.2 7.7.2-5.5.1-6.4.2 3.9.1-3.7.2 3.4.1-2.2.2 4.7.2-2.3.1 1.5.2-2.9.1-7.8.2 12.5.1-3.8.2-2 .2 4.2.1-11 .2 1.6.1 7.7.2-2.8.1 3.5.2 2 .2 2.4.1-1 .2-.8.1-8.9.2 3.4.1-.9.2-4.2.2.1.1 8.7.2-2 .1.5.2-.5.2 1.6.1 2.7.2-4.7.1-1.9.2 11 .1-12.1.2 2.9.2-4.4.1 2.4.2-2.4.1-.8.2.7.1 12 .2-16.3.2 7.7.1 1.8.2 3 .1-8.5.2 1.7.1 3.5.2-3 .2-3.5.1 2.2.2-.7.1.2.2-2.4.2 6.5.1-4.2.2 12.7.1-14.2.2 1.4.1 5.4.2-.6.2 1.1.1-4.7.2 6.1.1-4.5.2 2.5.1-5.5.2 5.1.2-9.4.1 10.2.2-4.5.1-7.2.2 13.9.1-8.3.2 7.3.2-3 .1 8 .2-13.4.1 7.2.2-5.2.2-3.8.1 6.7.2-.6.1-.1.2-7.6.1 2.1.2 1.6.2 1.2.1-2.2.2 1.3.1 2 .2-3.9.1-.5.2 5.3.2-10.8.1 10.6.2-1.8.1-3.5.2 6.1.1-.8.2 5.6.2-10.2.1 5.7.2.9.1-6.3.2-.3.1 4.3.2-4.3.2-2.3.1 2.8.2 3.8.1-4.9.2 7.1.2-2.4.1-1.5.2 1.5.1 4.6.2-4.8.1 1.2.2 4.3.2-4.7.1-1 .2 1 .1 2 .2-8.3.1 5.9.2-5 .2 1.5.1-2.8.2-1.2.1 8 .2 2.6.1-5.1.2-3.9.2 8.2.1-6.7.2 10.9.1 2.2.2-14 .2 1.1.1 4.4.2-.6.1-.3.2-1.7.1-4.1.2 9 .2-4.2.1-1.2.2 1.8.1 0 .2-8.9.1.2.2-.2.2 3.3.1 2.7.2-5 .1 3.2.2 2.9.1.3.2 4 .2-.3.1-11.6.2 3.4.1 1.2.2-4.2.2 5.1.1 5 .2-2 .1-3.7.2 0 .1 9.5.2-10.8.2 11.3.1-10.5.2.7.1-.2.2.8.1 2.5.2 2.6.2-5.2.1 1.2.2-2.3.1.9.2.2.1-.7.2.6.2-.4.1 2.8.2.4.1 1.9.2-6.9.2 4.8.1-5.3.2 7 .1.4.2-6.5.1-1.1.2 5.5.2 2.4.1-7.7.2.4.1-1.5.2 1.2.1-2.8.2 4.3.2-.2.1-5.5.2 9.1.1-1.2.2 2.5.1-1.4.2 1.1.2-5.7.1-2.5.2-.6.1 2.4.2-5.3.1 9.7.2-3.4.2-.2.1-3.1.2 7 .1-4.2.2 3.3.2-3.1.1 8.6.2-4.5.1-7.1.2 1.3.1-5.2.2 1.1.2 1 .1 4 .2-.3.1 1.9.2 1.6.1 4 .2-9.5.2 8.5.1-1.7.2 2.7.1-.5.2-3.9.1.6.2-5.2.2 4.5.1-3.1.2-.1.1 1.1.2 1.9.2 1.9.1-3.2.2-4.1.1-2.3.2 5 .1 1.4.2-.2.2-6.5.1 11.1.2-10 .1-2.7.2 3.8.1 7.4.2-7.1.2 5 .1 4.5.2-6.1.1-3 .2 5.3.1-1.1.2-4 .2 8.5.1-11.8.2 1.9.1-.4.2 4.3.2-6.1.1 7 .2-6.2.1-1.2.2 1.5.1 3.5.2 1.7.2-2.2.1 12.2.2-12.8.1-4.6.2 2.2.1 10.6.2-4.9.2 1.5.1-8.4.2 8.1.1-4.9.2.8.1-.4.2 7.4.2-4.3.1 4.5.2-8.4.1 9.4.2-6.7.1-4.1.2 4.6.2 0 .1.8.2 2.5.1-5.8.2 6 .2-4.1.1-.9.2.4.1-1.9.2 2.4.1-2.6.2 2.8.2-4.1.1 8.6.2-1.2.1-7.8.2 5.5.1-5.2.2 5.4.2-6 .1-.9.2 2.1.1 2.3.2 6.3.1-3.2.2 3.2.2-6.9.1-3.5.2 4.8.1-1.3.2 1.7.2 0 .1 2.1.2-4 .1-2 .2 3.3.1-.1.2.4.2-13.7.1-7.7.2-5.5.1-4.6.2-3.9.1-2.8.2-2.1.2-3.1.1-1.3.2-1.2.1-2.4.2-1.7.1-.7.2-1.6.2-1 .1-.4.2-1.3.1-.1.2-1.2.2.1.1-1.2.2-.7.1-1 .2.1.1-.5.2-1.7.2.9.1-.6.2-.3.1.6.2-1 .1-.9.2-.5.2.4.1-.7.2.8.1-.7.2-.6.1.3.2-.3.2.1.1-1.2.2.4.1-.2.2-.4.2.6.1-.9.2 1 .1-.6.2-.7.1 1.3.2-.3.2-.8.1-.6.2 0 .1-.1.2.7.1-.3.2-.2.2-.5.1.2.2.3.1.1.2-.7.1.2.2.4.2-.6.1.3.2-1.1.1 1.3.2-.2.1-.4.2.6.2-.1.1.1.2-.3.1-.2.2-1.3.2.4.1 1.3.2-.3.1-1 .2.8.1-.5.2.2.2-.7.1-.1.2.2.1.5.2-.1.1 0 .2.1.2.8.1-.5.2.4.1-.8.2-.2.1-.1.2.8.2-.9.1 1.1.2-.9.1.3.2 0 .2-.5.1-.1.2.8.1-.3.2 0 .1-.3.2 1.1.2-.2.1-1.8.2.8.1.3.2.1.1 0 .2.5.2-.4.1-.1.2.2.1 0 .2 0 .1-1.7.2 1 .2 1 .1-.4.2-.3.1.4.2-.6.2-.7.1 2.1.2-1.6.1.5.2.7.1-.4.2.9.2-.6.1-1.4.2 1.3.1.5.2-1.2.1-.5.2-.1.2 1.5.1-.3.2-.3.1-.4.2.8.1-.8.2-.3.2.7.1-.4.2-.5.1.9.2-.7.1.8.2-.3.2.1.1.1.2-.3.1 0 .2.2.2-.1.1-.2.2.8.1-.1.2-.4.1-.3.2.7.2-.7.1.5.2-.1.1-.4.2.3.1.2.2-.5.2.2.1.4.2.9.1-1.9.2 1 .1-.4.2-.1.2.9.1-1.1.2-.1.1.8.2-.3.2-1.1.1 1.6.2 0 .1-.5.2.1.1.4.2-.5.2.3.1-.9.2 0 .1-.3.2-.1.1 1.1.2.1.2-1 .1.2.2.1.1 1 .2-1.1.1.2.2.7.2-.6.1.4.2-.3.1 0 .2.4.2-.3.1.3.2-.5.1.2.2-1.1.1 1.4.2-.1.2.6.1-.1.2-.4.1-.5.2 1.1.1-.3.2-1.2.2-.1.1.8.2-.4.1.9.2-1.5.1.9.2-.5.2.5.1.2.2.7.1-.7.2-1.6.2 1.1.1-.1.2.4.1-.1.2-.4.1.9.2 0 .2-.6.1 0 .2.3.1-.3.2-.1.1.4.2-.1.2-.1.1.2.2-.1.1-.2.2 1 .1-.6.2-.2.2-.1.1-.2.2.6.1-.7.2 0 .1.4.2.5.2-.3.1 0 .2-.7.1.7.2-.4.2.6.1-1.1.2 1 .1-.1.2-.5.1.2.2 1.2.2-1 .1-.7.2 1.8.1-1.3.2 1 .1-.4.2.6.2-1.5.1 0 .2.1.1-1.1.2 1.7.1-.2.2-.5.2 1.2.1-.8.2.7.1-1.1.2 0 .2.3.1.6.2.6.1-.6.2-.8.1 1 .2-.6.2.2.1-.9.2 1.2.1-1.1.2 1.1.1-.3.2-.6.2.5.1.6.2-.5.1-.2.2.1.1-.5.2.2.2.2.1-.3.2.8.1-.3.2.7.2-.4.1-.2.2.5.1-.8.2-1.1.1.2.2.8.2-.3.1.8.2-.7.1.5.2-.5.1.6.2-.8.2 0 .1-.2.2.8.1.2.2-.9.1.4.2-.2.2-.4.1 1.2.2-.6.1.3.2-.1.1-.3.2-.1.2-.4.1.2.2-.4.1.7.2 1.2.2-1 .1.6.2-.6.1-.1.2.2.1-1 .2 1.3.2 0 .1-.6.2 0 .1-.2.2.4.1-.1.2-.3.2.3.1-.1.2.5.1.8.2-.9.1-.5.2.9.2-.2.1-1 .2.3.1.1.2.3.2.2.1-.3.2.9.1-.6.2-1.1.1.5.2.9.2-.8.1-.1.2.6.1-.5.2.9.1-.4.2.1.2-1 .1.8.2.1.1.1.2-.3.1-.9.2.5.2.4.1 0 .2-.7.1 1.6.2.6.2-1.3.1.2.2-.3.1-.3.2 1 .1-1.3.2.5.2.7.1-.8.2.3.1-.6.2 1.3.1-.3.2-1.8.2 1.5.1-.5.2-.4.1-.3.2.3.1.9.2-.6.2 0 .1-.4.2.2.1.8.2.2.2-1.3.1 1.4.2-.9.1-.1.2 1 .1-.5.2.3.2-1.2.1 1.2.2-.7.1.4.2-.8.1.4.2-.1.2.3.1-.7.2 1 .1-.7.2.2.1.2.2 0 .2 1 .1-1.4.2.2.1-.6.2.6.1.6.2-.8.2 1 .1-.2.2-.5.1.8.2-1.3.2.4.1.4.2.4.1-1.2.2.6.1-1.1.2 1.5.2-.3.1.3.2.2.1-.5.2 0 .1-1.2.2 1.3.2-.4.1.2.2.6.1-.3.2-1.2.1.5.2 0 .2.9.1-1.2.2.8.1.4.2-.1.2-.3.1-.2.2 0 .1-.5.2.3.1 1 .2-1 .2 1.6.1-1.4.2.2.1.3.2-1 .1.6.2 0 .2.5.1-.8.2.7.1.3.2-.5.1-.6.2.7.2-1.2.1 1.1.2-.7.1.2.2-.3.2.9.1-.7.2-.2.1 1.1.2-.1.1.5.2-.7.2.3.1-1 .2 1.4.1-.3.2.3.1-.1.2-1.1.2.8.1-.2.2-.9.1.2.2.3.1-.1.2.2.2-1.1.1.7.2.1.1-.2.2-.1.1.4.2.2.2.4.1-.7.2.6.1-1.1.2.9.2-.1.1 0 .2.8.1 0 .2-1.3.1.3.2-.1.2 1.1.1-.9.2.4.1-.7.2.5.1.1.2 0 .2-.4.1-.1.2 1.1.1-.5.2.3.1-.1.2-.7.2.4.1 1.2.2-1.4.1-.2.2-1.1.2 1.4.1-.1.2-1.4.1 1 .2.6.1-.6.2.5.2.1.1.4.2-1.6.1.7.2.5.1.5.2-.3.2 1.3.1-2.6.2 1.5.1-.7.2-.1.1-.2.2.5.2.2.1-.9.2-.2.1 1.3.2-.7.2 0 .1.5.2-.5.1 0 .2.6.1-.4.2.1.2.1.1-.4.2-.1.1-.5.2 1.9.1-.6.2-.3.2-.3.1-.4.2 1.5.1-1 .2 1.1.1-1.7.2.6.2.3.1.2.2-.2.1-.2.2 0 .2.4.1-.3.2-.7.1 0 .2.8.1.2.2-.1.2-1.2.1.1.2 1.2.1-.4.2-.5.1.5.2 0 .2.8.1-.9.2-.5.1.7.2.4.1-.8.2-.1.2.7.1.4.2-.9.1.7.2-1 .1.2.2.4.2-.2.1.7.2-.4.1.6.2-1.4.2 1.1.1-.1.2.2.1-.6.2-.7.1.5.2.2.2-.2.1-.7.2 1.2.1-.2.2 0 .1-.4.2.5.2-.2.1-.2.2-.3.1-.1.2.9.1 0 .2-.1.2-.4.1.2.2-.3.1-.1.2 1 .2-.9.1.5.2-.4.1.2.2.1.1-.4.2-.3.2.8.1-.4.2-.4.1.8.2-.6.1 0 .2 1 .2-.1.1-.3.2 0 .1-.9.2 1.2.1-1.2.2 1.1.2.3.1-.5.2.2.1-.3.2-.2.2.7.1-.4.2-.7.1.8.2-1.3.1 1 .2.4.2-1.3.1 1.4.2-.9.1-.2.2-.1.1.8.2.6"/>
<path fill="none" stroke="none" marker-start="url(#mAu)" marker-mid="url(#mAu)" marker-end="url(#mAu)" clip-path="url(#cB)" d="M97.6 396.6l.2 0 .2-21 .1 21 .2-10.1.2 14.6.2-4.5.1 17.1.2-17.1.2 0 .2-15 .1 11.2.2 13.8.2-10 .2-17.2.1 27.2.2-29.2.2 15.4.2 0 .1-3.3.2 3.3.2 0 .2 3.8.1 4.5.2-17.2.2 0 .2 2.6.1 3 .2-10.1.2 13.4.2 13.8.1-20.1.2-4.9.2 2.3.2 0 .1 2.6.2 6.3.2-6.3.2-4.9.1 7.9.2-3 .2-4.9.2 4.9.1 20.1.2-27.2.2 4.5.2 8.9.1-8.9.2 5.6.2 17.1.2-5.5.1-17.2.2 22.7.2-13.8.2 13.8.1-20.1.2 6.3.2-8.9.2 17.2.1-11.6.2 17.1.2-29.2.2 6.5.1-2.3.2 7.9.2 7.1.2-10.1.1 10.1.2 0 .2-10.1.2 6.3.1 8.3.2-8.3.2 0 .2-6.3.1-2.6.2-2.3.2 19.5.2-11.6.1-5.6.2 12.7.2 0 .2-3.8.1-11.2.2 11.2.2-6.3.2 3 .1 11.6.2 0 .2-23.7.2 9.1.1-2.6.2 8.9.2-11.2.2 7.9.1-3 .2 14.6.2-11.6.2 7.1.1-17.2.2 4.5.2-4.5.2 4.5.1 17.2.2-23.7.2 0 .2 19.2.1-15 .2 25 .2-25 .2 0 .1 7.9.2 7.1.2 10 .2-5.5.1-17.2.2 12.7.2-10.1.2 6.3.1 0 .2-11.2.2 15 .2 27.2.1-48.2.2 31 .2-22.7.2 5.6.1-12.1.2 15.4.2-13.4.2 17.2.1-3.8.2-6.3.2 14.6.2 0 .1-11.6.2 3.3.2 3.8.2-7.1.1-5.6.2 8.9.2 0 .2-3.3.2-18.7.1 8.6.2-5.5.2 18.9.2-3.3.1-3 .2 3 .2 11.6.2-14.6.1 14.6.2-27.2.2 5.5.2 13.4.1-13.4.2 2.2.2-2.2.2 34.3.1-20.9.2 3.8.2-10.1.2 27.2.1-29.8.2 0 .2-2.3.2 7.9.1-13.9.2 13.9.2 7.1.2-12.7.1 17.2.2 5.5.2-20.1.2 10.1.1-17.2.2 2.2.2 0 .2 25 .1-17.1.2 0 .2-10.1.2 0 .1-5.5.2 3.5.2 19.2.2-10.1.1 20.1.2-20.1.2 20.1.2-22.7.1-13.1.2 10.8.2 19.5.2-14.6.1-2.6.2 5.6.2 7.1.2 0 .1-12.7.2-13.1.2 4.8.2 13.9.1 0 .2 3.3.2-3.3.2-17.2.1 17.2.2 0 .2-5.6.2-8.3.1-3.3.2 9.3.2-13.5.2 2.7.1 4.8.2 17.2.2 31 .2-42.2.1 2.3.2-10 .2 15.6.2-15.6.1 3.5.2 4.2.2 7.9.2-3 .1 0 .2 14.6.2-21.7.2-15 .1 28.4.2-15.4.2 6.5.2-4.5.1-7.1.2-4.2.2 13.5.2 4.9.1-9.1.2-1.8.2-1.7.2 3.5.1 6.5.2-4.5.2 4.5.2-14.5.1 2.9.2 17.2.2-10.1.2 13.4.1-20.5.2 7.1.2-5.5.2 0 .1 12.6.2-17.1.2 14.5.2-4.5.1 0 .2 2.2.2-7.7.2 5.5.1-5.5.2 0 .2-4.5.2-1.3.1 9.3.2 12.1.2-5.6.2-13.1.1 15.1.2-2.5.2-13.1.2 13.6.1-8.2.2 5.3.2-3.7.2-4.9.1-5.6.2-.3.2 37.3.2-27.2.1 12.4.2-15.4.2 4.2.2.5.2-6.7.1 13.7.2-.9.2-17.3.2.3.1 8.1.2 7.5.2-12.5.2.5.1-1.1.2-9.2.2 6.8.2 1.6.1-4.8.2-.5.2 0 .2 18.8.1-15.7.2 12.1.2-4.3.2-6.2.1-1.6.2-4.9.2-4.5.2 2.6.1.1.2 13 .2 1.3.2-11.9.1 7.4.2.7.2 2 .2-7.8.1 8.9.2 1.9.2-5.8.2-8.8.1 8.9.2-.4.2 11 .2-7.7.1 3.9.2-19.8.2 2.7.2 23.3.1-24.9.2 4.2.2 19 .2-12.8.1-6 .2 10.6.2-9.2.2 1 .1-1.6.2 2.9.2-8.2.2 13.8.1-14.4.2 18 .2-13.2.2-2.3.1-6.2.2 6.5.2 3.5.2 5.1.1-12.8.2 9.8.2-8.1.2.2.1-2.2.2 11 .2 4.7.2-11.3.1 16.2.2-17.4.2-1.4.2 2 .1-2.2.2 11.4.2 2.1.2-10.4.1 6.2.2-7.1.2 10.1.2-7.3.1-10.1.2 13.1.2-6 .2 19.5.1-15.8.2-2.7.2-8.8.2 2.2.1 11.5.2-8.3.2-.7.2-10.6.1 9.5.2 3.8.2-1.4.2-3.7.1 3.9.2-.2.2-8.1.2 4.2.1 2.9.2 9.6.2-2.4.2 2.3.1-8.5.2 1.9.2-12.7.2 16.7.1-1.7.2-7.9.2-2.1.2 12.6.1-5.4.2-11.6.2 13.4.2-13.2.1 9.2.2-6.3.2 5.7.2 2.7.1-2.4.2-2.7.2 3.3.2-4 .1 2.5.2-4 .2-2.2.2.5.1 6.4.2-6.1.2.2.2-2.3.1 2.9.2-.3.2 2.9.2-9.6.2 8.7.1 1 .2-1.5.2-1.9.2 2.2.1.3.2-7.8.2 12.6.2-6.3.1 2.8.2-3.2.2 9.4.2-16.9.1 5.7.2 0 .2 2.8.2-3.8.1-.5.2 2.7.2-.9.2.4.1 3.4.2-4.1.2 7.5.2-8.2.1 3.6.2-8 .2 3.8.2 3 .1 2.2.2-4.3.2 5.5.2-7.8.1 1.3.2-5.3.2 9.8.2-.6.1-3.1.2-1.9.2 6.8.2-8.5.1-2.4.2.2.2-4.4.2 15.5.1-10.3.2-.4.2 6.5.2-5.9.1 2.3.2 6.4.2-7.6.2 2.7.1-1.9.2 0 .2-2.2.2 1.2.1 1.7.2 4.8.2-3.8.2 5.9.1-8.2.2.8.2 4.6.2-4 .1 1.2.2-5.1.2 1.8.2-1.1.1 7.9.2-7.1.2 2.2.2 2.1.1.3.2-2.7.2 1.2.2 10.3.1-19.2.2 6 .2-1.1.2-.9.1-1.3.2 3.2.2-1.8.2 3.2.1-1.8.2-2.7.2.6.2 9.6.1-7.8.2.4.2 4.1.2-4.4.1-3 .2 7.9.2-6.3.2 1.7.1-.3.2-2 .2 6.2.2-8.8.1 3.6.2 2.6.2-9.2.2 7.4.1-1.8.2-.9.2 1.4.2 3.1.1-6.5.2 9.4.2-5.7.2-1.5.1-.9.2 12 .2-6.1.2-5.2.1 5.8.2-4.1.2-2.4.2 6.9.1-.1.2-8.5.2.4.2 3 .1 3.2.2-1 .2-1.6.2 6.6.1-4.5.2 6.5.2-7.2.2-4.4.1 4.5.2-1.5.2-3.9.2-.5.1-.2.2 6.7.2-3 .2-6.2.2 10.5.1-3.7.2-5.8.2 2.5.2 4.9.1-4.1.2-.3.2 4.9.2-5.7.1 3.8.2-4.6.2-.9.2-2.7.1 2.6.2 6 .2-.5.2-1.1.1.9.2-1.9.2 2.4.2 3.6.1-9.1.2 3.7.2-6.4.2 7.2.1.1.2-1 .2-5.9.2 4.7.1-5.4.2 6.5.2.2.2-3.5.1 4.6.2.6.2-10 .2 4.1.1 3.6.2-3.5.2-2.9.2 5.3.1 2.8.2-3.6.2 2.9.2-3.2.1-9.3.2 10.1.2-1.9.2-1.2.1 1 .2-.5.2 3.4.2-1.1.1 3.6.2-12.6.2 6 .2 2.9.1-6.2.2 2.6.2-2.6.2 2.3.1 1.1.2-3.3.2 4.6.2 4.7.1-9.6.2 0 .2 6.2.2.9.1-4.3.2 1.1.2 5.3.2 4.3.1-13.3.2 3.5.2-3.1.2-2.1.1 6 .2-4.2.2 3.4.2 6.5.1-6.1.2-.7.2.9.2 2.5.1-2.9.2-1.5.2 4.5.2-3.8.1-3.5.2 2.9.2 2.3.2-2 .1-.8.2.9.2-6.4.2 5.6.1.8.2 2.6.2-3.9.2-6.1.1 10.9.2-10.1.2 7 .2 1.1.1-3.7.2 2.4.2 1.1.2-6.6.1-.1.2 6.8.2-3 .2 7.7.1-11.2.2.4.2 2 .2-2.6.1-.8.2 4.9.2-2.8.2 4.5.1-4.6.2 1.2.2 2.9.2-2.8.1-3.7.2 3.7.2-3.2.2 1.1.1-.3.2-2.4.2 2.8.2-2.4.1 7 .2-5.1.2 1.7.2-3.2.1 3.6.2-.8.2-3.1.2 4.6.2-1.3.1 7.8.2-4.6.2-7.7.2 1.6.1 1 .2.9.2-4.2.2 8 .1-1.8.2-.9.2-1.6.2-1.6.1 2 .2.2.2 4.5.2-7.2.1-2.9.2.6.2 6.4.2-2.5.1-2.2.2 8.6.2-3.1.2-4.6.1-3.7.2 2.4.2-1 .2 6.3.1-.3.2-1.9.2-.8.2-1.4.1 6.3.2-7.9.2-1.1.2 5.9.1-3.1.2 4.7.2-3.8.2 1.8.1-4.1.2 5 .2-1.3.2 1.6.1-.9.2-2.5.2-.8.2-4.8.1 5 .2 6.9.2-5.3.2-.8.1-5.9.2 8.8.2-7 .2 4 .1 2.1.2.2.2-5.1.2 1.9.1 3.3.2-2.4.2-5.4.2 5.9.1-6.6.2 2.1.2 2.3.2 1.1.1 4.2.2-.8.2-4.1.2-.9.1.4.2 1.9.2-3 .2 2.6.1-4.6.2 4 .2.8.2.1.1-3.5.2 4.8.2-4 .2-6 .1 8.5.2-1 .2.9.2-.6.1-.4.2 1.1.2-3.6.2 2.7.1-.1.2 4.8.2-5.7.2-1.2.1 1.7.2-1.4.2-1.4.2 1.9.1 4.3.2-8.7.2 9 .2-1.9.1-4.5.2.2.2-1.3.2 8 .1-9.4.2 8.7.2-2.2.2-5.6.1 2.1.2.2.2.5.2 2.4.1 2.8.2-4.8.2 3.5.2-2.7.1-5.9.2 0 .2 7.4.2-1.5.1 5 .2-4.8.2-.2.2.8.1-1.7.2 2.6.2-.3.2-2.8.1 2.8.2 2.1.2-2.3.2-2.2.1.5.2 4.7.2-5.4.2-1.9.1 11 .2-6.3.2 2.9.2-2 .2 6.4.1-7.4.2-5 .2-.2.2 8 .1-3.2.2-4.6.2 5.5.2-4 .1 6.8.2-1.2.2-3.1.2 2.3.1-3.5.2 2.5.2-.8.2 4 .1-2.9.2 1.9.2-.2.2-4.1.1-1 .2-1.7.2 3.4.2 5.4.1 1.2.2-3.3.2-2.2.2 0 .1.1.2-6.2.2 6.7.2 1.5.1-5.2.2 8 .2-7.3.2 1.1.1.7.2-.9.2.6.2-3.1.1 2.7.2 3.4.2-2.9.2.3.1-1 .2-1.9.2 4 .2-4.3.1 2.7.2.3.2 4.1.2-1.7.1 3.9.2-7.5.2 2.3.2-.4.1-3.6.2 8.7.2-5.6.2 2.6.1-1.8.2 2.7.2-8.2.2 4.8.1-1.1.2-3 .2 1.6.2.5.1 6.1.2-5.3.2 2.1.2.4.1-1.7.2-2.1.2 5.9.2-3.3.1-1.7.2 5.8.2 1.1.2-5.4.1-1.9.2-.9.2.7.2 2.6.1 3.3.2-7.5.2 7.7.2-3.3.1-.3.2 4.1.2 1.8.2-7.4.1 1.1.2 3.9.2-4.5.2 3.5.1-4.9.2 7.6.2-6.9.2 7.3.1-1.2.2.9.2-6.7.2 9.8.1-2.7.2-6.9.2 2.4.2-1.5.1 3.4.2-2.3.2 6 .2-3.9.1 1.7.2 2.4.2-.2.2-5.8.1 9.3.2-10 .2 7 .2-6.1.1 6.8.2-2.8.2-5.8.2 2.8.1 1.7.2-2.2.2 3 .2 2.6.1-4.3.2 4.5.2.8.2-2.6.1-4.6.2-5 .2 13.8.2-4.6.1.7.2-3.5.2 5.6.2-1 .2-.9.1-1 .2-2.1.2 11.2.2-6.1.1-6.1.2 3.8.2 3.2.2-4.6.1 6.1.2-5.5.2 3.8.2-4.5.1-2.2.2 3.4.2 5.4.2-2.6.1-6.2.2 2.8.2 2.9.2-1.9.1 2 .2 2.5.2-1.4.2-.6.1-8.6.2 7.3.2-.9.2 4.4.1-3.3.2 3 .2-4.1.2 2.8.1 5.7.2-1.8.2-3 .2-1.8.1-.7.2 2 .2 6.4.2-2.4.1-6.1.2 2.8.2.1.2 0 .1-.3.2 9.1.2-6.8.2-1.3.1 8.5.2-6.3.2-3.4.2 8.3.1 2.3.2-7.8.2 5.3.2-10.3.1 13.9.2-5.8.2-1.3.2 2.5.1.3.2-2 .2-3.1.2.2.1 6.8.2-8.3.2 7 .2.9.1-8.5.2 12 .2-3.9.2-1 .1 1.4.2-3.9.2 6.6.2-1.6.1-2.4.2 2.7.2-4.8.2 4.4.1 4.8.2.2.2-7.4.2 4.9.1-2.4.2-4.1.2 2.3.2 2 .1 3.7.2-1 .2.3.2 10.4.1-11.5.2 3.1.2 8.1.2-8 .1-4.7.2 4.4.2 1.7.2-.7.1-2.5.2 4.7.2-4.5.2 1.9.1 1.1.2 3.3.2 11.6.2-19.4.1.8.2 6.7.2-5.1.2 2.8.1 1.7.2-6 .2 10.1.2-1.4.1 3.1.2-4.2.2 4.1.2 4.1.1-5 .2-7.7.2 7.1.2 2.2.1 4.4.2-7.4.2 5.3.2-1 .1 2.3.2-1.4.2-13.3.2 16.7.1 1.9.2-9.8.2 2.1.2-3.9.1 2.4.2 8.8.2-5.6.2-3.6.2 11.8.1-2.9.2-6.6.2 0 .2 11.4.1 2.5.2-8.1.2-1.1.2 15.6.1 4 .2-15.9.2 8.4.2-16.6.1 4.9.2 8 .2 2 .2-8.1.1-1.2.2-2.3.2 14 .2-3.6.1-4.3.2 0 .2-2.9.2 8 .1 19.2.2-28.6.2 13.5.2-9.2.1 7.1.2-5.5.2-1.6.2 11.6.1-11.6.2 5.1.2-3.6.2 0 .1 0 .2 15.6.2-2.9.2-5 .1 7.9.2-5.5.2 17.1.2-17.2.1 8.9.2-13.4.2 0 .2 17.2.1-7.1.2 0 .2-3 .2 14.6.1-14.6.2 2.9.2 3.3.2 0 .1-11.2.2 25.1.2-10.1.2-7.1.1 3.3.2 8.3.2-17.1.2 12.6.1-7.1.2 7.1.2 10.1.2 7.1.1-17.2.2 10 .2-5.5.2 0 .1-4.5.2 4.5.2 5.5.2 34.3.1 0 .2-34.3.2 17.2.2 0 .1-17.2.2-10 .2 10 .2 17.2.1-10.1.2-7.1.2-22.7.2 17.2.1 22.6.2-10 .2-7.1.2 17.1.1-27.2.2 17.2.2-7.1.2 0 .1-5.6.2 12.7.2-12.7.2 5.5.1-5.5.2-14.5.2 6.2.2 0 .1 0 .2 13.8.2 17.2.2-27.2.1 4.5.2-4.5.2-7.2.2 17.2.1-5.5.2 22.7.2-10.1.2-12.6.1 12.6.2 27.2.2-39.8.2-.1.1 22.7.2-27.2.2 0 .2-3.8.1 13.9.2-10.1.2 10 .2 34.4.3 0 .2-34.4.2 0 .1-5.5.2 0 .2 22.7.2 17.1.1-34.3.2-13.8.2 8.3.2 0 .2 0 .1 12.6.2-24.3.2 17.2.2-13.9.1 13.9.2 34.3.2-59.4.2 25.1.1 7.1.2-7.1.2 17.1.2-31 .1 0 .2 21 .2-7.1.2-5.6.1 5.5.2 7.2.2 27.2.2-27.2.1 0 .2-12.7.2 5.5.2 0 .1-5.5.2 5.5.2 7.1.2 10.1.1-10.1.2 0 .2-12.6.2-4.5.1 4.5.2 0 .2-4.6.2 17.2.1-7.1.2 7.1.2-12.7.2 0 .1-11.6.2 51.5.2-27.2.2-12.7.1 5.5.2 7.2.2-7.2.2 0 .1 0 .4-5.5.2 0 .1-8.3.2 48.1.2-39.8.2 5.5.1 7.1.2 10.1.2-10.1.2-12.6.1-8.4.2 13.9.2 34.3.2-48.2.1 21 .2-12.6.2 22.6.2-42.2.1 25.1.2-10.1.2 27.2.2-22.7.1-4.5.2 4.5.2-14.5.2 2.9.1 11.6.2 5.5.2-20 .2 10 .1 17.1.2-7.1.2-20.1.2 10.1.1 0 .2 4.5.2 12.6.2-7.1.1-10 .2-10.1.4 10.1.1 4.5.2 12.6.2-7.1.2 17.1.1-22.7.2-17.1.2 8.8.2 21 .1-7.1.2 7.1.2 0 .2 0 .1-7.2.2-13.8.2 8.3.2-4.5.1 10 .2 7.1.2-17.1.2 27.2.1-22.7.2 39.8.2-39.8.2 22.7.1-34.4.2 34.4.2-10.1.2-12.6.1-4.5.2 17.1.2-17.2.2 27.2.1-17.1.2 0 .2-13.9.2 21 .1-7.1.2-10.1.2 4.5.2 39.9.1-39.9.2 22.7.2-22.7.2 22.7.1-17.2.2-13.8.2 13.8.2-20 .1 14.5.2 5.5.2-25 .2 32.1.2 0 .1-17.1.2 10 .2 7.1.2-17.1.1 44.3.2-34.3.2 0 .2 17.1.1-17.1.2 0 .2 7.1.2 27.2.1-27.2.2 0 .2 10 .2-17.1.1 7.1.2 27.2.2-39.9.2 5.5.1-10 .2-3.8.2 3.8.2 44.3.1-39.8.2 22.7.2 17.1.2-39.8.1 5.5.2 0 .2 0 .2-10 .1 4.5.2 5.5.2 0 .2 7.1.1 10 .2-27.2.2-12.6.2 8.8.1 3.8.2 10.1.2 17.1.2-10 .1-17.2.2-3.8.2 31 .2-17.2.1 0 .2-5.5.2 12.7.2-7.2.1 0 .2 17.2.2-10.1.2-12.6.1 12.6.2-20.9.2 0 .2 0 .1 31 .2-31.1.2-8.8.2 57 .1-39.8.2-11.7.2 24.3.2-7.1.1-10.1.2 27.2.2-10 .2-24.3.1 24.3.2-12.7.2 5.6.2-.1.1 17.2.2-10 .2-7.2.2-17.1.1 7.1.4-3.8.2 13.8.1 7.1.2-12.6.2 12.6.2 10.1.1 17.1.2-34.3.2 17.2.3-39.9.2 57 .2-48.2.3 0 .2-8.8.2 0 .2 2.6.1 14.5.2 5.6.2 7.1.2-17.2.1 0 .2 10 .2 7.2.2-12.7.1-4.5.2 10 .2-13.8.2 31 .1-22.7.2-8.3.2 20.9.2-12.6.1-4.5.2-15 .2 59.3.2-27.2.1-7.1.2-5.5.2 22.6.2-17.1.1 0 .2-17.2.2 17.2.2-13.9.1 3.8.2 27.2.2-10 .2-17.2.1 10.1.2 7.1.2-7.2.2 17.2.1-17.2.2 7.2.2-27.2.2 37.2.2-22.7.1 12.6.2-7.1.2-20.1.2 20.1.1-13.8.2 3.8.2 44.3.2-34.3.1 0 .2-17.2.2 24.3.2 27.2.1-48.2.2 0 .2 21 .2-7.1.1 7.1.2 27.2.2-27.2.2-17.2.1 10.1.2-20.1.2 2.9.2 17.1.1-5.5.2 22.7.2 0 .2 0 .1 0 .2 17.1.2-39.8.2 22.7.1-27.2.2 17.1.2-7.1.2 34.3.1 0 .2-27.2.2 10.1.2-42.3.1 59.4.2-44.4.2 17.2.2-24.3.1 17.2.2-10.1.2 17.2.2 10 .1-27.2.2-7.1.2 11.6.2 5.6.1-5.6.2 0 .2 0 .2 22.7.1 0 .2-10 .2-7.2.2 34.3.1-17.1.2-27.2.2 27.2.2 17.1.1-39.8.2 5.5.2-20.1.2 37.3.1-10.1.2-17.1.2 10 .2 7.1.1-7.1.2-13.9.2 21 .2-7.1.1-5.6.2 12.7.2-12.7.2 5.6.1 34.3.2-27.2.2-17.2.2 4.5.1 12.7.2 10 .2 0 .2-22.7.1 39.8.2-39.8.2 22.7.2-37.3.1 14.6.2 0 .2-4.5.2-10.1.1 20.1.2 0 .2-5.5.2-4.5.1 4.5.2 5.5.2 7.1.2-17.2.1 17.2.2 10 .2-10 .2-12.7.1 0 .2 0 .2 0 .2 0 .1-8.3.2 13.8.2-5.5.2 22.7.1-17.2.2 17.2.2-17.2.2 7.1.1-7.1.2 17.2.2-27.2.2-10.1.1 20.1.2 17.2.2-22.7.2 39.8.1-27.2.2-17.2.2 27.2.2-17.1.1-10.1.2-10 .2 37.2.2-17.1.1-5.6.2 5.6.2 17.1.2-22.7.2 0 .1 22.7.2-17.2.2-13.8.2 21 .1 10 .2-37.2.2 20 .2 0 .1 17.2.2-10.1.2-17.1.2 27.2.1-10.1.2-7.1.2 17.2.2-10.1.1 10 .2 0 .2-37.2.2 10 .1 27.2.2-37.2.2 27.2.2 27.2.1-34.3.2 0 .2 34.3.2-44.4.1 4.5.2 39.9.2-17.2.2 0 .1 0 .2-17.2.2 7.2.2-.1.1-20.9.2 8.3.2 5.5.2-10 .1 44.3.2-17.1.2-22.7.2 0 .1-11.7.2 24.3.2 27.2.2-17.2.1-22.6.2 0 .2 12.6.2 0 .1 10 .2-31 .2 21 .2 10 .1-27.2.2 44.4.2-34.4.2 7.2.1-7.2.2-5.5.2 12.7.2-12.7.1 22.7.2-22.7.2 22.7.2-17.2.1-20.1.2 6.3.2 13.8.2 0 .1 0 .2 7.1.2-7.1.2 7.1.1 0 .2-21 .2 48.2.2-44.4.1 0 .2 44.4.4-17.2.1-10 .2-7.1.2-5.6.2-4.5.1 4.5.2-4.5.2 4.5.2 12.7.1 0 .2 10 .2-34.3.3 24.2.2 10.1.2-31 .2 13.8.1-20.1.2 6.2.2 31.1.2-34.4.1 17.2.2-10 .2 27.1.2 0 .3 0 .2-10 .2-7.1.1 17.1.2-31 .2 31 .2-22.7.1-4.5.2 4.5.2 5.5.2 17.2.1-17.2.2 17.2.2-22.7.2 5.5.1 17.2.2-22.7.2 12.6.2-17.1.1 27.2.2-17.2.2 0 .2 0 .1 7.1.2 10.1.2-10.1.2-7.1.1 34.3.2-27.2.2 10 .2-10 .2-12.7.1 0 .2 39.9.2-34.3.2 17.1.1-27.2.2 27.2.2 0 .2-17.2.1 17.2.2 17.2.2-27.2.3-.1.4 0 .2 0 .1-7.1.2 7.1.2-17.1.2 44.3.1-34.3.2 7.1.2 10 .2-27.2.1 0 .2-7.1.2 17.2.2 7.1.1 10 .2 0 .2-17.1.2 17.1.1 17.2.2-17.2.2-27.2.2-3.8.1 31 .2 17.2.2-17.2.2-17.2.1-10 .2 44.3.2 0 .2-39.8.1 12.6.2-20.9.2 20.9.2-12.6.1 12.6.2-24.3.2 24.3.2 0 .1 10 .2-22.6.2 12.6.2-12.6.1 39.8.2-34.3.2 17.1.2-22.7.1 39.9.2-44.4.2 4.5.2 0 .1 0 .2 0 .2 22.7.2 0 .1-17.2.2 7.2.2-.1.2 27.2.1-17.1.2-22.7.2 12.6.2 10.1.1-10.1.2-17.1.2 0 .2 17.1.1-12.6.2-4.5.2 4.5.2-8.4.1 8.4.2 22.6.2-17.1.2 7.1.1-17.2.2 10.1.2-5.6.2 12.7.1-7.1.2-5.6.2 5.5.2 7.2.1 0 .2-7.2.2-5.5.3 0 .2 12.6.2 0 .2-7.1.1 7.1.2-29.8.2 29.8.2-7.1.1 34.3.2-44.3.2-7.2.2 17.2.1 7.1.2-7.1.2 34.3.2-17.2.1-10 .2 0 .2-7.1.2 17.1.1-17.1.2 7.1.4-7.2.1 17.2.2-10 .2 0 .2-7.2.1 34.3.2-27.2.2-17.1.2 10 .1 7.1.2 27.2.2 0 .2-34.3.1-5.5.2 12.6.2 0 .2 0 .1 0 .2-7.1.2-10.1.2 17.2.2 0 .1 10 .2 0 .2 0 .2-31 .1 8.3.2 12.7.2-7.1.2-.1.1 34.4.2-39.9.2 0 .2 0 .1 0 .2-8.3.2 13.8.2 34.3.1-34.3.2 17.2.2-27.2.2 27.2.1-27.2.2 44.3.2-44.3.2 17.1.1 0 .2-17.2.2-3.8.2 31 .1-10 .2 10 .2-22.7.2 12.7.1 27.2.2-34.3.2 0 .2 17.1.1-17.2.2 0 .2-5.5.2 0 .1-8.3.2-6.2.2 20 .2 7.1.1-24.2.2 34.3.2-17.2.2-10 .1 27.2.2-22.7.2 22.7.2-10.1.1-7.1.2 0 .2 0 .2 17.1.1-17.1.2 7.1.2-7.1.2 17.1.1 0 .2 17.2.2-27.2.2 0 .1-7.1.2 0 .2-10.1.2 27.2.3-42.2.2 11.2.2 8.3.1 12.6.2-17.1.2 17.1.2 27.2.1-34.3.2-10 .2 0 .2 27.2.1 0 .2-17.2.2 7.1.2 27.2.1-17.2.2-34.3.2 17.2.2-5.5.1 39.8.2-17.2.2-17.1.2 34.3.1-39.9.4-11.6.2 34.3.1 0 .2-17.2.2-17.1.2-7.9.1 19.5.2 39.8.2-34.3.2-5.5.1 39.8.2-39.8.2 0 .2-4.5.1 27.2.2 17.1.2-39.8.2 12.6.1 0 .2 27.2.2-51.5.2 17.2.1 17.1.2-17.1.2-5.6.2 39.9.1-17.2.2 17.2.2-34.3.2 34.3.3-17.2.2-10 .2 0 .1-7.2.2 7.2.2 10 .2 17.1.1-17.1.2-10.1.2-7.1.2 0 .1-10 .2-3.8.2 48.1.2-34.3.2 0 .1 34.3.4-17.2.2-22.6.1 39.8.2-44.4.2 27.2.2-31 .1 48.2.2-34.3.2 34.3.2-44.4.1 27.2.2-37.2.2 27.2.2 0 .1 0 .2-7.2.2-5.5.2 22.7.1-27.2.2 27.2.2-10.1.2 10.1.1-31 .2 8.3.2-4.5.2 27.2.1 0 .2-17.2.2 0 .2 7.1.1 0 .2-7.1.2-10.1.2-3.8.1 13.9.2-20.1.2-9.1.2 23.6.1 22.7.2-34.3.2 51.5.2-27.2.1 0 .2 0 .2-21 .2 31 .1-22.7.2 5.5.2 0 .2 7.1.1-17.1.2 27.2.4 0 .1-10.1.2 10.1.2 17.1.2-39.8.1-8.4.2 48.2.2-51.5.2 17.2.1-5.5.2-8.4.2 3.8.2 10.1.1-13.9.2 13.9.2-22.7.2 22.7.1-25.1.2 32.2.2 0 .2-7.2.1 7.2.2-12.7.2 12.6.2-17.1.1 4.5.2 39.8.4-17.1.1-27.2.2 27.2.2 0 .2-17.2.1 34.3.2 0 .2 0 .2-48.2.1 21 .2-21 .2 48.2.2-17.2.1-22.7.2 22.7.2 0 .2 0 .1-10 .2 0 .2 10 .2-22.7.1 5.5.2 0 .2-10 .2 4.5.1 5.5.2-10 .2 4.5.2 12.6.1-12.6.2 39.8.4-27.2.1 0 .2-12.6.2-11.7.3 11.7.2 5.5.2 17.1.2-17.1.1 0 .2 0 .2-5.6.2 5.6.1-5.6.2 39.9.2-27.2.2 27.2.1-17.2.2-27.2.2 44.4.2-27.2.1-7.2.2 17.2.2-27.2.2 10 .2-13.8.1 20.9.2 0 .2 0 .2-17.1.1 27.2.2 17.1.2-34.3.2 7.1.1-17.2.2 27.2.2-22.6.2 12.6.1-7.1.2 7.1.2-12.7.2 0 .1 12.7.2 0 .2-12.7.2 12.7.1 10 .2 0 .2 17.2.2 0 .1-39.9.2-11.6.2 17.1.2-10 .1 44.3.2-17.1.2-10.1.2 10.1.1-27.2.2 10 .2 7.1.2-12.6.1 22.6.2-27.2.2 44.4.2-17.2.1 17.2.2 0 .2-17.2.2-27.2.1 10.1.2 7.1.2 27.2.2-44.4.1 44.4.2-39.9.2 12.7.2 0 .1 10 .2-27.2.2 10 .2 0 .1 34.3.2-34.3.2 0 .3 34.3.2-34.3.2 7.1.2-7.1.1 7.1.2 10 .2 17.2.3-39.8.2 12.6.2-7.1.2 7.1.1 27.2.2-27.2.2 10 .2 0 .1-10 .2 0 .2 10 .2-22.7.1 5.5.2 34.4.2-17.2.2 0 .1 17.1.2 0 .2-27.2.2 10.1.1 17.1.2-44.3.2 17.1.2 10.1.1-10.1.2 10.1.2-17.2.2 7.1.1 0 .2 27.2.4-39.8.1 5.5.2 0 .2-5.6.2 5.6.1 7.1.2 0 .2 10 .2-31 .1 3.8.2 27.2.2-10 .2 0 .1-17.2.2-3.8.2 31 .2 0 .1-22.7.2 12.6.2 10.1.2-22.7.1 12.6.2-7.1.2-13.9.2 21 .1 0 .2 0 .2 27.2.2-27.2.1-7.1.2 7.1.2 0 .2 0 .1-7.1.2 0 .2 7.1.2-17.2.1 17.2.2 10 .2-22.7.2-8.3.2 13.8.1 34.4.2-27.2.2-.1.2-7.1.1-10 .2 17.1.2 0 .2 10.1.1 0 .2-22.7.2 5.5.2-5.5.3 12.6.2 0 .2-7.1.1 0 .2 17.1.2-10 .2-12.7.1 12.7.2-7.1.2 7.1.3-7.1.2 7.1.2 10 .2 17.2.1-27.2.2 10 .2-10 .2 27.1.1-34.3.2 0 .2 17.2.2-10.1.1-7.1.2-10 .4 44.3.1-34.3.2 34.3.5-17.2.2 0 .2-17.1.2 17.1.1 17.2.2-17.2.2-10 .2 27.2.1-34.3.2 7.1.2 0 .2 0 .1-7.2.2 0 .2 7.2.2 10 .1 17.1.2-27.2.2-20.9.2 31 .1-10.1.2 10.1.2 0 .2 0 .1-17.2.2 17.2.2-10.1.2 0 .1-7.1.2 7.1.2 10 .2 17.2.1-34.3.2-10.1.2-7.1.2 17.2.1 17.1.2-10 .2-12.7.2 0 .1 0 .2 22.7.2 17.2.2-34.4.1-5.5.2 22.7.2 0 .2 17.1.1-34.3.2 34.3.2-17.1.2-17.2.1-10 .2 27.2.2-34.4.2 17.2.1 7.1.2 0 .2 0 .2-29.8.1 17.2.2 5.5.2-10.1.2 4.5.1 39.9.2 0 .2-17.2.2-31 .1 0 .2-3.3.2 17.1.2 0 .1 0 .2 7.2.2 10 .2-27.2.1 44.3.2-34.3.2-5.5.2-8.3.1 31 .2-22.7.2 5.5.2 7.1.1-12.6.2 39.8.2-17.2.2-10 .1-21 .2 31 .2-27.2.2-7.1.1 24.3.2 0 .2-12.7.2 12.7.1-7.1.2-10.1.2 10 .2 34.4.2-17.2.1 0 .2-17.2.2 7.2.2 27.1.1-17.1.4 0 .2-22.7.1 39.8.2-17.1.2-10.1.2 0 .1 0 .2-17.1.2 4.5.2 5.5.1 17.1.2 17.2.2 0 .2-27.2.1 0 .2-7.1.2 34.3.2-17.2.1 17.2.2-17.2.2 17.2.2-17.2.1-22.7.2 39.9.2-39.9.2 12.7.1 10 .2 0 .2 17.1.2-34.3.1 17.2.2 17.1.2 0 .2 0 .1 0 .2-27.2.2-12.6.2 22.7.1-17.2.2 34.3.2-34.3.2 17.1.1-42.2.2 42.2.4-17.1.1 7.1.2-24.3.2 11.6.2 39.9.1 0 .2-34.4.2 0 .2-5.5.1 12.7.2-27.2.2 27.1.2-7.1.1 17.2.2-22.7.2 22.7.2 0 .1-22.7.2 22.7.2 0 .2 17.1.1-17.1.2-22.7.2 12.6.2-12.6.1 0 .2 22.6.2-22.6.2 5.5.1 0 .2 7.1.2 0 .2-7.1.3 17.1.2-10 .2-12.7.1 39.9.2-27.2.2 10 .2 17.1.1-17.1.2 0 .2-17.2.2 7.1.1 27.2.2-17.1.2-34.4.2 51.5.1-17.1.2-27.2.2 10 .2-5.5.1 5.5.2-5.5.4-19.6.1 59.4.2-34.3.2 34.3.2-17.2.1-22.7.2 5.6.2 34.3.2-17.2.1 17.2.2 0 .2 0 .2-39.9.1 12.7.2-.1.2 0 .2 10.1.1-17.2.2 34.3.2-27.2.2-7.1.1 17.2.2 17.1.2 0 .2 0 .1-27.2.2 0 .2 0 .2 10 .1-10 .2 0 .2 27.2"/>
<g fill="none" stroke="#255e91" stroke-width="1.2"><circle cx="98.2" cy="373.2" r="1.3"/><circle cx="98.2" cy="440" r="1.3"/></g>
<rect x="464.8" y="298.3" width="105.1" height="277.3" fill="rgb(146,146,146)" fill-opacity="0.35"/>
<line x1="466" y1="298.5" x2="466" y2="576" stroke="#000" stroke-width="1.7" stroke-dasharray="1.7 1.8"/>
<line x1="309.9" y1="298.5" x2="309.9" y2="576" stroke="#000" stroke-width="1.7" stroke-dasharray="1.7 1.8"/>
<path d="M92 297.5H570.6V575.5" fill="none" stroke="#333" stroke-width="1.5"/>
<g stroke="#222" stroke-width="1.4" fill="none">
<line x1="97.4" y1="593.3" x2="97.4" y2="916.6"/>
<path d="M91.4 911.1H97.4 M91.4 871.4H97.4 M91.4 831.6H97.4 M91.4 791.9H97.4 M91.4 752.2H97.4 M91.4 712.5H97.4 M91.4 672.8H97.4 M91.4 633.0H97.4 M91.4 593.3H97.4"/>
<line x1="97.4" y1="911.1" x2="570.9" y2="911.1"/>
<path d="M192.1 911.1V916.3 M286.8 911.1V916.3 M381.5 911.1V916.3 M476.2 911.1V916.3 M570.9 911.1V916.3"/>
<line x1="570.9" y1="593.3" x2="570.9" y2="916.3"/>
<path d="M570.9 911.1H576.7 M570.9 858.1H576.7 M570.9 805.2H576.7 M570.9 752.2H576.7 M570.9 699.2H576.7 M570.9 646.2H576.7 M570.9 593.3H576.7"/>
<line x1="91.4" y1="593.3" x2="570.9" y2="593.3"/>
</g>
<path fill="none" stroke="none" marker-start="url(#mBc)" marker-mid="url(#mBc)" marker-end="url(#mBc)" d="M97.4 910.9l.1 0 .2 0 .1.2.2 0 .1-.2.2 0 .1.2.2-.5.1.5.2 0 .1 0 .2-.2.1 0 .2.2.1-.2.2.2.1 0 .2 0 .1 0 .2 0 .1-.2.2.2.1-.2.2 0 .1.2.1 0 .2 0 .1 0 .2 0 .1 0 .2-.2.1.2.2 0 .1 0 .2 0 .1-.2.2.2.1-.5.2.3.1 0 .2.2.1 0 .2 0 .1 0 .2 0 .1 0 .2 0 .1 0 .2 0 .1 0 .1 0 .2 0 .1-.5.2.5.1 0 .2 0 .1-.2.2.2.1-.2.2.2.1-.2.2.2.1 0 .2 0 .1 0 .2 0 .1-.2.2 0 .1.2.2-.7.1.5.2.2.1-.2.2.2.1 0 .1-.5.2.3.1 0 .2 0 .1 0 .2.2.1-.5.2 0 .1.3.2.2.1-.2.2 0 .1 0 .2-.3.1-.2.2.2.1.5.2-.2.1.2.2-.2.1.2.2-.2.1 0 .2.2.1-.2.1-.3.2.3.1 0 .2 0 .1-.3.2.5.1 0 .2-.7.1.7.2-.7.1.7.2-.2.1 0 .2.2.1-.5.2.3.1-.3.2.5.1-.2.2.2.1-.2.2 0 .1 0 .2.2.1 0 .1-.2.2.2.1 0 .2-.2.1-.8.2 1 .1-.5.2.5.1-.5.2 0 .1.3.2.2.1-1 .2 1 .1-.2.2-.3.1 0 .2.5.1-.5.2-.2.1.7.2-.5.1 0 .2-.2.1.2.2.3.1.2.1 0 .2-.2.1-.3.2.3.1 0 .2.2.1 0 .2-.2.1 0 .2-.3.1 0 .2-.7.1 1.2.2-.7.1.2.2 0 .1 0 .2.3.1.2.2-.5.1 0 .2.5.1-1.2.2.5.1.5.1 0 .2-.3.1.3.2-.8.1.3.2.7.1 0 .2-.2.1 0 .2 0 .1-.5.2.5.1 0 .2-.3.1.3.2 0 .1-.3.2.5.1-1 .2 0 .1 1 .2-1.4.1.9.2 0 .1 0 .1.3.2.2.1-.5.2.5.1-.5.2.5.1-.5.2.5.1-1 .2.3.1.5.2 0 .1 0 .2-.3.1-.2.2.5.1.2.2-.5.1.3.2-.3.1-.2.2.5.1.2.2-1.7.1 1.5.1 0 .2-.3.1.3.2 0 .1-.5.2.2.1.3.2-.3.1-.2.2.5.1-.3.2.3.1 0 .2 0 .1 0 .2 0 .1 0 .2.2.1-.5.2 0 .1.3.2-1 .1 1.2.2-1 .1.3.1.7.2-.2.1.2.2-1.2.1.5.2.2.1-.5.2 0 .1 0 .2.5.1.5.2-.2.1 0 .2-.5.1 0 .2.2.1 0 .2.5.1 0 .2-.5.1.3.2-.5.1-.3.2 1 .1-1 .1 1 .2-1.4.1.2.2.7.1-.7.2.5.1 0 .2-.5.1.7.2.3.1 0 .2-.5.1.5.2-.8.1 1 .2-.2.1-.3.2-.2.1-.3.2.5.1.5.2-.7.1-.3.2 0 .1.8.1 0 .2 0 .1-1 .2.7.1-.2.2 0 .1.7.2-.5.1-.5.2-.2.1 1.2.2-1.2.1-.5.2.7.1.3.2-.5.1 1 .2-.3.1.3.2-.3.1.3.2-1 .1.5.2.5.1-1.2.1.7.2-.5.1.7.2 0 .1.3.2-.8.1.5.2-.2.1-.3.2.3.1.2.2-.5.1.5.2-.7.1 1 .2-.5.1-.3.2-.2.1 1 .2-.3.1-.2.2-.3.1 1 .2-.2.1 0 .1-.3.2 0 .1-.2.2 0 .1.2.2-.2.1 0 .2-.5.1 1.2.2-1.4.1.9.2.5.1-1.4.2-.3.1 1.2.2.3.1.2.2 0 .1-.2.2-.3.1-1.2.2 1.2.1-.9.2.7.1 0 .1-.5.2.7.1-.7.2.5.1-.7.2.9.1 0 .2.3.1-1.5.2 1.2.1 0 .2-.5.1-.4.2.2.1.2.2-.9.1.5.2.9.1.5.2-.5.1 0 .2 0 .1.3.2-.3.1-.2.2.5.1 0 .1-.3.2.3.1-.8.2-.9.1.2.2 1.2.1 0 .2 0 .1-.5.2.5.1.3.2.2.1-1.2.2 1 .1-.8.2.8.1-.8.2 0 .1.5.2.3.1-.5.2.2.1.5.2-1.4.1.2.1 1.2.2-1.4.1.4.2-.2.1.5.2.5.1-.3.2-1.4.1 1.7.2 0 .1.2.2-.5.1-.7.2 1 .1 0 .2-.8.1-.2.2.7.1-.7.2.7.1.3.2-.5.1-.3.2.8.1-.3.1.5.2-1.7.1.5.2.7.1-.5.2.3.1-.5.2.5.1.5.2-.8.1.3.2-.5.1 0 .2 1 .1-1 .2.7.1 0 .2 0 .1-.2.2 0 .1.5.2-1 .1.2.2-.2.1 0 .1 0 .2.2.1.3.2-.5.1.2.2-.2.1 1 .2 0 .1-.5.2 0 .1.5.2-.3.1-.2.2.5.1-1 .2-.2.1 0 .2.7.1 0 .2.7.1-.5.2-1.2.1.5.2 0 .1.7.1-.5.2.5.1-.7.2 1 .1-.3.2.3.1-.8.2 0 .1 0 .2 0 .1.5.2.3.1-.5.2-.5.1 1 .2-1.5.1 1 .2-.3.1.5.2-.2.1.5.2-1.2.1.7.2-.5.1.7.1-1.2.2 1 .1-.3.2.3.1.5.2-.8.1.8.2-1.2.1-.3.2.7.1-1.4.2 1.2.1-.2.2.2.1 1 .2-.8.1.3.2 0 .1.2.2-1.2.1 1.5.2 0 .1-.3.2-.5.1-.9.1 0 .2 1.2.1-1.7.2 1 .1.7.2-.7.1.7.2.2.1 0 .2-.5.1.3.2-1 .1 1.7.2-1 .1-.7.2.3.1 1.4.2-.2.1-1.2.2-.3.1 1 .2.2.1-1.2.2.7.1 0 .1 0 .2-.7.1.7.2.8.1-.3.2-1.7.1 2 .2-.5.1-.5.2.7.1-.7.2.2.1-.2.2 1 .1-1.5.2 1.5.1-.3.2-1.7.1.5.2.5.1.2.2-.4.1.7.2-.7.1 1.4.1-2.4.2 2.2.1-1.5.2.5.1 0 .2.7.1-.9.2.4.1-.2.2 0 .1-.2.2.9.1 0 .2-1.4.1.5.2.2.1.5.2-.3.1-.7.2 1.2.1-.5.2.8.1-1 .2.7.1-1.2.1 1 .2-.5.1-.5.2.7.1-.2.2-1 .1 1.5.2-1 .1 1.2.2-1.4.1.9.2-.9.1 1.2.2 0 .1-.7.2.4.1-1.2.2 1.2.1-.2.2.7.1-1.4.2.9.1-.2.2.7.1 0 .1-.7.2-1.5.1 1 .2.7.1 0 .2-1.7.1 2 .2-.5.1-.2.2.2.1.2.2.3.1-.7.2-.5.1.7.2 0 .1.5.2-1.2.1.5.2.7.1-.5.2.2.1-.7.2-1.4.1.7.2.7.1.7.1-1.2.2 1.5.1-1.2.2-.3.1.3.2.5.1.4.2-.2.1 0 .2-.2.1.2.2-.2.1 0 .2-.8.1 1.2.2-.2.1-1 .2-.2.1-.7.2 2.4.1-.5.2-.7.1.7.2.5.1-1 .1.3.2-1.7.1 2.1.2-.2.1-1.5.2 1 .1.5.2.5.1-.5.2-1 .1.5.2 1.5.1-.3.2-.7.1 0 .2 0 .1.2.2-.4.1-1.3.2 1.3.1-.3.2.5.1-1 .2 1 .1-.2.1.9.2-1.4.1-.5.2.2.1-.2.2.2.1 1.7.2-1.2.1.3.2.9.1-2.2.2.3.1.2.2 1.7.1-.7.2-1 .1 0 .2.5.1 1 .2-1.7.1 1.2.2-.2.1.4.2-1.2.1.3.1 0 .2.2.1-.7.2 1.4.1.3.2-.5.1-1 .2 1 .1-2.9.2 1.9.1 1.5.2-.3.1.3.2-1.2.1-1 .2 1.7.1-1.5.2 2.2.1-.5.2-1.4.1.7.2.3.1-.3.2 0 .1.7.1-2.1.2.4.1 2.2.2-1.4.1-.8.2 0 .1 1.3.2.4.1-.4.2-.3.1 0 .2 0 .1-.7.2 1.7.1-.7.2-.8.1 1.2.2-2.1.1 1.9.2-.2.1-.5.2-1 .1 1.2.2.3.1-1.3.1.8.2-1 .1 1.2.2.3.1-.5.2.7.1-.2.2-.5.1-1.2.2 2.1.1-.7.2-.2.1-1.2.2 2.6.1-2.6.2-.8.1 2.5.2-1 .1 1.7.2-1.7.1 0 .2.5.1.5.2.9.1-1.2.1-.5.2-.5.1-.2.2-.2.1.7.2.2.1.5.2-.5.1.8.2-.3.1-2.2.2 1.7.1.5.2-.5.1 1 .2-2.2.1.7.2 1.5.1-1.9.2.7.1 1.2.2-1.7.1 1 .2-.5.1 0 .1-.3.2 0 .1.8.2.2.1.5.2-.2.1-1 .2-1.5.1 2.7.2.7.1-3.6.2 2.9.1-.7.2 0 .1-.8.2.8.1.2.2-1.2.1 1.7.2-.7.1 0 .2.9.1-.7.2-1 .1 0 .1 1.5.2-1 .1.3.2-1 .1 1 .2-1.2.1-.8.2 2.2.1-.2.2.5.1-.5.2.5.1-2 .2 1.7.1.7.2-1.9.1 1.5.2-2.7.1 1.7.2 0 .1-.7.2 1.4.1.3.2-1.7.1.4.1.8.2-1.5.1 0 .2 1 .1 1.2.2-1.5.1.5.2-.2.1-.3.2.5.1-1.2.2 0 .1 1.2.2-.9.1 1.7.2-.3.1-.2.2-1 .1 0 .2.7.1-2.6.2 1.9.1 1.2.2-1.7.1 2.2.1-.2.2-1.3.1.3.2.2.1.3.2.5.1-.8.2 0 .1 0 .2.3.1.2.2-.2.1-.3.2-.9.1-.3.2.7.1.3.2.2.1-.7.2.5.1.2.2-.2.1 0 .2 0 .1-.3.2-.7.1 1 .1-.7.2.9.1-.5.2.5.1-1.7.2 1.7.1 0 .2 0 .1-.5.2.3.1 1 .2-1.7.1.2.2 1.5.1-.3.2-1.7.1-.5.2 2.2.1.5.2-2.4.1 1.4.2-.9.1.4.2.8.1.2.1-2.4.2 2.4.1-.7.2 0 .1 0 .2-1 .1-.5.2 2.5.1-2 .2 1 .1 1.2.2-1.9.1-.8.2 1.7.1 0 .2 0 .1 0 .2-.2.1.2.2-.2.1-.7.2-1.2.1 2.9.2-2.2.1 1.7.1-.5.2-.7.1.7.2-1 .1 3.2.2-3.2.1 1.2.2-.2.1-.5.2.7.1-.9.2.2.1-.7.2-1 .1 2.7.2-.5.1 1 .2-1.7.1.4.2.5.1-.2.2.2.1-.9.2 0 .1-.8.1 1.7.2-.7.1 1.7.2-1 .1-.9.2.4.1-.9.2 2.2.1-1.5.2-.7.1.5.2 1.9.1-2.4.2 1.4.1.3.2-.8.1-.4.2 1.9.1-.5.2-1.9.1-1.2.2 1.9.1.5.2.5.1-.3.1.5.2-.2.1-.3.2-.2.1 1.2.2-1 .1.3.2-2 .1 1.5.2-2.7.1 3.9.2-1 .1-.9.2-.8.1.8.2.9.1 0 .2-1.4.1 1.4.2-.9.1.2.2 1.5.1-.8.2-.5.1-.4.1.4.2-2.4.1 2.2.2-1 .1 1.7.2-.7.1-1 .2 3.4.1-2.6.2-1.2.1 2.4.2-.5.1 0 .2-1.9.1.4.2-1.9.1 1.9.2 1.2.1-.9.2-.3.1.3.2.7.1-2.6.2 2.1.1 1 .1-1 .2.5.1 1 .2-.8.1 0 .2-.4.1.7.2-1.5.1 2 .2-1.7.1-.3.2 1.5.1-1 .2.5.1 1.5.2-.8.1.5.2-2.6.1 1.9.2-.7.1-1.2.2-.5.1.2.2 1 .1.5.1-1 .2 2.7.1-4.1.2 2.8.1.3.2-2.4.1.5.2.2.1 1.7.2-1.5.1 1 .2-.7.1.2.2 1.7.1-2.9.2 1.2.1 1 .2-.7.1.2.2.7.1 0 .2-.5.1 1 .2-1.2.1.5.1-.5.2-1.4.1 2.1.2-1.4.1-1 .2.3.1.7.2 0 .1.7.2-1.2.1 1.2.2-.7.1-1.9.2 1.6.1 1 .2.7.1-1.9.2 1.7.1-.3.2-.2.1-1.9.2.7.1-.7.2-.5.1 2.6.1-1.4.2-1.4.1 3.1.2-1.7.1 1.4.2-.7.1 1.7.2 1 .1-3.9.2.7.1-.4.2 1.2.1-1 .2-1.9.1 3.3.2-.2.1.2.2-.9.1 1.7.2-.5.1-1.7.2.7.1-.5.2-.2.1 1.7.2-1 .1-.2.1 0 .2-.3.1-1.4.2 2.9.1-1.2.2-2.7.1 2.7.2-1 .1 1 .2.5.1-1.2.2 1.6.1-1.2.2 1 .1-.2.2.9.1-2.1.2.7.1-1 .2 1 .1-.7.2.7.1.7.2-1.9.1-.7.1 1.4.2 1.2.1-1.4.2 1.4.1-1.2.2 1.9.1-2.4.2-.7.1 1.4.2 1.5.1-1.2.2.2.1.7.2-2.6.1-.2.2.4.1-1.2.2-1.2.1 4.4.2.9.1 0 .2-2.6.1 0 .2.9.1 0 .1-.7.2 1.7.1-.2.2-1 .1-.7.2.7.1.2.2-.2.1-1.4.2 2.8.1-1.4.2 1.9.1-1.4.2.2.1-1.2.2 1 .1-2.2.2 2.2.1-.3.2.3.1-1.5.2 1.2.1 2 .2-3.2.1 1 .1.7.2 0 .1-.2.2-.5.1.7.2-.2.1-1.7.2 2.6.1-2.4.2.5.1 1.7.2-2.2.1 2 .2.2.1.2.2-2.6.1 1 .2-.5.1 2.1.2-1.4.1-1.2.2 1 .1 1.6.2-.7.1.5.1-1.2.2-.5.1.7.2-.7.1-1.9.2 2.6.1.3.2.2.1-1.2.2 1 .1-2.2.2 2.9.1-3.1.2 1.9.1.2.2-1.4.1-.2.2 1.4.1.2.2 1.5.1-.7.2-1.7.1.2.2-2.1.1 2.4.1.9.2.3.1-.5.2-2.2.1 1.7.2-.5.1-2.6.2 3.1.1.2.2.5.1-.7.2 0 .1-.5.2 1.2.1-2.4.2 1.2.1 1.2.2-.9.1-2 .2 3.2.1-.8.2.5.1-.7.2-.5.1 0 .1 2.4.2-3.6.1 1.9.2-1.6.1-.5.2 1.4.1-2.6.2 2.1.1 2.7.2-2.9.1 2.2.2-1.2.1.4.2-.9.1.5.2 1.2.1-2.2.2-.2.1 1.9.2-.5.1.5.2-1.9.1.9.2 1 .1-1.9.1.2.2 1.7.1-1.5.2 1.2.1.8.2-1.7.1.5.2-.3.1-.2.2-1 .1 1.9.2-2.4.1 2.2.2-2.6.1 1.9.2.2.1-2.1.2 2.4.1 0 .2.2.1-.5.2.7.1-1.4.2-.2.1-.5.1 1.4.2.3.1-.8.2-.2.1-.7.2 1.2.1 1.9.2-3.1.1 2.1.2-1.6.1-.3.2 1.9.1 0 .2 0 .1 0 .2-.2.1.2.2-1.4.1-.5.2-1.4.1 2.9.2 1.6.1-3.3.2 1.2.1 1.9.1-4.1.2 1.5.1 1.6.2.5.1-.5.2.5.1-.2.2-1.5.1 2.9.2-1.2.1-2.1.2.4.1-.2.2.5.1.7.2-1.4.1 1.4.2.2.1 1.2.2-2.6.1.7.2-1.2.1.7.2 1 .1-1.7.1 0 .2.5.1-2.2.2 3.2.1-.8.2-.2.1-.2.2-1.2.1 2.1.2 0 .1-1.2.2 0 .1 1.9.2-2.1.1 2.1.2-.7.1-1.4.2.9.1 1.2.2-3.1.1 2.9.2-1.4.1 1.4.2-.5.1.5.2-1.7.1 1.2.1-1.7.2 1.5.1-.7.2.9.1-1.7.2 1.5.1-1.2.2.2.1-.7.2 2.2.1-2 .2 1.5.1-.5.2.7.1 0 .2-1.2.1 1.5.2-1.7.1 2.1.2.8.1-2.2.2.2.1-.9.2 2.1.1-1.4.1-1 .2 1.2.1.3.2-.3.1 1 .2-.2.1-2.4.2 2.1.1-.2.2-.3.1.3.2-1.2.1.5.2.2.1 1.4.2-2.6.1.5.2 1.4.1 0 .2-4.3.1 4.3.2 1 .1-3.9.2.8.1 3.1.1-1.5.2-.9.1 1.7.2.2.1-1.4.2 1.2.1-3.2.2 2.7.1.2.2 0 .1.3.2-.8.1-1.4.2 1 .1.9.2-.7.1 1.9.2-.7.1 0 .2-1.4.1.7.2-1.9.1-.3.2 1.5.1-1.7.1-.3.2 1 .1.7.2.3.1.7.2-1.5.1 1.5.2-.7.1 1.4.2-1.2.1.2.2-.4.1-2 .2 2 .1-.5.2.7.1 1.4.2-2.6.1.2.2 2.7.1-2.4.2 0 .1-1.7.2 1.4.1.5.1.5.2-2.9.1 3.1.2 1 .1-1.9.2 2.1.1-2.8.2-1.5.1 2.2.2-.7.1 1.4.2-.7.1 0 .2.7.1-1.4.2-1 .1 3.1.2-2.4.1 1.5.2-.8.1-.7.2 2.2.1-2.2.2.5.1.7.1-1.2.2 2.2.1-2.9.2 1 .1.4.2-.9.1.7.2-1.2.1 3.6.2-1.4.1.9.2-.2.1-.5.2-1.4.1-1 .2 1.4.1 1 .2 1.4.1-.4.2-1.2.1-1.2.2.7.1.2.2-.9.1 2.6.1-3.6.2 2.6.1-2.4.2 1.2.1-.4.2 2.1.1-2.4.2-.2.1 2.1.2-2.4.1 3.2.2-.3.1-1.2.2.5.1-1 .2-1.9.1 1.5.2-.8.1 2 .2.2.1-1.4.2 1.2.1-.8.2.3.1 1.9.1-1.2.2 1.7.1-3.4.2.3.1.9.2.5.1-1.4.2 1.9.1-3.2.2.3.1 1.4.2 1.5.1.9.2-3.8.1 3.6.2-2.2.1-.9.2 4.1.1-3.9.2 1 .1 0 .2 0 .1-.5.2 2.2.1-3.9.1 3.1.2-2.9.1 1 .2.5.1 1.2.2-3.1.1 0 .2.2.1 3.1.2-2.6.1 1 .2.4.1-.7.2.3.1 2.4.2-3.4.1 1.9.2-.2.1.2.2-.5.1.5.2-3.1.1 2.6.2-.2.1-1.5.1 1.7.2.3.1-5.1.2 6 .1 0 .2.3.1-1.7.2 0 .1-1.5.2 1.3.1-1 .2 1.4.1-1.2.2.8.1.9.2.5.1-1.4.2 1.2.1-1.5.2 1 .1-2 .2 2.9.1-.4.2-.5.1-3.4.2 2.7.1 1.2.1-1.5.2-.5.1-.7.2 3.6.1-1.4.2-.7.1 1.4.2-3.4.1 2.9.2-.7.1-1.7.2-1.7.1 3.4.2-.7.1.5.2-2.2.1 1.9.2-.7.1 1.4.2.8.1-2.7.2 1.7.1-3.6.2 1.7.1 1.7.1.9.2-1.4.1 1.2.2.2.1-.7.2 0 .1.7.2-2.6.1.7.2-1.7.1.2.2 2.7.1 1.2.2-.5.1-2.2.2 0 .1-.7.2 1.7.1 1 .2-2 .1 4.1.2-4.8.1 2.4.2 0 .1 1 .1-1.2.2 1.2.1-1.9.2-.8.1 1 .2-1.7.1 4.1.2-.5.1-3.3.2 3.6.1-4.6.2 2.7.1 1.6.2-1.6.1.2.2-.5.1-1.4.2 1.7.1-1.3.2 2.5.1-2.9.2-1.7.1 1.9.2.2.1-.2.1-1.2.2 1.4.1 2.2.2-1.9.1 2.4.2-3.1.1-.8.2 1.5.1 1.2.2 1.4.1-2.6.2-1 .1.7.2 2.9.1-2.4.2-1.7.1 1.2.2-.9.1 1.4.2.8.1-1.5.2-.2.1.2.2.7.1.3.1-1.5.2-.7.1 2.7.2-.5.1-1.5.2 2 .1-1.3.2-1.9.1-1.9.2 5.5.1-.2.2.5.1-1.2.2 1.9.1-2.9.2-.5.1 0 .2 1.5.1 1.9.2-3.6.1 1.2.2-2.7.1 4.6.2-1.7.1.5.1 1.7.2-2.9.1-.5.2-1.2.1 1.9.2 2 .1-3.2.2 0 .1-.7.2 2.2.1 1.7.2-.7.1-1.5.2.2.1-.2.2-.5.1.3.2-.8.1-.9.2 0 .1 2.6.2 0 .1 0 .2-3.6.1 2.4.1 2.2.2-1.2.1-1 .2-.7.1-1.7.2 2.7.1 2.1.2 1.2.1-2.9.2-4.8.1 3.9.2 2.4.1-1.9.2-2.2.1.7.2 1.2.1 0 .2 0 .1-2.1.2 2.8.1-1.9.2-.5.1 4.6.2-2.9.1 0 .1-.2.2-.7.1 2.6.2-2.2.1-.4.2 1.4.1.5.2 1.4.1 2 .2-3.4.1-3.9.2 2.7.1 1.7.2-2.7.1-.2.2 1.2.1 1.9.2-3.1.1-.3.2 4.1.1-4.3.2-1.7.1 4.8.2-2.4.1 1 .1.5.2-1.2.1 3.3.2-1.7.1-3.6.2 3.4.1.7.2-1.9.1 1.4.2 1.7.1-.9.2-2.7.1-.2.2 2.1.1.8.2-.5.1 1.4.2-2.4.1-1.7.2 1.5.1 1.7.2-3.9.1 3.4.2-2.9.1 2.4.1-3.1.2 3.3.1 3.4.2-6.5.1 5.1.2-3.6.1.7.2-1.2.1-1.9.2 5.5.1-4.1.2 3.1.1-.2.2.5.1-1 .2-3.1.1 1.2.2 1.4.1-2.4.2.3.1-1 .2 3.6.1-.5.2-2.1.1-1 .1 3.1.2-1.2.1-1.7.2-1.7.1 3.9.2-1.9.1-1 .2 1.9.1-.9.2.9.1 1.7.2-.7.1 1 .2-1.7.1 1.7.2-2 .1-1.2.2 2.9.1-.5.2-.7.1 2.7.2-1.5.1-.5.2 2.9.1-4.8.2 1.5.1.4.1 1 .2-.7.1-2.4.2-.5.1 2.2.2-3.2.1 3.2.2 1.2.1-4.1.2.7.1 3.6.2-2.2.1 1.5.2-3.1.1 2.6.2 1.9.1-3.1.2-1 .1 2.4.2 0 .1 0 .2-.4.1-1 .2 0 .1 2.2.1.9.2-4.5.1.7.2.7.1 1.4.2 1.2.1-.4.2-2.2.1.2.2 0 .1 1.2.2 2.7.1-5.5.2 3.3.1-2.6.2 2.1.1-1.4.2-2.2.1 2.4.2-.7.1 3.6.2-6.5.1 1.5.2-1 .1 3.6.1.7.2-.9.1-1.5.2.3.1-1 .2 0 .1 1.9.2-.2.1-.5.2 1.2.1-.7.2 1.4.1-1.2.2-.4.1-3.7.2 3.7.1 2.8.2-2.1.1.2.2-.5.1 1.5.2-1.9.1-1.2.2 0 .1 2.1.1-1.4.2 3.3.1-2.6.2-1 .1-3.8.2 7 .1-2.2.2-1.4.1-3.2.2 2.2.1 2.6.2-4.1.1 1.5.2 1.7.1-.5.2.7.1-.2.2-.7.1-.8.2-2.1.1 8.4.2-7.7.1 3.8.2.8.1-2.4.1 3.8.2-3.8.1 2.6.2.5.1-3.1.2-1.5.1 1 .2 2.6.1 1.5.2 0 .1-3.9.2-.2.1 1.7.2.7.1-2.2.2 1.2.1.3.2-3.4.1 6 .2-.7.1-3.9.2 1.5.1-2 .2.5.1-2.1.1 2.4.2-2 .1-.2.2 0 .1 0 .2 3.4.1-.3.2-2.1.1 0 .2 1.2.1-1.7.2 1.4.1-2.6.2 5.3.1-1.7.2 1.9.1 1.7.2-6 .1 1.7.2-3.2.1 2.4.2 2 .1 3.6.2-4.1.1-1 .1-2.1.2 4.1.1-5.3.2 4.1.1-.5.2.9.1-3.3.2 3.3.1 1 .2-1.7.1-1.9.2-2.4.1-2.2.2 8.9.1-4.6.2 3.4.1 1 .2-1.5.1-3.3.2 3.1.1-1.9.2-1.2.1 3.3.2-1.2.1-.9.1-1.5.2.5.1 1.9.2-2.4.1 1 .2-.3.1 2.9.2-3.1.1 1.4.2-4.3.1 1 .2 5.3.1-.7.2-.8.1-2.4.2 1.2.1 3.2.2.9.1-2.6.2 0 .1.7.2 0 .1-1 .2-.7.1 2.2.1-1.7.2-2.9.1 1.2.2 2.4.1-1 .2 5.8.1-4.8.2-1.9.1.7.2-2.4.1 2.6.2-1.4.1 2.4.2-1.9.1-1.5.2-.9.1 5.3.2-.7.1 1.2.2-4.9.1.5.2.5.1 2.2.2-.3.1-3.6.1-2.4.2 6.8.1-2 .2 1 .1-4.3.2.9.1.7.2-1.9.1 6.3.2-3.6.1 2.6.2-8.2.1 3.6.2 5.6.1-3.4.2 1.7.1-.3.2 0 .1-3.6.2-.7.1-1.4.2 4.8.1 0 .2-.3.1.5.2 1.5.1-1.5.1-.2.2 1.9.1-4.3.2 2.1.1 0 .2-3.3.1 4.1.2-1.7.1.2.2-.2.1 2.9.2-2.2.1 3.4.2-5.6.1 3.2.2-.3.1 1.5.2-1.7.1-2.4.2 3.1.1-2.9.2 2.4.1-.7.2-3.6.1 5 .1-.7.2 1 .1-1.5.2 1 .1 1 .2-.5.1-3.1.2.7.1 4.1.2-3.9.1-.5.2-3.1.1 2.9.2.5.1-1.9.2 2.1.1 2.2.2-2.7.1-3.1.2 1 .1 3.6.2-4.1.1 4.8.2-3.4.1 2.7.1-1.9.2.2.1.7.2-.2.1-3.4.2 2.7.1-1.7.2-2.7.1-1.4.2 3.8.1-2.6.2 5.3.1 1.2.2-2.7.1-.9.2-3.4.1 6.5.2-2.4.1-1.9.2-1.7.1.9.2 6.3.1-3.4.2.3.1-.7.1 2.4.2-2 .1-1.7.2 0 .1.5.2-.2.1 5.8.2-7.5.1 1.2.2 1 .1 2.9.2-4.1.1 5.5.2-4.1.1 2.7.2-1.2.1 0 .2-1.7.1-.8.2 2 .1-2 .2-1.4.1 5.5.2-3.1.1-3.8.1 3.6.2.5.1-.5.2 0 .1-2.9.2 4.8.1-2.2.2 1.5.1-1.2.2-1 .1 3.6.2-5.8.1-.9.2.7.1 5.3.2-3.6.1-2.4.2 3.1.1 2.9.2-.5.1-2.4.2.2.1 1 .2 1.7.1-4.8.1.5.2 3.8.1-3.6.2 6.5.1-13.5.3-14.6.3-4.9.3-7.1.3-5.2.3-9.1.3-5.2.3-10.8.3-8.5.3-1.1.3-13.9.3-9.4.3-2.6.3-7.4.3-1.2.3-3.6.3-2.4.3-.8.3-1.4.3-4.1.3-1.4.3-2.5.3.6.2 1.6.3-4.9.3-5.4.3-5.2.3-2.6.3-7.4.3-7.4.3.7.3-5.3.3 8.2.3-11 .3-.4.3-5.6.3 9.2.3 1.1.3-17.7.3.2.3-3.1.3-5.1.3.1.3 3.9.3-.1.3-8.1.3-12.1.1-1.4.2 2.6.1-4.7.1 16.4.2-21.7.1 20.4.2-2.6.1-.9.2-8.9.1 2.2.2-5.7.1.8.2-1.8.1-5.8.2-3.3.1.9.2-4.5.1-15.5.2 17.8.1 13 .2-7.2.1 10.3.2 1.8.1-21.6.2 7.2.1 5.3.2-22.9.1 28.7.1-28.4.2 11.3.1-6.3.2.6.1 3.8.2-10 .1 2.1.2 1 .1-1.1.2-1 .1-12.1.2-.7.1 28.7.2-34.3.1 20.8.2 4.4.1-12 .2 7.3.1 7 .2-10.7.1-2.9.2-4.1.1-18.2.2 21.8.1-1.4.2 5.4.1-24.9.1 10.6.2 7.5.1-13 .2-1.6.1 12.4.2 11.3.1-10.8.2 11.1.1-16.3.2.8.1-5.8.2 3.9.1.2.2-4.5.1 2.3.2 13.9.1-14 .2.1.1-2.2.2 13.5.1-15.2.2 11.2.1-21.2.2 22.4.1 3.5.1-11.2.2-3.9.1 11 .2-16.1.1 23.1.2-22.8.1 19.4.2-6.7.1 13.6.2-34.4.1 15 .2-.7.1 17.2.2-5.3.1 5.8.2-17 .1-4.4.2-11.7.1 32 .2-30.4.1 17.3.2 14.3.1-8.9.2 1.3.1-8.2.1 6.4.2-5.1.1-6.8.2 14.1.1.8.2-3.3.1-20 .2 34.7.1-27.1.2 26.5.1 4.2.2-22.4.1-35 .2 27.3.1-7.8.2 14.1.1-.8.2 2.5.1.5.2 1.6.1 7.2.2-11.3.1-11.7.2 26.1.1-18.7.1-4.7.2 7.5.1 2.3.2-14.1.1 23.7.2-26.3.1 10.7.2-7.5.1 9.6.2 6.5.1-8.5.2 1.7.1 4.9.2 7.5.1-22.7.2 2 .1 6 .2-23.9.1 29.9.2 10.9.1-20.2.2 3.1.1 7.9.2-5.3.1 5.4.1 6.5.2 2.8.1-9.8.2 8.2.1-17.6.2 13.7.1-14.5.2 13.2.1-2.8.2-6.9.1 2.8.2 15 .1-2.9.2-11.8.1 7.4.2-11.7.1 3 .2 12.2.1-27.1.2 23 .1 10.1.2-13.9.1 20.5.2-7.4.1-12.3.1 9.7.2-5.6.1 9.4.2-16.2.1 9.4.2-20.3.1 15.6.2-10.5.1 15.7.2-16.5.1 14.4.2-14.9.1 23.9.2-25.1.1 11 .2-.4.1-3 .2-3.5.1 11.6.2-17.2.1 5.5.2 8.4.1 9.2.2-21.3.1 2.8.1 6.6.2 1.7.1 16.5.2-10.6.1-9.6.2 14.7.1-16.4.2-8.5.1 18.1.2-7.3.1-4 .2 6.3.1 3.2.2-.2.1-14.6.2 1.5.1 7.6.2 21.6.1-18.7.2 14.2.1-19.4.2-9 .1 10 .2 1.1.1 6.2.1-6.2.2 13.3.1-12.4.2 9.5.1-18.3.2 6.7.1 30.1.2-33.8.1 12.6.2-9.9.1 8.7.2 28.8.1-27.7.2-4.4.1 1.2.2-5.4.1 17.1.2-27.3.1 8.1.2-6.4.1 4.9.2-1.2.1 1.9.2 21.5.1-21.9.1 23.5.2-42.1.1 22.6.2-.6.1 5 .2 11.7.1-15.6.2 13.3.1-1 .2 1.8.1 4.7.2-35.6.1-1.7.2 41.9.1-23.6.2.7.1-18.9.2 31.8.1-5.2.2 9.5.1-12.6.2-4.9.1-3.4.2 24.7.1-34.6.1 10.9.2 22 .1-14.9.2-4 .1-7.8.2 1 .1 14.1.2-34.1.1 27.1.2.5.1 17 .2-10.8.1.9.2-9.8.1-.6.2-4.1.1 0 .2 15.6.1-18.6.2 26.2.1-38 .2 24.6.1 14.7.2-21.3.1 9.2.1-3.1.2-22.7.1 35.5.2 1.9.1-6 .2 2.6.1.4.2-17.3.1 5.4.2 11 .1-12.7.2-1.3.1 22.6.2 2.3.1-22.9.2 9.7.1 9.3.2-24.1.1 12 .2-10.5.1 7.5.2 16.2.1-20.6.2-3.7.1 19.4.2-18.5.1 12.4.1 21.9.2-26.6.1-16.7.2-9.8.1 13.8.2-9.1.1 20.2.2-2.4.1 7.5.2-17.5.1 4.5.2 17.4.1-2.9.2-10.2.1-.8.2-6.1.1 7.4.2-.5.1-22.1.2 1.6.1 23.1.2 2.5.1-13.2.2 16.9.1 22.1.1-26.6.2-17.3.1 13.1.2 14.2.1-20 .2 15.4.1 4.2.2-12.4.1-6.4.2 5.5.1-8.6.2 18.5.1-1.9.2-6.9.1 7.4.2 1.3.1 11 .2-28.8.1 14 .2 4.6.1 3.2.2-20.1.1 35.2.2-14.5.1-31.7.1 6.5.2 14.2.1-3.3.2-2.9.1 2.5.2-8.8.1 2.5.2 21.6.1-21.7.2 3.7.1 12.8.2 9 .1-22.5.2 4.9.1-12.4.2 14.8.1 13.9.2-3.5.1-3.4.2-10.7.1-8.7.2 7.2.1 1 .2 6.6.1-17.7.1 6.3.2-6.7.1 17.3.2-4.7.1 4 .2 3.6.1-23 .2 6.2.1-8.7.2 11.7.1.4.2 16.4.1-5.9.2 6 .1 8.4.2-32.5.1 12.4.2 11 .1-7.3.2 2.6.1-20.1.2 24.1.1-13.4.2 10.5.1 3.3.1 13.4.2-15.7.1-20 .2 26.9.1-4.4.2-6.1.1-.5.2-5.2.1 17.6.2-25.8.1 11.5.2-6.8.1 2.7.2 11.7.1-20 .2 16.2.1-22.5.2 43.3.1-22.5.2 6.4.1-4.8.2 1.5.1 8 .2-22.5.1 15.5.1 4.4.2 5.9.1-22.8.2 15 .1-16.1.2 11.6.1 3.2.2 1.7.1-19.1.2 3.4.1 1.4.2 3.7.1 14.8.2-24.2.1 2.8.2 2.3.1-11.6.2 22.5.1-1 .2-18.9.1 2.1.2 20.1.1-18.4.2-5.8.1 26.6.1-24.7.2.3.1 9 .2-2.8.1 10.1.2-5.8.1 10.6.2-6.2.1 17.1.2-23.6.1-4.7.2 13.8.1-16.4.2 30 .1-28.8.2 7.6.1 1.5.2-35.2.1 43 .2-13.1.1 16.1.2-8.8.1-18.8.2 6.1.1 26 .1 5.5.2-7.3.1-14.5.2-1.4.1 15.3.2-13.9.1 2.4.2 18.3.1-29.2.2 12.1.1-9.2.2 1.4.1 2.6.2 2 .1 21.4.2-22.8.1-15.9.2 27.5.1.8.2-4.8.1-.5.2-11.9.1 1.9.2.7.1-10.9.1 11.1.2-16.4.1 18.2.2-.2.1 4.2.2-7 .1 11.9.2-3.2.1-17.7.2-7.5.1 22.1.2-5.6.1 7.8.2-16.2.1 10.6.2 2.4.1 2.7.2 5.7.1 4.9.2-4 .1-10 .2 12.8.1 4.9.2-12.9.1 3.5.1 3.3.2-14.4.1 11.2.2-19.8.1-11.6.2.4.1 42.8.2-3.8.1-11.6.2-10.5.1 17.4.2-15 .1 3.4.2 2.2.1-1.7.2 2.2.1-3.1.2-6.1.1 19.3.2 5 .1-18.1.2-6.3.1 17.7.2-6.8.1 10.1.2-25.4.1 22.9.1-13.7.2 8 .1-26.5.2 26.7.1-12.4.2.4.1 1.4.2-2.5.1 6.7.2 5.8.1-31.6.2 42.5.1-15.3.2-13.9.1 31 .2-6.3.1-9.5.2-7.2.1-4.8.2 9 .1-11.7.2 28.2.1-33.3.2 27.6.1-5.9.1-4.2.2-8.4.1-2.7.2 7 .1-3.3.2 8.8.1-5.3.2 20.3.1-11.3.2-20.3.1 5.7.2 3.4.1-4.4.2 4.4.1-4.2.2 12.5.1-16.3.2 25.1.1-28.3.2 7.1.1 16.9.2-13.9.1 22.6.2-31.9.1 35.7.1-3.7.2-1.3.1-23.8.2 5 .1 18.4.2-20.2.1.9.2 9.6.1-18.1.2 6 .1 17.7.2-.1.1-4.1.2-15.9.1 7.7.2 14.4.1 3.2.2-23.2.1 2.5.2-5.4.1 9.9.2 18.3.1-11.1.2-27.1.1 20 .1 5 .2-16.3.1 3.7.2 23.9.1 17.8.2-25.1.1-7.7.2-13.7.1 11.4.2 32.2.1-35.3.2 5 .1-11.3.2 26.8.1 5.8.2 5.8.1-14.4.2-14.5.1 5.4.2-.8.1-11.5.2 5.6.1 30.1.2-31.6.1 12.2.1 1.1.2-2 .1-6.5.2 22 .1-35.9.2 26.2.1-4.8.2-11.9.1-21.4.2 28.1.1-7.4.2 16.6.1-19.8.2 24.9.1-14.6.2-12.6.1 4.3.2 7.1.1 7 .2 9.8.1-23 .2 6.4.1-.1.2-7.2.1.6"/>
<path fill="none" stroke="none" marker-start="url(#mR)" marker-mid="url(#mR)" marker-end="url(#mR)" d="M97.4 643l.1 12.8.2-3.2.1-5 .2 14.8.1-1 .2-5.2.1-1.4.2-1.6.1 4 .2 2.5.1-6.7.2 9.9.1-4.2.2-4.7.1 1.6.2 2.4.1.1.2-3.2.1-1.7.2 5.7.1-3.1.2.5.1-1.5.2.4.1-1.8.1 5.5.2-14.6.1 8.5.2-1.9.1 8.8.2-12.1.1 10.6.2-2.9.1-2.5.2-4.7.1.8.2 11.7.1-8.1.2 3.3.1-3 .2-1.1.1 6.4.2-.7.1-2 .2 1.8.1 1.9.2-5.3.1 3 .2-8.1.1 8.4.1-2.3.2 6 .1-5.3.2 5.1.1-4 .2 1.7.1-2.2.2-2 .1 3.9.2-2.3.1 1.7.2.9.1 1.5.2-8 .1 2.5.2-1.1.1 9.4.2-5.4.1 2.6.2 5.7.1-11.3.2 5.2.1-8.6.2 6.4.1-2.6.1 5.1.2.4.1-7.7.2 3 .1-3.2.2 9.4.1-5.6.2 2.3.1-5.6.2 7.7.1-12.6.2 12.9.1-6.2.2.4.1 3.3.2-2 .1.1.2.6.1-4.8.2 1.2.1 8.5.2-7.6.1.7.2-.4.1 1.6.1 4.3.2 3.1.1-8.8.2.2.1.7.2.5.1 3.3.2-3.2.1 1.6.2 1.1.1 2.2.2 1.3.1-5.1.2-5.4.1 4.9.2 5.8.1-4.1.2 3.2.1-4.8.2 4.4.1.2.2-2 .1-5.3.2 9.6.1-11.7.1 9.1.2-1.7.1-8.2.2 10.2.1.4.2-4.7.1-3.3.2 3.4.1.4.2-2.8.1 4.1.2-1 .1 1.2.2-.6.1 5.1.2-7.9.1 6.9.2.3.1-9.2.2 2.8.1 3.5.2-6.8.1 9.9.2-8.1.1-.1.2.8.1-.9.1 11.8.2-5.8.1-3.7.2-7.5.1 7 .2 8.2.1-10.3.2 5 .1-3 .2 5.9.1-6.7.2 4.1.1-1.3.2 4.9.1-2.6.2.6.1 1.8.2 2.6.1-2.2.2-8.3.1 2 .2.5.1-.8.2 6.4.1-6.4.1.6.2-1.4.1 2.7.2.6.1 2.4.2-1.6.1 5.1.2-7 .1 2.7.2 1 .1-5.9.2 6.5.1-3.5.2-2.2.1 4.3.2 4 .1-10.4.2 6.7.1-4.3.2 3.5.1 1.6.2 5.1.1-9.1.2-5.9.1 11.8.1-2.9.2-2.5.1 2.5.2 2.6.1-5.4.2.3.1 8.7.2-12.8.1 4.9.2 2.9.1-2.8.2 1.5.1.9.2 1.7.1 2.8.2-6.2.1-2.6.2-.7.1 3.7.2-.5.1-1.5.2-1.3.1 7.7.2-4.3.1-1.5.1-8.5.2 5.4.1 5.5.2-9.6.1 3.6.2.3.1 8.2.2-4.3.1 2.7.2-6.1.1 8.1.2-14 .1 11.2.2-2 .1-1.7.2 3.1.1.3.2-.3.1 4 .2-4.2.1-4.5.2-.1.1 4.2.2 2.1.1-1.9.1 4.2.2-6.4.1-3.4.2 4.5.1.7.2-1.3.1 3.2.2-1.7.1 1.7.2 0 .1-4.7.2 4.7.1-.7.2-4.1.1-1.8.2 1.3.1 13 .2-14.3.1 4 .2-6 .1 4.9.2 3.8.1-1.8.2 1.9.1 5.5.1-5.4.2-3 .1.5.2 4 .1 4 .2-8.4.1.7.2 2.7.1 0 .2-1.6.1 4.7.2-3.6.1-.4.2 4.7.1-8.4.2 2.5.1 2 .2 5.9.1 3.2.2-7.7.1 2.2.2-3.7.1-2.2.2 2.4.1-1.1.1-2 .2-2.1.1 3.8.2-1 .1 5.7.2-6.6.1-4.6.2 6.6.1 4.4.2-4.3.1-.8.2 17.6.1-13 .2-4.1.1 5.3.2-7 .1 1.8.2 11.1.1-13.5.2.8.1 2.2.2 2.5.1-.1.2-4.3.1 3.9.1.5.2 3.9.1 1.9.2-15 .1 6.7.2 4.8.1-4.2.2.7.1 3.5.2-1.4.1-2.9.2 2.9.1.1.2.7.1-.4.2-4.4.1 7.6.2-8.9.1.8.2 3.4.1 1.9.2-6.1.1 3.4.2.4.1-2.7.1 7.2.2-8.9.1 6.7.2.4.1-2.6.2-2.2.1-1.7.2 6.6.1-7.1.2-2.7.1 4.9.2 9.4.1-8.5.2.2.1-.1.2-1.6.1 1.7.2 7.9.1-12.7.2 4.9.1 2.8.2-6.9.1 5.2.2-1.9.1 3.3.1-4.2.2 1.1.1 2.4.2 1 .1-6.7.2 5.9.1-5.9.2 5.7.1 3.2.2-.8.1 2.2.2-12.6.1 1.8.2-.7.1 12 .2-6 .1 5.3.2-4.3.1 1.6.2-6.9.1 4.7.2.1.1-6.1.2 1.9.1 1.2.2-6.8.1 9.5.1 1.8.2-2.8.1 3.8.2-10.5.1 7.7.2-4.7.1-4.2.2 10.3.1-4.4.2 1.9.1-4.7.2 5.1.1 2.8.2-2.9.1 3.7.2-6.1.1.4.2 3.5.1-3.7.2 3.1.1-2.6.2 5 .1-4 .2 1.9.1-4.9.1 7.3.2-5.1.1 4 .2.2.1-5.6.2 14.6.1-8.3.2-5.2.1 3 .2-2.3.1.8.2 12.7.1-11.8.2-6.4.1 5.7.2 1.9.1-3.1.2 6 .1-10.4.2 5.9.1.1.2-.3.1 4.5.2-4.2.1-1.6.1 4.1.2-.4.1-4.6.2 4.8.1-9.8.2 8.3.1.8.2 2 .1-4.4.2 5.2.1-1.8.2.6.1-4 .2 1.4.1-5.1.2 12.1.1-3.1.2-11.5.1 10.6.2-4 .1-5.5.2 7.7.1 2.1.2-.2.1-4.2.1 2.2.2-1.2.1-2.9.2 5.4.1-1 .2-4.6.1 1 .2 7.2.1-7.7.2 8.7.1-7.6.2 4.9.1-1.4.2-2.1.1 2.7.2 1.1.1-9.3.2 9.7.1-3.8.2 3 .1 1.3.2-3.9.1 1 .2 3.5.1.7.1-7.6.2 3.3.1-5.6.2 5.2.1-8 .2 12.7.1.8.2-7.6.1 7.3.2-3.4.1 4 .2-5.1.1-2.5.2 4.1.1-1.6.2-3.9.1 1.9.2 4.5.1 1.4.2-2.1.1-8.2.2 4 .1 3.7.2 4 .1-11 .1 4.9.2-6 .1 7.3.2.3.1 1.1.2-2.3.1-.3.2.9.1-4.9.2-2.1.1 10.8.2-1.7.1-1.4.2-2.2.1 3.1.2-.1.1 1.5.2-5.5.1 8.2.2-7.2.1 6.8.2 4.1.1-5.9.2-3.6.1-2 .1 1.1.2 1.2.1 0 .2 1.9.1 4 .2-8 .1 2.2.2-.6.1 2.5.2-2.1.1-2.8.2 9.9.1-5.7.2 1.8.1-3.1.2-3.1.1-1.3.2 2.3.1-1.6.2 3.9.1-.5.2 2.6.1-4.2.2 6.8.1-4.9.1 6.6.2-10.3.1.9.2 5.7.1-5.3.2-3.6.1 10.6.2.1.1.3.2.5.1-10.1.2 5 .1 5.2.2-2.8.1-4.7.2 8.2.1-6.9.2 5 .1-5.5.2 6.1.1.7.2-5.5.1 6.3.2-11.3.1 6 .1 4 .2-8.1.1-3.2.2 5.3.1 2.2.2-.4.1.9.2 3.2.1.1.2-5.3.1 1.8.2-2.6.1-1 .2 11 .1-6.7.2 6.6.1-2.8.2-5.1.1 7.2.2-7 .1.2.2 1.3.1 1.8.2 2.4.1-8.4.1 7.2.2-3.4.1-3.6.2 1.8.1-2.1.2 5.2.1-2.3.2.5.1 5.3.2-7.1.1 2 .2 4.7.1-6.4.2-.8.1 6.1.2.6.1 1.8.2-7.5.1 3.5.2-6.1.1 8.1.2 4.8.1-10.6.2 2.7.1-1.9.1.8.2.5.1-.1.2 6.8.1-6.4.2.1.1.8.2 2.4.1-5.4.2 10.3.1-.3.2-2.9.1-4 .2 0 .1.7.2-1.5.1-1.9.2 6.2.1-3.8.2 2 .1 1.2.2-1.9.1 1 .2-1.4.1-1 .2 5.8.1-3.8.1 1.1.2-2.4.1 2.1.2.8.1 2.2.2-5.2.1 2.7.2-2.5.1 1.4.2 5.9.1-13 .2 4.8.1 3.6.2-1 .1-4.1.2 6.6.1 3.7.2-9.9.1 1.6.2 3.8.1 4.3.2-9 .1 1 .2 5.9.1-.7.1-8.3.2 3 .1 10.1.2-12.1.1-1 .2 4.4.1-2.3.2-3.7.1 6 .2 11.7.1-5.9.2.4.1.9.2-3.9.1-1.6.2 1.5.1 0 .2 1.1.1-4.1.2 3.2.1-.9.2 1.4.1-6.5.2 5.2.1 5.1.1-8.8.2 3 .1-7.2.2 6.2.1 2.4.2-7.6.1 10.5.2.3.1-2.9.2 6.3.1-4.1.2.3.1-7.1.2 5.8.1-2.2.2-5.9.1 6.2.2 2.7.1-.8.2-9.9.1 5.2.2-4.9.1 3.2.2 7.2.1-5.3.1 6.9.2-1.2.1-2.4.2 1.5.1-4.3.2-.7.1 1 .2-.4.1 1.6.2 3.2.1-3.8.2 5.1.1 5.6.2-1.3.1-6.9.2-3.1.1-5.2.2 6.9.1.5.2-4 .1 10.9.2-3.3.1-6.6.2-2.6.1 9.2.1-7 .2 3.9.1 1.8.2 2.6.1-4.3.2 7.3.1-6.8.2 5.1.1-4.8.2-6.9.1 11.3.2-2.9.1-4.2.2 5.9.1 3.2.2-16.1.1 4.9.2 2.7.1-.8.2.2.1-1.2.2 11.9.1-8.6.2 6.7.1-4.4.1-1.9.2-3 .1 1 .2 6.5.1-6.1.2 5.2.1-3.6.2 2.3.1-.2.2-1.4.1-3.7.2 7.5.1-7.6.2 3.8.1-2.8.2 3.1.1-3.5.2 5.1.1-1.2.2-1.7.1-1.5.2 9.4.1-5.7.2 1.2.1-6.2.1 6.2.2-5.1.1 10.6.2-2.5.1-4.7.2-2 .1-.3.2 6.5.1-2.5.2 4.9.1-4.4.2 1.3.1-4.5.2 5.7.1-3.1.2-1.4.1-3 .2 1.1.1-2.3.2 2.4.1 3.4.2-4.7.1 1 .2-.8.1-.1.1.9.2 5 .1.6.2-2.7.1 2.1.2.6.1-1.8.2 4.1.1-9.4.2 2.3.1-3.3.2-3.8.1 10.2.2 1.3.1 2.6.2-5.2.1 3.3.2-1.6.1-6.8.2 11.8.1-6.5.2-.6.1 1.8.2-7.1.1 7.2.1-6.6.2 12.5.1-6.3.2 1.2.1 3.8.2-9 .1-.5.2-1.3.1 3.2.2-2.2.1 13.7.2-9.2.1-5.2.2 8.4.1-1.1.2.3.1-10.4.2 6.2.1-.2.2 6.2.1 2.1.2-4.3.1-1.2.2 3.4.1-5.5.1 2.1.2 4.1.1-1.5.2-2.5.1-5.9.2.2.1-.1.2.5.1 2.9.2 2.6.1 1.5.2-3.8.1 3.1.2 1.9.1-1.7.2-5.2.1 17.6.2-5.5.1-6.6.2 1.9.1-.7.2-2.8.1-.9.2 1 .1-1 .1.1.2.5.1 2.8.2 3.2.1-4.2.2-5.4.1 4.8.2-7.2.1 6.5.2 1 .1 2.9.2-5.2.1 3.8.2.9.1-4 .2-1.8.1 5.6.2 5.6.1-13.3.2 7.3.1.7.2-8.4.1 2.8.2 3 .1 1.8.2-6.4.1-9.2.1 7 .2 7.7.1-6 .2 3.7.1 4.4.2-.3.1-.9.2-.4.1 6.9.2-7.7.1 3 .2-4.9.1.8.2.7.1-2.5.2 2.6.1 2.3.2-2.8.1 1.8.2 3.3.1-6.4.2 9.8.1-10.9.2 1.9.1 1.5.1 7 .2-7.2.1 6.3.2.9.1-9.1.2.4.1 2.7.2.2.1 1.7.2-1.4.1.8.2-7.2.1 5.8.2 3.9.1-7.6.2 3.8.1.3.2-2.9.1 9.9.2-6.1.1-3.4.2 6.2.1-7.2.2 3.5.1-.9.1 5.9.2-4.6.1-3.4.2 4.2.1-2.6.2 6.1.1-3.6.2 3 .1-4.8.2-5.4.1 1 .2 4 .1 1.2.2-3.5.1 5.9.2 1.9.1-5.6.2 10.1.1-13.1.2 10.1.1-4.1.2-2.2.1 2.2.2-7 .1 6.1.1-2.4.2 6 .1 1 .2 1.3.1-6.5.2 3.2.1-5.9.2 9.9.1-2.2.2-3.6.1-.2.2-2.8.1 3.1.2-1.2.1 1.8.2 3.1.1-3.9.2-4 .1 9.8.2.6.1-3.4.2.1.1-11.4.2 9.9.1-2.3.1 3.2.2-6.2.1 3.7.2-.4.1 8.4.2-1.9.1-6.2.2 2.9.1-7.1.2 8.8.1-1.1.2.7.1-3.2.2 9.3.1-14 .2 6.5.1-3.7.2 4.1.1-4.6.2 6.1.1.6.2-4.8.1-7.3.2 13.7.1-4.2.1 8.2.2-7.7.1-1.7.2 3.6.1-1.4.2-1.3.1 1.3.2 1.5.1-2.1.2.2.1-3.7.2 1.4.1 3.1.2-2.7.1 3.5.2-.8.1-3 .2-.7.1 2.3.2-5.7.1 4.6.2.4.1 2.1.2.7.1-.6.1-.5.2-2.5.1-.6.2-.1.1 2.1.2-.5.1 4.6.2.3.1-.1.2-1.8.1-1.2.2-2.2.1 2.8.2-1.9.1 4.6.2-2.7.1-.2.2-4.3.1.5.2-.1.1 7.5.2-9.6.1 10.9.2-7.2.1 9.8.1-5.7.2 5.2.1-8.6.2-3.2.1 7.3.2-3.7.1-2.3.2 3.9.1 4.4.2-.8.1-2.6.2-2.9.1-3.3.2 9.1.1.4.2-2.9.1 1.1.2-3.6.1 5 .2-5.4.1 2.9.2 2.4.1-7.4.2 5 .1-5.3.1 5 .2-2.1.1.4.2-1.5.1.8.2 6 .1 1.2.2-5.1.1 1.1.2-1.9.1-2.7.2 6.4.1.4.2-7.2.1 5.2.2-3.8.1-.7.2 1.4.1 2.9.2-.1.1 2.9.2-3.9.1 10.4.2-8.8.1.6.1 4 .2-10.6.1 8.5.2.6.1-6 .2 2.7.1-2.8.2 4.6.1-4.7.2 2 .1 2.8.2-2.1.1-2.2.2 4.6.1-1.5.2 2.5.1-1.7.2-8.1.1 3.7.2-.8.1 5 .2-3.5.1.9.2 1.5.1-4.3.2 2.6.1 6.6.1-8.2.2 9.9.1-9.1.2 2.7.1-2.6.2 1.3.1 4.1.2-5.5.1 2.4.2 1.5.1.9.2-3.6.1-2.5.2 2.5.1 0 .2 1.9.1 1.6.2 2.1.1-3.6.2-2 .1 8 .2-10 .1 13 .2-11 .1 1.7.1 2.4.2-4.9.1 4.2.2 3.3.1-4.2.2 1.6.1-2 .2-1.1.1 5.3.2-.7.1 1.9.2-10.1.1 7 .2-9.9.1 8.2.2 2.7.1-1.8.2 1.4.1 1.3.2-3.9.1 2.3.2 3.4.1-4.4.2-6.6.1-1.5.1 5.1.2 3.3.1-4.5.2 3.5.1-.4.2.9.1-5.5.2 3 .1 1.6.2-4.7.1-3.3.2 2.6.1 4.4.2-3.8.1 12.4.2-8.1.1-.1.2-1.9.1-1.1.2-2 .1-1.9.2 7.5.1 6.8.2-8.1.1 8 .1-8.4.2-3.8.1 6.5.2-7.1.1 9.5.2 2.8.1-10 .2 8.3.1-3.8.2-1.4.1.7.2 4.6.1-.3.2-1 .1 1 .2-8.9.1 8.5.2-10.4.1 5.2.2 1.5.1-3.1.2 4.6.1-.1.2-1.3.1 3.2.1 1 .2-4.7.1 4.2.2-.7.1 1 .2-2.6.1.6.2-5.3.1 4.3.2-.5.1 5.1.2-.5.1-1.1.2 3 .1-11.1.2 7.5.1-4.7.2 4.9.1 7.3.2-9.6.1-3.5.2 6.4.1-2.7.2 3.5.1-5.1.1 5.4.2-2.9.1 0 .2 1.7.1-1.3.2.2.1 3 .2-3 .1 5 .2 1.9.1-13.9.2 12 .1 2.4.2-10.5.1 2.3.2 1.7.1-2.4.2-4.5.1 8.1.2-1.8.1-2.8.2 4.8.1-3.1.2-6.2.1 5.2.1 2.7.2-1.2.1-5.1.2 14 .1-15.3.2 8.6.1 4.3.2-5.3.1-4.7.2 0 .1 6.9.2-10 .1 10 .2-1.6.1 6.5.2-7.7.1 3 .2-6.2.1 3.8.2-4.1.1 3.9.2.6.1-5.2.2 5.4.1 3.6.1-4 .2-.8.1 8.5.2-9.8.1-1.9.2 8 .1 3.9.2-9.9.1 6.6.2-4.2.1-1.6.2 7.4.1-5.2.2-4.6.1-.7.2 5.7.1 1.2.2.7.1-2.6.2-.7.1-1.8.2 1.5.1 1.7.2-4.8.1 6.3.1-3.9.2-.2.1.3.2.3.1-4.2.2 5.5.1-2.3.2 5.3.1-5 .2-2.5.1 5.3.2-2.3.1.1.2 2.8.1.6.2-.2.1 7.6.2-4.3.1-.7.2-7.8.1.9.2 5.6.1 3.5.2-8.7.1 2.5.1 4.1.2-.5.1 1.5.2-.4.1-6.7.2 2.5.1-3.9.2 5.9.1 2.5.2-4.6.1 3.5.2-.4.1-1.2.2-1.1.1 2.5.2-4.3.1 7 .2-5.4.1-.8.2 4.3.1.1.2-4.6.1.9.2 8.4.1-5.9.1-1 .2-.4.1-8.6.2 8.5.1-1.5.2 7 .1-3.3.2.7.1-4.7.2 6.1.1-7.3.2 8.3.1.3.2-4.2.1-.9.2 3.5.1-.2.2-4.9.1-5.4.2 3.4.1-.4.2 2.4.1-6.1.2 6.3.1 5.2.2-4.1.1-10.7.1 13 .2-6 .1 1.9.2 2.3.1-8.9.2 9.1.1.6.2.6.1-1.7.2.3.1 1.4.2-3 .1.1.2.2.1-3.4.2 1.6.1 4.9.2-.9.1-3.4.2-1.8.1 10.1.2-8.8.1 4.6.2.5.1-2.6.1 5.1.2-2.1.1-1.9.2 6.1.1-9.6.2 6.4.1-10.2.2 5.1.1 1.9.2.8.1-3.4.2 0 .1 6.4.2 4.8.1-9.7.2-3.2.1 13.2.2-4.6.1-3.4.2-2.5.1 6.6.2-6.2.1 1.9.2 2.1.1-.7.1-2.8.2 1.2.1-1.1.2-.4.1.6.2-1.8.1 6.9.2-5.5.1-.2.2 7 .1-2.9.2-11.2.1 3.7.2 4.5.1 2.4.2.1.1-3.4.2 1.9.1.6.2 3.2.1-11.3.2 3.6.1 3.7.2-2.1.1 4.3.1-7.1.2 3.9.1 4 .2 1.5.1-6.3.2 5.1.1-1.6.2-1.5.1 1.2.2-1.3.1-2 .2-1.3.1 6.5.2-2.3.1-5.8.2 8.8.1-.7.2 3.7.1-4.6.2 2.6.1.7.2-5.6.1-.2.2-1.7.1 10.3.1-8.5.2 9.9.1-2.4.2-.8.1-8.5.2 1.4.1-1 .2 5.7.1 2.2.2-5.9.1 1.5.2.7.1-6.2.2 6 .1 2.3.2-2.7.1-2 .2 2.7.1.3.2-7.2.1 6.8.2 6.3.1-6.9.2.3.1-2.2.1 3.6.2-.2.1.6.2-2.2.1 1.1.2-1.4.1-1.1.2 4.4.1-1.4.2 1.4.1-4.3.2 1.6.1 1.9.2-.4.1-3.1.2 4.1.1-1.5.2 1.4.1-1.5.2-1.8.1 1.5.2-.4.1 7 .2-10.8.1-.1.1 9.7.2-8.5.1 4.6.2-1.4.1 8.2.2-6.4.1-7.1.2 6.7.1-6 .2.9.1 10.5.2-11.5.1 4.6.2-1.6.1-.2.2-5.8.1 6.5.2-4 .1 2 .2 5.4.1-3.3.2 6 .1-5.9.2-5.6.1 13.2.1-4 .2-2.6.1 7.8.2-7.3.1 4.8.2-6.8.1 7.4.2-9.2.1-1.7.2 2 .1 4.5.2-4.3.1-.1.2-.8.1 4.8.2-1.4.1.6.2.7.1 4.6.2-5.1.1 0 .2-6.5.1 15.2.2-12 .1 9.2.1-9.6.2 2.7.1 1.7.2-3.2.1-1.5.2 3.8.1-.6.2 6.7.1-4.8.2.7.1-5.6.2 7.7.1-9.8.2 7.8.1 5.1.2 1.1.1-1.4.2-2 .1-3.9.2-3.7.1 7.6.2.9.1-7.7.2 5.6.1-1.7.1 1 .2-3.8.1 4.9.2-3.1.1 5.9.2-6.8.1 6.5.2-5.8.1.8.2-.8.1.4.2 6.3.1-6.8.2 2.8.1-9.9.2 8 .1 1.7.2-5 .1-4.7.2 9.3.1-.2.2-2.7.1 7.9.2-17.2.1 13.3.2-1.1.1 5.5.1 1.2.2-8.5.1 2.1.2 4.1.1-7.3.2 3.1.1-10.5.2 5.7.1 1.7.2.2.1-6.2.2 6.8.1-.3.2 4.1.1-7.1.2 6.1.1-5.3.2.4.1 4.8.2 2.2.1-3.8.2 4.1.1-.1.2-.4.1-7.2.1 3.5.2 1.8.1 3.7.2 2.1.1-8.6.2-1.3.1-2.8.2 5 .1-2 .2 12.2.1-13 .2-3.3.1 9.9.2.5.1-6.2.2 3.9.1-.6.2-2 .1 7.4.2-7.5.1 7 .2 2.7.1-4.5.2-6 .1 10.1.1-2.6.2-6.9.1 5.7.2 2.1.1-6.5.2 5.3.1 7 .2-13.2.1 3.2.2-.3.1-4.7.2 8.7.1-3.1.2 3 .1-.9.2-12.5.1.8.2 13.6.1-7.8.2 6.3.1-1 .2-3.6.1-4.5.2 5.3.1.4.1 5.6.2-4.7.1-1.9.2 4.7.1 4 .2-3.6.1 3.6.2-10 .1 6.5.2-5.7.1 4.4.2.7.1-6.3.2.4.1.1.2.4.1 6.3.2 2.5.1-5.3.2-1.6.1-2.3.2 3.7.1 4.2.2-9.3.1 8.4.1-2.3.2-1.8.1-2.7.2.7.1 4.3.2-6.3.1 6.1.2-5.1.1-.6.2 4.9.1-1.1.2-2.3.1 1 .2 1.1.1-2.6.2 2.9.1-1.5.2-.5.1 3.9.2-2.8.1 1 .2-.8.1-1.5.2.5.1 4.4.1-.8.2 1.2.1-6.1.2 3.1.1 1.9.2.7.1-3.4.2 4.6.1-3.9.2 1.4.1-4.8.2 4.4.1-5.6.2 2.5.1 4.8.2-.3.1-4.6.2-4 .1 5.6.2-1 .1 10.2.2-9.7.1-3.6.2.8.1 5.2.1-6.1.2 8.2.1-8.7.2 8.9.1-.5.2-.1.1-6.2.2.8.1 7.6.2-6.4.1 4.2.2 2.6.1-5.3.2-.8.1 1 .2 2.5.1-11.8.2 6.7.1-1.6.2.6.1 4.6.2 8.3.1-1.9.2-3.6.1-6.8.1 9.4.2.5.1-10.6.2 3.8.1-5.1.2 1 .1 4.3.2 1.1.1-1.3.2 3.3.1-6.7.2.4.1 3.1.2 3.1.1-.1.2-6.3.1 9.2.2-11.5.1 5.3.2 6.8.1-6.8.2-4.8.1 10.4.2-4.7.1 1.2.1-.6.2-3.2.1.6.2 4.3.1-5.3.2 12.7.1-9.5.2 5.1.1-.5.2-3.8.1-1.9.2.3.1 3.5.2-4 .1 5.1.2 1.4.1.6.2-6.3.1 1.9.2.2.1 7.2.2-11.7.1 6 .2 0 .1 1.9.1-.5.2 2.6.1 1.6.2-10.3.1 3.3.2 5.3.1-1.2.2-3 .1-2 .2-3.2.1 2.1.2 6.6.1-9.9.2.5.1 4 .2 1.4.1 5.7.2-3.3.1.1.2 6 .1-8.6.2 1.8.1-.1.2 5 .1-5.8.1-2.3.2-2.1.1 1.2.2 7.1.1-8.2.2 8 .1-4 .2-.9.1-8.8.2 7.5.1 4.2.2-.2.1 2.4.2-10 .1 3.2.2 0 .1.6.2.9.1-4.6.2 5.7.1.1.2 3.5.1-5.6.2 4.3.1-11.1.2 12 .1 3.3.1-2.3.2-2.9.1-2.9.2 1.1.1 2.3.2-4.9.1 3.2.2-1.3.1 3.4.2-1.5.1 1.1.2 3.7.1-13.6.2 8.4.1-3.3.2-1.8.1 7.3.2-2 .1 2.8.2-1 .1 2.1.2 1.8.1 1.1.2-5.6.1 1.6.1-4.3.2 3.7.1-3.3.2 3.5.1 4.5.2-8.7.1 2.1.2 7.2.1-9.8.2.4.1 2.7.2 1.7.1-3.8.2.4.1 6.8.2-3.2.1 2.7.2 2.6.1-4.6.2-13.5.1 10.3.2 1.8.1 5.8.2-.2.1-6.3.1.1.2-4.2.1 7.6.2-3.7.1 0 .2 3.7.1-6.2.2 4.2.1 1.7.2-1.7.1 2 .2-4.9.1 14.8.2-11.9.1 3.5.2-5.4.1-3.9.2 7.7.1-2.1.2 3.3.1-5.5.2 2.4.1-3.2.2-8.9.1 6.4.1 3.8.2 2.8.1-10.5.2 7.2.1 5 .2-3.4.1-3.2.2 2 .1 4.7.2-17.1.1 15.1.2 2.8.1-5.3.2.1.1 2.5.2-4.9.1.8.2 2 .1-2.1.2 3.8.1 2.2.2-4.1.1 4.6.2-6.7.1-.6.1 2.7.2.5.1-1.6.2 1.1.1 1 .2.5.1.5.2-4.4.1-3.7.2 8.6.1 3.8.2-6.2.1 3.3.2-11 .1 10.7.2.7.1 1.7.2-5.1.1.5.2-3.1.1 1.5.2-3.8.1 14.6.2-8.9.1-2.6.1 3.1.2 2.8.1-3.8.2 6.1.1-3.2.2 1.7.1-2.9.2-3.9.1-.5.2 7.6.1 0 .2-7.8.1-5.6.2 9 .1-4.1.2 2.4.1 12.6.2-9.2.1-4 .2-5.8.1 8.1.2-3.6.1 5.2.2 1.3.1-2.5.1.9.2.1.1.9.2-5.7.1 8.4.2-3 .1 1 .2-6.4.1 6.4.2.9.1.7.2.7.1-8.3.2 5.6.1 6.5.2-11.3.1-.2.2.5.1-1.3.2 6.1.1-3.2.2 5.8.1-11.6.2 7.8.1-8.9.1 9.3.2 1.5.1 4.3.2-2.9.1-5.7.2 1.1.1.8.2-2.4.1 1.3.2 3.9.1-3 .2 3.2.1 1 .2 1.8.1-8.8.2 5.8.1.6.2-4.2.1-2.2.2 3.5.1 3.2.2 3.9.1-6.7.2.4.1-10.1.1 12.1.2-10.3.1 7.6.2 3.1.1-4.3.2 2.3.1-2.1.2-7.5.1 13.8.2.5.1-5.2.2-8.5.1 9.3.2-2.2.1-2.9.2 2.7.1-6.5.2 5.9.1 2.6.2-3.5.1 0 .2 7.9.1-5.7.2 3.1.1-2.5.1.4.2.5.1-8.8.2 9.5.1-1.7.2 3.8.1-3.2.2-5.2.1 5.6.2-1.5.1.2.2.5.1 2.4.2-6.4.1-.2.2.7.1 6.2.2-2.2.1-2.1.2 6.3.1-1.7.2 0 .1-2.3.2-2.6.1 1.7.2-.5.1 1.6.1 4.1.2-8 .1-.4.2 7.1.1-2.6.2 3.1.1-4.8.2 2.8.1-.9.2-4.8.1 6.8.2-1 .1-4.1.2-2.8.1 6.3.2-4.6.1 3.9.2-2.6.1 2.7.2 2.1.1-3 .2 5.6.1.8.2-.3.1-2.1.1-.7.2 3.5.1-2.5.2-5.9.1 3.9.2-1.9.1-4.8.2 11.8.1-5.8.2 2.1.1-5.7.2.7.1 6.8.2-7.3.1-2.9.2 6.1.1 5.6.2-4 .1.3.2 8.2.1-9.3.2-2.7.1 9 .2-9.8.1-1.1.1-3.9.2 0 .1 4.2.2 6.3.1-5.5.2 4.5.1-5.7.2 6.9.1-4.9.2 5.6.1-7.7.2 6.3.1.8.2-.3.1-5.1.2 2 .1 5.2.2-8 .1-1.8.2 11.5.1-5.6.2 5.2.1-11.9.2.5.1 4.7.1-3.4.2 2.1.1 4.7.2.4.1-4.5.2 3.6.1 10 .2-9.4.1 2.3.2-.2.1 3.6.2-11.7.1 4.9.2-3.1.1 5.6.2-4.6.1.5.2 4.1.1-4.6.2-2.9.1 6.8.2-7.2.1 2.6.2-.2.1 4.5.1 1.1.2-1.2.1-1.5.2-6.6.1 6.2.2 1.9.1-4 .2-5.5.1 11.2.2-.4.1-5.9.2 4.5.1-1 .2-5 .1 2.1.2-2.9.1 11.6.2-4 .1 0 .2-5.7.1 4.5.2-7.8.1 4 .2 9.5.2 3.3.3 5 .3 3.5.3 1.3.3 3.7.3 4.3.3 6 .3 4.1.3 5 .3 6.1.3 3.7.3 3.9.3 4.5.3 2.9.3 4.8.1 2 .2.6.1 2.6.2 1.2.1 2.9.2 1.9.1 1.6.2 2.1.1 1.4.2 1.3.1 1.2.2.7.1 1.8.2.4.1 2.5.2.4.1 0 .2.9.1 1.2.2 1.7.1 1.5.1 1 .2 1.1.1.2.2 2.5.1 1.1.2.9.1.8.2 1.1.1.8.2 1.3.1.9.2 2.1.1-.1.2.8.1 2.2.2.6.1 1.6.2-.7.1 2.2.2 1.2.1-.3.2 1.5.1.7.2-.1.1 3.3.1-.2.2.4.1 2.1.2 1.2.1-.6.2 1.5.1 1 .2.5.1.8.2 1.1.1-1.3.2 2.1.1.2.2.9.1.2.2.8.1.9.2-.2.1 1.3.2 1 .1.5.2-.5.1 1.3.2.6.1 1.2.1 0 .2.1.1.9.2 1 .1.1.2 1.2.1-.2.2.7.1.4.2.4.1.7.2.6.1.4.2.3.1.7.2 1.5.1-.7.2.5.1.8.2 0 .1-.3.2 1.3.1.6.2.9.1.1.1 1.2.2.1.1.6.2.4.1.8.2-.2.1.3.2 1.1.1 0 .2.5.1 1.2.2-.2.1.2.2.2.1.4.2.3.1.8.2-.6.1.2.2 1.2.1.4.2-.4.1 1 .2-.7.1.9.2 1.2.1-.6.1.8.2-.5.1-.7.2 2 .1-.8.2 1.3.1.1.2.3.1.1.2.1.1.6.2.4.1-.5.2 1.8.1.8.2-1.9.1 1.4.2 0 .1.1.2 0 .1 0 .2 1 .1-.2.2.2.1.7.1 0 .2-.8.1.6.2.3.1.2.2.8.1-.8.2.4.1.1.2.3.1-.3.2.4.1.6.2-.3.1-.1.2.7.1-.2.2-1.1.1 1.7.2-.3.1.4.2.3.1-.1.2-.5.1.6.1.3.2-.2.1-.1.2 1.2.1-1.2.2.9.1.4.2-.2.1-.4.2.6.1-.3.2-.3.1.2.2.9.1-.4.2.1.1-.9.2-.3.1 1.3.2.4.1-.8.2.5.1.5.2-.2.1-.8.1 0 .2.5.1.2.2.3.1.1.2-.4.1 0 .2-.2.1 0 .2.8.1.2.2-1 .1.6.2.5.1-.6.2-.2.1.7.2.1.1-.3.2.3.1-.3.2-.1.1-1 .2 1.8.1-1 .1.5.2-.2.1-.4.2.1.1-.2.2 1.1.1 0 .2-.2.1-.1.2 0 .1-.2.2.1.1.1.2.9.1-.4.2-1 .1.1.2 1.1.1-1.1.2-.4.1 1.2.2-.8.1.3.2-.1.1.6.1-1.7.2.4.1 1 .2-.3.1.3.2-.7.1-.3.2.9.1-1.1.2 1.3.1-.7.2-.1.1.4.2.2.1-.2.2.1.1-.3.2-.8.1 1.1.2-.1.1-.2.2.3.1.2.2 1 .1-.4.1-1.3.2-.3.1 1 .2.5.1-.3.2-.2.1-.7.2 1.3.1-1.4.2 0 .1.3.2.3.1-.7.2.7.1-.8.2 1.1.1-.8.2.3.1-.6.2.3.1 1 .2-.6.1-.2.2-.1.1-.1.1 1.2.2-.7.1-.5.2.4.1-.3.2-.1.1 1.3.2-.8.1-.5.2.9.1-.1.2-.4.1-.1.2 1 .1-.8.2.6.1 0 .2-1.3.1 1.4.2-.4.1-.7.2-.3.1.4.2-.4.1-.6.1.9.2 1.6.1-.5.2-1.1.1.9.2 0 .1-.4.2.3.1-.6.2.1.1.5.2-.3.1-.2.2-.3.1.8.2-.2.1.3.2-.5.1 1 .2-.6.1-.1.2-.4.1.1.2 0 .1.1.1-.6.2.1.1.5.2.4.1-.3.2-.6.1.7.2 0 .1-.2.2.4.1 0 .2.3.1-.3.2-.5.1-.3.2 1 .1-.4.2.4.1.6.2-1.1.1.3.2-.1.1-.6.2.3.1-.2.1 1.2.2-.4.1.1.2 0 .1-.8.2.3.1.7.2-.5.1-.3.2-1.1.1 1.4.2-.3.1-.1.2.4.1-.4.2.3.1.4.2-.8.1.3.2-.2.1-.2.2.7.1-.3.2 1.1.1-.9.2.1.1-.5.1.3.2.7.1-.4.2-.7.1.2.2.3.1.7.2-.7.1-.1.2-.2.1.2.2.6.1-.2.2-.5.1-1 .2 1.7.1-1 .2-.2.1 1 .2.1.1-.3.2-.8.1.3.2.2.1-.1.1.8.2.1.1-.1.2-.3.1-.7.2 0 .1.7.2 0 .1-.5.2.5.1-.4.2-.1.1-.5.2 0 .1 1.7.2-1.4.1.7.2.5.1-1 .2.8.1-.9.2.5.1.3.2-.1.1-.8.1.1.2.7.1.3.2-.2.1-1.1.2.9.1 0 .2-.1.1-.3.2-.5.1.7.2.1.1-.4.2.3.1 0 .2.4.1-1.1.2.1.1.2.2.4.1-.1.2.5.1-.8.2.8.1-.3.1-.2.2.4.1 0 .2-.8.1.2.2.9.1-.7.2.1.1.2.2-1.6.1 1.2.2.6.1-.8.2.2.1.7.2 0 .1-.8.2 0 .1.3.2.8.1-.2.2-.5.1.4.2-.6.1.4.1-.5.2-.6.1.3.2 1.1.1-.9.2-.1.1.2.2 0 .1 0 .2-.3.1.5.2.2.1.3.2-.8.1-.3.2 1 .1-.2.2-.8.1 1.1.2.1.1-1.1.2.2.1 0 .2 1 .1-.4.1 0 .2-.3.1-.1.2 0 .1.3.2.1.1 0 .2-.5.1.3.2-.3.1.7.2-.1.1-.9.2.3.1 1 .2-1 .1-.1.2-.2.1.3.2.1.1-.6.2.7.1-.6.2 1.3.1-.2.1-1.1.2.2.1.8.2-.7.1.2.2.3.1-.1.2-1 .1.7.2.4.1-.1.2.1.1.1.2-.1.1-.2.2-.6.1.1.2.1.1.5.2-.4.1.3.2-1 .1.5.2.5.1.3.1-.5.2.5.1-.6.2 1.1.1-.5.2-.4.1.2.2-.3.1.3.2.4.1-.1.2-.7.1 0 .2 1.1.1.1.2-1.1.1.3.2-.1.1.6.2-.9.1 0 .2.7.1-.4.2.3.1-.8.1 2.4.2-2.5.1.9.2.9.1-.8.2-1.3.1 2.8.2-2.7.1.2.2.9.1.1.2-1.3.1 1.1.2.2.1-.2.2-.5.1.9.2-1 .1.8.2.1.1-.4.2 0 .1.2.2.3.1-1.2.1 1.6.2-1.6.1.3.2.7.1-.5.2.7.1-.4.2-.5.1.3.2-.6.1.7.2-.4.1.8.2-.4.1.3.2-.9.1 1.7.2-1 .1.9.2-.1.1-.7.2.7.1-.5.2-.4.1-.8.2.6.1.3.1-.1.2.4.1-.2.2.4.1-.8.2.2.1.4.2-.1.1.2.2-.2.1-.1.2.1.1-.6.2.3.1.4.2-1 .1 1.5.2-.9.1.1.2.5.1.3.2-.7.1.5.2-.2.1-1.2.1 1.1.2-.3.1-.1.2 0 .1-.8.2.9.1.6.2-.4.1-.2.2.2.1-.6.2.4.1.2.2.5.1-.8.2.5.1-.2.2.5.1-1.3.2 1.2.1-.2.2-.7.1-.4.2.6.1-.4.1 1.2.2-.6.1.5.2-.4.1-.1.2.4.1-1.3.2 1.1.1-.1.2-.4.1.7.2-.1.1-.1.2.1.1-1 .2.7.1-.3.2.3.1-.9.2.8.1.4.2-1.1.1 1.3.2-.7.1-.8.1.5.2.6.1.5.2-.3.1-1.3.2.8.1-.3.2.9.1-.6.2-.4.1 1.1.2-1.5.1.5.2.6.1-.5.2.1.1 1 .2-.2.1-.2.2-.4.1-.6.2.7.1-.4.2.5.1.1.1-.7.2.1.1 1 .2-.7.1 0 .2.7.1-.8.2.2.1-.4.2-.2.1 1.3.2-.9.1.2.2.1.1 0 .2 1.2.1-1 .2-.5.1-.8.2.9.1-.6.2 1.2.1-.5.2.5.1-.4"/>
<circle cx="97.6" cy="741.2" r="1.5" fill="none" stroke="#f00" stroke-width="1"/>
<circle cx="103.2" cy="736.7" r="1.5" fill="none" stroke="#f00" stroke-width="1"/>
<rect x="465.8" y="594.2" width="104.4" height="316.3" fill="rgb(146,146,146)" fill-opacity="0.35"/>
<line x1="463.9" y1="594.3" x2="463.9" y2="911" stroke="#000" stroke-width="1.6" stroke-dasharray="1.7 1.8"/>
<line x1="463.4" y1="901.8" x2="595" y2="901.8" stroke="#f00" stroke-width="2" stroke-dasharray="2.5 2"/>
<line x1="416.8" y1="863.8" x2="432.5" y2="879.8" stroke="#6e6e6e" stroke-width="3"/>
<path d="M438.9 886.3L429.6 883.6L436 877.4Z" fill="#6e6e6e"/>
<g font-family="Liberation Sans" font-weight="bold" fill="#000">
<text x="10.6" y="12.6" font-size="20">a</text>
<text x="5.3" y="311" font-size="20">b</text>
<text x="0.8" y="606" font-size="20">c</text>
</g>
<g font-family="Liberation Sans" font-weight="bold" fill="#333">
<text x="478.5" y="28.7" font-size="13" textLength="78" lengthAdjust="spacingAndGlyphs">Pristine glass</text>
<text x="479.4" y="319.4" font-size="13" textLength="77.8" lengthAdjust="spacingAndGlyphs">Pristine glass</text>
<text x="140.4" y="314.9" font-size="12.6" textLength="91.6" lengthAdjust="spacingAndGlyphs" fill="#111">Irradiated zone</text>
<text x="320.8" y="319.3" font-size="12.6" textLength="118.8" lengthAdjust="spacingAndGlyphs" fill="#111">Non irradiated zone</text>
<text x="479.2" y="614.7" font-size="13" textLength="77.7" lengthAdjust="spacingAndGlyphs" fill="#111">Pristine glass</text>
</g>
<g font-family="Liberation Sans" fill="#f00" font-size="14">
<text x="609.7" y="896.7" textLength="49.9" lengthAdjust="spacingAndGlyphs">Natural</text>
<text x="609.3" y="917.2" textLength="73.8" lengthAdjust="spacingAndGlyphs">abundance</text>
</g>
<g font-family="Liberation Serif" fill="#111" stroke="#111" stroke-width="0.75">
<text transform="translate(34.1,238.8) rotate(-90)" font-size="21" textLength="188" lengthAdjust="spacingAndGlyphs">Normalized intensity</text>
<text transform="translate(29.1,532.6) rotate(-90)" font-size="21" textLength="187.5" lengthAdjust="spacingAndGlyphs">Normalized intensity</text>
<text transform="translate(28.3,838.7) rotate(-90)" font-size="21" textLength="136.8" lengthAdjust="spacingAndGlyphs">O Isotopic ratio</text>
<text transform="translate(654.8,867.2) rotate(-90)" font-size="21" textLength="204" lengthAdjust="spacingAndGlyphs">B Normalized intensity</text>
<text x="298.2" y="969" font-size="16" font-weight="bold" stroke="none" textLength="79.7" lengthAdjust="spacingAndGlyphs">Depth (nm)</text>
</g>
<g font-family="Liberation Serif" font-weight="bold" fill="#111" font-size="15">
<text x="622.3" y="121.6">H-</text>
<text x="622.3" y="150.1">B-</text>
<text x="622.3" y="178.6">Na-</text>
<text x="622.3" y="207.1">Al-</text>
<text x="622.3" y="235.6">Si-</text>
<text x="623.8" y="458">B-</text>
<text x="623.2" y="486">Au</text>
</g>
<rect x="611.6" y="114.9" width="2" height="2" fill="#000"/>
<rect x="611" y="142.9" width="3.2" height="3.2" fill="#a5a5a5"/>
<rect x="611" y="171.4" width="3.2" height="3.2" fill="#ffc000"/>
<circle cx="612.6" cy="201.7" r="1.7" fill="#4472c4"/>
<rect x="611" y="228.6" width="3.2" height="3.2" fill="#70ad47"/>
<rect x="611.6" y="450.6" width="3.4" height="3.4" fill="#a5a5a5"/>
<circle cx="613.3" cy="481" r="1.5" fill="none" stroke="#255e91" stroke-width="1.1"/>
<circle cx="187" cy="809.9" r="2.5" fill="#a5a5a5"/>
<circle cx="232.6" cy="809.9" r="2.5" fill="#ff0000"/>
<g font-family="Liberation Serif" fill="#111" font-size="22">
<text x="204.2" y="812">B</text>
<text x="217.6" y="803" font-size="13">-</text>
<text x="258" y="812">O</text>
<line x1="274.2" y1="817.5" x2="281" y2="795.5" stroke="#111" stroke-width="1.5"/>
<text x="296.8" y="812">O</text>
</g>
<g fill="#111" font-family="Liberation Serif"><text transform="translate(247.50,804.60) scale(1,0.68)" font-size="13" text-anchor="middle">1</text><text x="253.90" y="804.60" font-size="13" text-anchor="middle">8</text></g>
<g fill="#111" font-family="Liberation Serif"><text transform="translate(286.20,804.60) scale(1,0.68)" font-size="13" text-anchor="middle">1</text><text x="292.60" y="804.60" font-size="13" text-anchor="middle">6</text></g>
<g fill="#111" font-family="Liberation Serif" font-weight="bold"><text transform="translate(74.95,9.70) scale(1,0.68)" font-size="17" text-anchor="middle">1</text><text x="83.65" y="9.70" font-size="17" text-anchor="middle">o</text></g>
<g fill="#111" font-family="Liberation Serif" font-weight="bold"><text transform="translate(83.65,80.10) scale(1,0.68)" font-size="17" text-anchor="middle">1</text></g>
<g fill="#111" font-family="Liberation Serif" font-weight="bold"><text x="69.95" y="150.70" font-size="17" text-anchor="middle">o</text><text x="76.80" y="150.70" font-size="17" text-anchor="middle">.</text><text transform="translate(83.65,150.70) scale(1,0.68)" font-size="17" text-anchor="middle">1</text></g>
<g fill="#111" font-family="Liberation Serif" font-weight="bold"><text x="61.25" y="221.30" font-size="17" text-anchor="middle">o</text><text x="68.10" y="221.30" font-size="17" text-anchor="middle">.</text><text x="74.95" y="221.30" font-size="17" text-anchor="middle">o</text><text transform="translate(83.65,221.30) scale(1,0.68)" font-size="17" text-anchor="middle">1</text></g>
<g fill="#111" font-family="Liberation Serif" font-weight="bold"><text transform="translate(60.65,303.20) scale(1,0.68)" font-size="17" text-anchor="middle">1</text><text x="69.35" y="303.20" font-size="17" text-anchor="middle">o</text><text x="78.05" y="303.20" font-size="17" text-anchor="middle">o</text></g>
<g fill="#111" font-family="Liberation Serif" font-weight="bold"><text transform="translate(69.35,360.00) scale(1,0.68)" font-size="17" text-anchor="middle">1</text><text x="78.05" y="360.00" font-size="17" text-anchor="middle">o</text></g>
<g fill="#111" font-family="Liberation Serif" font-weight="bold"><text transform="translate(78.05,417.00) scale(1,0.68)" font-size="17" text-anchor="middle">1</text></g>
<g fill="#111" font-family="Liberation Serif" font-weight="bold"><text x="64.35" y="473.80" font-size="17" text-anchor="middle">o</text><text x="71.20" y="473.80" font-size="17" text-anchor="middle">.</text><text transform="translate(78.05,473.80) scale(1,0.68)" font-size="17" text-anchor="middle">1</text></g>
<g fill="#111" font-family="Liberation Serif" font-weight="bold"><text x="55.65" y="530.40" font-size="17" text-anchor="middle">o</text><text x="62.50" y="530.40" font-size="17" text-anchor="middle">.</text><text x="69.35" y="530.40" font-size="17" text-anchor="middle">o</text><text transform="translate(78.05,530.40) scale(1,0.68)" font-size="17" text-anchor="middle">1</text></g>
<g fill="#111" font-family="Liberation Serif" font-weight="bold"><text x="77.15" y="916.50" font-size="17" text-anchor="middle">o</text></g>
<g fill="#111" font-family="Liberation Serif" font-weight="bold"><text x="55.15" y="876.77" font-size="17" text-anchor="middle">o</text><text x="61.80" y="876.77" font-size="17" text-anchor="middle">.</text><text x="68.45" y="876.77" font-size="17" text-anchor="middle">o</text><text transform="translate(77.15,876.77) scale(1,0.68)" font-size="17" text-anchor="middle">1</text></g>
<g fill="#111" font-family="Liberation Serif" font-weight="bold"><text x="55.15" y="837.05" font-size="17" text-anchor="middle">o</text><text x="61.80" y="837.05" font-size="17" text-anchor="middle">.</text><text x="68.45" y="837.05" font-size="17" text-anchor="middle">o</text><text transform="translate(77.15,837.05) scale(1,0.68)" font-size="17" text-anchor="middle">2</text></g>
<g fill="#111" font-family="Liberation Serif" font-weight="bold"><text x="55.15" y="797.32" font-size="17" text-anchor="middle">o</text><text x="61.80" y="797.32" font-size="17" text-anchor="middle">.</text><text x="68.45" y="797.32" font-size="17" text-anchor="middle">o</text><text x="77.15" y="800.89" font-size="17" text-anchor="middle">3</text></g>
<g fill="#111" font-family="Liberation Serif" font-weight="bold"><text x="55.15" y="757.60" font-size="17" text-anchor="middle">o</text><text x="61.80" y="757.60" font-size="17" text-anchor="middle">.</text><text x="68.45" y="757.60" font-size="17" text-anchor="middle">o</text><text x="77.15" y="761.17" font-size="17" text-anchor="middle">4</text></g>
<g fill="#111" font-family="Liberation Serif" font-weight="bold"><text x="55.15" y="717.88" font-size="17" text-anchor="middle">o</text><text x="61.80" y="717.88" font-size="17" text-anchor="middle">.</text><text x="68.45" y="717.88" font-size="17" text-anchor="middle">o</text><text x="77.15" y="721.45" font-size="17" text-anchor="middle">5</text></g>
<g fill="#111" font-family="Liberation Serif" font-weight="bold"><text x="55.15" y="678.15" font-size="17" text-anchor="middle">o</text><text x="61.80" y="678.15" font-size="17" text-anchor="middle">.</text><text x="68.45" y="678.15" font-size="17" text-anchor="middle">o</text><text x="77.15" y="678.15" font-size="17" text-anchor="middle">6</text></g>
<g fill="#111" font-family="Liberation Serif" font-weight="bold"><text x="55.15" y="638.43" font-size="17" text-anchor="middle">o</text><text x="61.80" y="638.43" font-size="17" text-anchor="middle">.</text><text x="68.45" y="638.43" font-size="17" text-anchor="middle">o</text><text x="77.15" y="642.00" font-size="17" text-anchor="middle">7</text></g>
<g fill="#111" font-family="Liberation Serif" font-weight="bold"><text x="55.15" y="598.70" font-size="17" text-anchor="middle">o</text><text x="61.80" y="598.70" font-size="17" text-anchor="middle">.</text><text x="68.45" y="598.70" font-size="17" text-anchor="middle">o</text><text x="77.15" y="598.70" font-size="17" text-anchor="middle">8</text></g>
<g fill="#111" font-family="Liberation Serif" font-weight="bold"><text x="590.00" y="916.70" font-size="16" text-anchor="middle">o</text></g>
<g fill="#111" font-family="Liberation Serif" font-weight="bold"><text x="590.00" y="863.73" font-size="16" text-anchor="middle">o</text><text x="596.20" y="863.73" font-size="16" text-anchor="middle">.</text><text transform="translate(602.40,863.73) scale(1,0.68)" font-size="16" text-anchor="middle">2</text></g>
<g fill="#111" font-family="Liberation Serif" font-weight="bold"><text x="590.00" y="810.76" font-size="16" text-anchor="middle">o</text><text x="596.20" y="810.76" font-size="16" text-anchor="middle">.</text><text x="602.40" y="814.12" font-size="16" text-anchor="middle">4</text></g>
<g fill="#111" font-family="Liberation Serif" font-weight="bold"><text x="590.00" y="757.79" font-size="16" text-anchor="middle">o</text><text x="596.20" y="757.79" font-size="16" text-anchor="middle">.</text><text x="602.40" y="757.79" font-size="16" text-anchor="middle">6</text></g>
<g fill="#111" font-family="Liberation Serif" font-weight="bold"><text x="590.00" y="704.82" font-size="16" text-anchor="middle">o</text><text x="596.20" y="704.82" font-size="16" text-anchor="middle">.</text><text x="602.40" y="704.82" font-size="16" text-anchor="middle">8</text></g>
<g fill="#111" font-family="Liberation Serif" font-weight="bold"><text transform="translate(590.00,651.85) scale(1,0.68)" font-size="16" text-anchor="middle">1</text></g>
<g fill="#111" font-family="Liberation Serif" font-weight="bold"><text transform="translate(590.00,598.88) scale(1,0.68)" font-size="16" text-anchor="middle">1</text><text x="596.20" y="598.88" font-size="16" text-anchor="middle">.</text><text transform="translate(602.40,598.88) scale(1,0.68)" font-size="16" text-anchor="middle">2</text></g>
<g fill="#111" font-family="Liberation Serif" font-weight="bold"><text x="97.40" y="940.30" font-size="17.5" text-anchor="middle">o</text></g>
<g fill="#111" font-family="Liberation Serif" font-weight="bold"><text transform="translate(179.20,940.30) scale(1,0.68)" font-size="17.5" text-anchor="middle">1</text><text x="187.80" y="940.30" font-size="17.5" text-anchor="middle">o</text><text x="196.40" y="940.30" font-size="17.5" text-anchor="middle">o</text><text x="205.00" y="940.30" font-size="17.5" text-anchor="middle">o</text></g>
<g fill="#111" font-family="Liberation Serif" font-weight="bold"><text transform="translate(273.90,940.30) scale(1,0.68)" font-size="17.5" text-anchor="middle">2</text><text x="282.50" y="940.30" font-size="17.5" text-anchor="middle">o</text><text x="291.10" y="940.30" font-size="17.5" text-anchor="middle">o</text><text x="299.70" y="940.30" font-size="17.5" text-anchor="middle">o</text></g>
<g fill="#111" font-family="Liberation Serif" font-weight="bold"><text x="368.60" y="943.97" font-size="17.5" text-anchor="middle">3</text><text x="377.20" y="940.30" font-size="17.5" text-anchor="middle">o</text><text x="385.80" y="940.30" font-size="17.5" text-anchor="middle">o</text><text x="394.40" y="940.30" font-size="17.5" text-anchor="middle">o</text></g>
<g fill="#111" font-family="Liberation Serif" font-weight="bold"><text x="463.30" y="943.97" font-size="17.5" text-anchor="middle">4</text><text x="471.90" y="940.30" font-size="17.5" text-anchor="middle">o</text><text x="480.50" y="940.30" font-size="17.5" text-anchor="middle">o</text><text x="489.10" y="940.30" font-size="17.5" text-anchor="middle">o</text></g>
<g fill="#111" font-family="Liberation Serif" font-weight="bold"><text x="558.00" y="943.97" font-size="17.5" text-anchor="middle">5</text><text x="566.60" y="940.30" font-size="17.5" text-anchor="middle">o</text><text x="575.20" y="940.30" font-size="17.5" text-anchor="middle">o</text><text x="583.80" y="940.30" font-size="17.5" text-anchor="middle">o</text></g>
</svg></body></html>
